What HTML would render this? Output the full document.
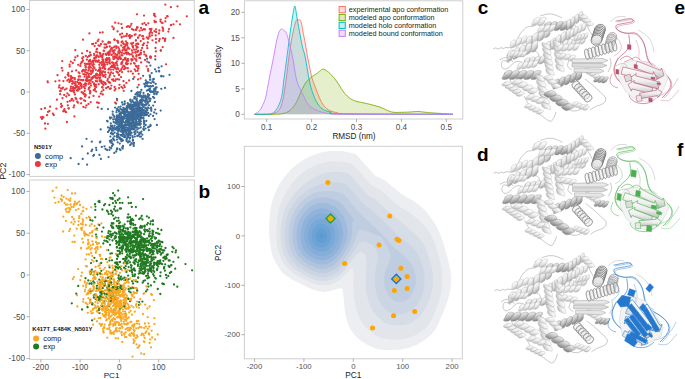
<!DOCTYPE html><html><head><meta charset="utf-8"><style>html,body{margin:0;padding:0;background:#fff;overflow:hidden}svg{display:block}</style></head><body><svg width="685" height="379" viewBox="0 0 685 379" font-family='"Liberation Sans", sans-serif'>
<rect width="685" height="379" fill="#fff"/>
<clipPath id="c1"><rect x="30" y="0.5" width="164" height="175.9"/></clipPath>
<rect x="29.5" y="0.5" width="164.8" height="175.9" fill="#fff" stroke="#cfcfcf" stroke-width="1"/>
<g clip-path="url(#c1)" stroke-linecap="round" stroke-width="2.3" fill="none">
<path stroke="#3c6b98" d="M124.0 127.7h0M141.5 109.8h0M133.8 110.8h0M127.3 134.1h0M117.0 108.8h0M128.5 121.6h0M126.9 111.4h0M132.8 115.1h0M140.7 118.4h0M121.8 117.2h0M136.8 98.5h0M147.1 82.1h0M111.9 128.9h0M153.8 82.4h0M144.3 122.5h0M127.9 137.1h0M119.7 125.1h0M134.7 111.1h0M121.5 118.2h0M122.9 146.5h0M125.0 125.0h0M136.2 116.5h0M131.7 123.5h0M134.8 113.3h0M110.0 128.4h0M113.0 138.4h0M137.8 109.6h0M117.2 124.2h0M146.4 97.7h0M156.5 94.2h0M110.5 142.4h0M122.5 125.5h0M128.2 131.2h0M138.4 107.2h0M121.1 127.4h0M128.7 125.7h0M132.6 108.3h0M129.4 112.7h0M125.0 130.2h0M119.0 130.2h0M116.5 122.2h0M150.3 79.7h0M121.4 139.4h0M151.7 73.1h0M133.0 120.0h0M148.2 90.0h0M131.4 91.0h0M130.0 137.7h0M150.6 86.3h0M116.4 128.0h0M114.6 132.7h0M109.7 147.4h0M126.6 141.0h0M140.3 117.6h0M145.7 125.0h0M134.4 117.6h0M132.5 136.2h0M144.8 105.5h0M134.4 129.4h0M126.5 139.9h0M116.5 112.2h0M126.5 121.2h0M143.6 110.0h0M113.7 139.4h0M136.0 120.2h0M140.8 114.0h0M122.8 120.6h0M136.0 119.2h0M122.5 127.1h0M113.1 144.5h0M119.0 116.0h0M148.1 127.4h0M137.4 92.5h0M131.6 114.7h0M132.2 105.1h0M134.7 112.5h0M130.7 123.9h0M134.5 104.9h0M132.8 125.6h0M153.0 86.0h0M124.7 128.5h0M163.4 76.3h0M126.2 132.9h0M126.8 107.3h0M112.2 128.9h0M123.8 108.6h0M122.8 120.2h0M100.4 141.6h0M153.1 115.9h0M126.1 124.4h0M140.7 127.5h0M127.7 103.1h0M123.9 126.2h0M132.7 112.5h0M134.1 109.0h0M149.9 88.9h0M128.9 118.6h0M113.6 115.6h0M133.4 112.2h0M110.8 125.9h0M134.4 127.1h0M134.8 118.9h0M125.6 127.9h0M139.9 100.7h0M133.3 118.0h0M137.3 110.4h0M99.9 142.4h0M112.2 143.4h0M100.7 129.4h0M126.5 125.6h0M137.2 111.7h0M150.7 92.0h0M145.8 80.4h0M128.5 134.9h0M135.5 94.3h0M140.5 92.2h0M119.4 128.5h0M87.1 164.7h0M141.9 109.9h0M116.9 115.5h0M131.4 102.5h0M124.5 104.3h0M147.2 86.0h0M135.2 108.6h0M124.3 117.0h0M134.4 122.3h0M118.0 136.0h0"/>
<path stroke="#e8383d" d="M137.0 14.3h0M127.9 58.8h0M82.1 53.3h0M99.1 75.0h0M109.5 59.4h0M130.8 63.7h0M127.9 59.9h0M117.2 40.8h0M100.6 70.6h0M106.1 44.5h0M85.6 67.1h0M143.1 38.7h0M88.7 76.0h0M124.7 49.6h0M114.2 58.6h0M113.1 73.3h0M155.7 35.4h0M100.7 93.7h0M102.4 68.1h0M80.5 98.4h0M85.6 80.3h0M110.0 88.9h0M72.2 90.7h0M128.0 48.4h0M116.5 71.6h0M42.3 117.0h0M95.8 69.8h0M159.4 30.5h0M91.6 78.1h0M83.5 93.4h0M87.4 73.0h0M123.7 44.0h0M67.7 74.8h0M114.1 58.7h0M86.8 79.3h0M87.0 63.8h0M93.5 60.8h0M45.0 123.5h0M69.6 64.7h0M149.6 36.4h0M103.6 64.3h0M124.1 69.2h0M79.3 88.8h0M59.0 87.4h0M43.4 117.5h0M114.6 87.0h0M81.5 62.4h0M85.7 85.7h0M113.2 63.0h0M104.9 83.2h0M125.4 50.7h0M102.8 94.5h0M89.5 87.4h0M63.4 81.1h0M122.1 27.9h0M56.4 108.7h0M87.1 72.8h0M156.0 21.8h0M68.9 95.2h0M132.6 46.2h0M102.5 59.5h0M85.3 72.1h0M93.6 66.8h0M85.2 100.9h0M82.9 92.9h0M86.1 80.8h0M128.3 71.4h0M124.9 58.4h0M98.8 60.5h0M155.3 16.4h0M127.1 64.2h0M68.7 75.9h0M132.7 52.7h0M91.4 79.3h0M152.0 35.3h0M86.5 80.3h0M74.6 60.1h0M101.5 83.0h0M134.6 34.8h0M110.8 88.4h0M99.7 67.3h0M107.0 62.4h0M72.2 78.0h0M119.5 84.8h0M169.0 29.1h0M70.0 80.3h0M91.0 74.1h0M71.3 78.9h0M148.0 69.1h0M100.1 73.1h0M109.8 46.5h0"/>
<path stroke="#3c6b98" d="M146.4 104.7h0M151.0 83.1h0M136.9 111.8h0M126.9 106.2h0M120.7 113.9h0M120.6 118.2h0M133.8 124.0h0M136.9 121.9h0M150.0 77.0h0M145.0 104.9h0M112.7 114.3h0M117.6 122.7h0M122.8 120.0h0M129.8 132.7h0M133.9 115.5h0M118.9 126.5h0M137.4 115.5h0M127.6 107.9h0M124.8 125.2h0M130.6 111.7h0M129.3 120.4h0M139.8 121.2h0M133.0 139.9h0M144.0 97.4h0M150.4 65.6h0M122.8 132.8h0M116.5 129.7h0M122.4 131.0h0M110.8 123.4h0M148.1 107.9h0M130.3 114.0h0M133.3 125.6h0M113.0 130.5h0M153.2 79.4h0M139.5 132.7h0M121.2 121.7h0M129.7 133.3h0M118.3 109.8h0M149.6 88.8h0M136.7 104.7h0M130.0 134.2h0M136.0 127.5h0M126.0 120.6h0M141.2 117.5h0M145.6 96.2h0M139.9 115.8h0M145.0 112.5h0M139.3 121.3h0M130.9 106.6h0M130.1 131.5h0M133.5 119.8h0M145.3 110.9h0M130.0 129.4h0M128.4 123.5h0M155.5 87.6h0M132.9 140.8h0M147.6 82.3h0M154.1 97.9h0M133.4 120.9h0M153.7 92.2h0M131.3 114.3h0M131.4 111.9h0M133.2 78.9h0M127.6 115.1h0M124.1 130.1h0M128.3 136.2h0M121.9 122.9h0M132.3 110.3h0M142.6 115.2h0M101.7 108.9h0M153.2 105.6h0M110.4 136.6h0M108.0 109.1h0M142.6 96.8h0M154.1 112.4h0M145.0 113.5h0M117.2 129.3h0M123.5 119.1h0M117.3 133.9h0M133.6 119.2h0M146.6 112.6h0M100.9 158.9h0M145.6 114.2h0M121.2 115.7h0M146.8 103.9h0M138.8 128.3h0M144.1 123.9h0M129.7 117.7h0M131.0 118.4h0M134.0 106.0h0M139.6 120.5h0M141.4 131.6h0M126.3 114.9h0M130.6 115.8h0M131.5 143.4h0M156.4 113.6h0M134.6 113.9h0M82.1 146.4h0M119.0 125.6h0M128.0 142.4h0M134.4 110.1h0M114.3 116.9h0M118.2 116.9h0M136.1 124.1h0M156.6 87.4h0M122.9 146.0h0M122.9 117.2h0M122.8 104.7h0M141.4 110.4h0M125.7 136.0h0M139.4 107.7h0M133.8 122.4h0"/>
<path stroke="#e8383d" d="M138.8 55.1h0M163.1 30.8h0M114.3 76.1h0M121.5 86.9h0M99.5 71.3h0M88.8 77.3h0M110.2 74.1h0M70.0 80.4h0M74.2 105.5h0M115.3 54.1h0M109.8 51.5h0M165.3 38.6h0M136.8 47.5h0M78.8 79.3h0M133.0 47.6h0M139.9 35.1h0M83.0 60.5h0M92.6 78.1h0M82.4 61.6h0M120.4 52.1h0M83.0 39.7h0M130.6 25.6h0M100.7 56.3h0M86.6 78.4h0M102.2 57.4h0M117.5 67.8h0M76.7 85.6h0M88.6 67.5h0M120.1 34.5h0M111.5 54.8h0M75.3 50.1h0M40.9 117.3h0M84.9 74.5h0M139.5 35.4h0M93.3 43.8h0M99.2 69.9h0M127.9 60.9h0M71.0 76.1h0M72.8 77.9h0M88.9 61.2h0M119.1 75.0h0M137.7 47.4h0M115.1 68.0h0M82.1 58.3h0M142.2 36.2h0M60.7 90.9h0M149.5 36.2h0M116.1 63.1h0M129.1 80.4h0M99.3 64.8h0M156.0 42.5h0M92.6 77.1h0M100.4 56.0h0M105.7 53.9h0M176.6 21.3h0M111.6 66.8h0M81.6 98.6h0M108.4 69.6h0M95.9 57.4h0M117.4 72.3h0M69.3 82.1h0M96.8 55.5h0M89.6 63.8h0M100.3 70.2h0M86.5 105.4h0M162.7 47.1h0M92.8 70.9h0M77.5 56.0h0M146.1 55.5h0M159.7 39.0h0M114.3 56.3h0M154.1 15.3h0M80.7 63.8h0M105.0 72.3h0M75.6 98.0h0M61.0 88.4h0M128.5 48.2h0M95.9 60.6h0M133.1 56.7h0M115.2 80.8h0M102.4 83.6h0M116.6 55.7h0M113.2 79.4h0M131.8 35.9h0M103.5 85.0h0M92.4 72.5h0M171.2 24.8h0M66.0 112.2h0M109.2 58.1h0M72.7 88.5h0M126.0 49.4h0M129.4 48.7h0M90.3 92.2h0M105.0 72.2h0M113.8 67.1h0M95.6 77.5h0M97.3 75.4h0M83.2 80.0h0M162.5 27.5h0M137.7 51.8h0M47.1 115.2h0M123.2 43.3h0M128.5 35.9h0M135.6 34.3h0M108.4 72.6h0M136.5 29.1h0"/>
<path stroke="#e8383d" d="M117.8 72.5h0M137.1 27.2h0M104.0 50.9h0M94.9 89.0h0M113.7 28.1h0M112.0 65.6h0M104.9 64.9h0M82.3 71.1h0M95.4 85.4h0M85.1 96.5h0M96.1 91.6h0M116.9 55.8h0M144.0 15.6h0M125.9 41.4h0M100.4 71.5h0M85.4 83.4h0M89.6 55.7h0M104.5 66.6h0M125.7 52.8h0M97.5 55.7h0M73.6 107.4h0M100.2 68.3h0M119.0 88.1h0M64.2 94.9h0M105.5 62.1h0M109.9 42.4h0M135.7 45.3h0M62.1 105.8h0M125.8 59.3h0M88.0 80.7h0M99.8 78.0h0M106.4 58.8h0M117.3 65.4h0M160.6 19.6h0M94.7 58.5h0M114.8 50.1h0M106.1 88.1h0M91.0 63.9h0M97.2 81.4h0M93.8 64.3h0M41.3 109.1h0M105.7 59.5h0M94.5 76.3h0M177.5 6.3h0M84.3 70.8h0M103.6 50.7h0M122.1 62.2h0M114.8 65.3h0M79.7 88.8h0M75.1 88.1h0M148.1 38.7h0M121.9 52.8h0M111.3 48.8h0M122.8 88.1h0M103.4 90.0h0M118.1 69.1h0M131.5 23.8h0M101.0 62.9h0M133.1 42.9h0M77.8 89.4h0M138.2 37.5h0M89.1 87.9h0M90.5 70.9h0M103.0 59.6h0M74.9 94.4h0M125.0 46.5h0M139.3 54.6h0M95.9 75.0h0M173.5 37.9h0M122.5 67.2h0M96.1 51.8h0M88.6 89.3h0M49.4 111.0h0M77.8 90.7h0M80.1 83.0h0M123.5 81.2h0M99.8 45.8h0M45.0 108.2h0M105.6 74.6h0M85.8 67.6h0M92.5 81.9h0M87.1 77.1h0M140.6 54.3h0M88.5 84.0h0"/>
<path stroke="#3c6b98" d="M125.3 128.9h0M165.0 87.9h0M116.5 122.2h0M141.2 109.8h0M128.8 113.2h0M133.4 113.4h0M137.9 123.9h0M144.1 100.3h0M118.3 134.5h0M137.3 106.1h0M148.6 86.4h0M124.8 128.3h0M118.5 119.8h0M149.1 62.6h0M133.9 119.7h0M118.4 131.6h0M140.4 119.0h0M128.9 120.3h0M134.2 128.3h0M137.8 108.5h0M119.3 119.6h0M117.4 121.3h0M113.0 133.8h0M130.2 145.0h0M148.9 82.6h0M140.3 118.2h0M96.4 150.1h0M137.9 124.9h0M146.0 82.8h0M137.3 96.1h0M123.5 127.4h0M119.7 137.3h0M142.0 108.5h0M112.1 126.0h0M128.2 115.7h0M118.5 116.5h0M140.1 94.1h0M119.6 113.7h0M119.7 116.8h0M131.2 115.6h0M118.3 128.8h0M122.2 124.9h0M126.0 118.3h0M131.8 126.4h0M122.3 136.1h0M125.5 124.9h0M155.3 59.4h0M116.6 116.8h0M111.9 130.8h0M137.6 107.0h0M149.7 90.1h0M121.8 124.3h0M132.4 100.5h0M144.7 113.9h0M119.4 138.5h0M146.0 115.2h0M156.9 125.0h0M138.6 115.4h0M120.8 112.4h0M120.6 121.4h0M111.5 132.8h0M125.1 113.3h0M126.5 134.2h0M129.9 124.4h0M127.9 112.5h0M113.4 128.1h0M135.3 102.3h0M155.5 88.8h0M119.9 125.8h0M133.2 104.8h0M131.3 124.2h0M133.7 129.1h0M129.1 130.8h0M135.0 113.1h0M136.4 124.2h0M109.1 130.5h0M136.1 119.1h0M119.4 114.9h0M140.4 107.6h0M137.6 112.6h0M137.6 110.3h0M139.8 110.8h0M143.4 118.3h0M139.5 105.5h0M139.8 110.3h0M128.5 132.9h0M112.0 146.0h0M132.0 111.9h0M126.6 115.2h0M152.3 92.1h0M142.2 105.0h0M135.0 125.9h0M134.0 143.0h0M128.1 119.2h0M143.9 130.1h0M126.8 138.7h0M134.1 119.2h0M133.2 117.5h0M143.5 92.9h0M146.1 100.1h0M123.5 128.0h0M161.3 88.8h0M132.4 113.0h0M132.5 105.9h0M109.5 149.9h0M139.9 124.9h0M144.0 120.6h0M126.5 130.5h0M147.1 58.7h0M154.1 89.2h0M130.1 129.3h0M127.0 119.9h0M120.0 122.3h0M120.6 138.7h0M135.2 111.1h0M121.9 117.3h0M121.7 129.4h0M125.6 112.6h0M132.9 126.3h0M127.7 129.6h0M132.7 101.3h0M127.6 115.0h0M124.6 114.3h0M132.6 104.9h0M128.2 123.1h0M137.1 118.7h0M120.3 125.6h0M150.4 108.4h0M144.5 114.8h0M137.3 129.4h0M121.1 121.3h0M145.5 128.6h0M122.7 122.6h0M133.9 102.7h0"/>
<path stroke="#3c6b98" d="M116.9 98.9h0M117.0 139.6h0M154.2 94.0h0M141.9 113.7h0M131.5 114.1h0M141.7 109.2h0M141.0 99.9h0M158.7 67.7h0M137.9 103.4h0M127.4 111.8h0M150.5 124.9h0M125.2 122.5h0M137.4 102.0h0M129.8 117.0h0M116.1 103.6h0M132.3 111.2h0M141.2 108.2h0M125.5 127.4h0M128.1 115.6h0M121.9 128.6h0M130.3 99.7h0M133.5 144.6h0M119.1 110.9h0M107.1 150.0h0M154.2 90.4h0M82.7 158.9h0M146.3 111.6h0M129.6 127.0h0M143.6 110.0h0M133.6 114.1h0M129.4 121.7h0M93.3 155.8h0M117.3 133.5h0M149.5 98.6h0M117.8 129.6h0M117.7 129.5h0M139.9 101.7h0M143.9 115.7h0M122.9 140.5h0M150.1 86.3h0M156.6 93.4h0M155.2 109.6h0M123.0 130.9h0M147.9 94.2h0M132.4 120.2h0M127.7 121.9h0M161.6 66.3h0M137.0 105.3h0M94.0 155.0h0M139.8 110.0h0M118.6 107.2h0M134.8 125.0h0M132.6 106.2h0M126.3 109.2h0M135.7 114.4h0M145.1 107.8h0M129.5 132.4h0M134.3 132.2h0M114.3 152.9h0M130.1 104.6h0M123.3 107.8h0M150.5 114.3h0M120.7 135.1h0M124.7 103.4h0M136.6 117.7h0M114.6 125.6h0M133.7 105.1h0M134.0 111.7h0M127.7 120.9h0M124.7 111.7h0M141.2 103.3h0M139.1 103.0h0M143.4 118.3h0M142.2 101.5h0M124.0 111.3h0M118.3 127.1h0M134.0 105.8h0M124.3 134.8h0M116.7 136.2h0M125.8 131.7h0M146.8 109.4h0M132.7 137.6h0M140.8 114.2h0M140.8 96.6h0M138.4 114.5h0M149.9 91.1h0M127.5 127.8h0M145.9 98.1h0M131.7 108.8h0M135.7 102.9h0M119.8 124.0h0M121.7 134.8h0M145.8 108.3h0M160.7 110.6h0M113.9 127.7h0M142.8 117.8h0M153.1 97.0h0M130.6 118.8h0M125.8 124.8h0M114.3 140.3h0"/>
<path stroke="#e8383d" d="M117.1 100.2h0M83.2 93.0h0M129.7 54.4h0M138.8 55.1h0M94.3 55.4h0M138.4 68.3h0M116.6 63.7h0M152.1 32.8h0M137.6 27.5h0M115.4 57.6h0M103.3 60.3h0M107.8 79.1h0M130.6 36.8h0M59.4 80.7h0M128.0 26.2h0M121.7 37.5h0M47.6 81.3h0M94.5 68.1h0M99.5 80.1h0M86.9 59.6h0M116.6 46.3h0M140.7 53.5h0M109.6 52.1h0M117.3 54.5h0M121.1 77.1h0M89.4 33.4h0M114.6 39.9h0M132.9 46.4h0M133.6 30.0h0M104.1 65.5h0M122.4 50.5h0M126.4 82.9h0M143.9 43.3h0M99.9 53.0h0M132.6 59.7h0M136.0 30.0h0M135.7 71.0h0M150.2 56.4h0M98.8 57.0h0M102.7 71.8h0M64.0 110.5h0M124.1 85.3h0M126.5 64.0h0M47.8 82.3h0M110.8 69.7h0M95.9 81.0h0M75.3 57.4h0M160.8 50.8h0M59.4 85.4h0M133.0 56.3h0M113.5 80.8h0M127.5 43.3h0M108.7 82.0h0M103.1 67.2h0M111.2 72.4h0M115.4 57.1h0M165.0 39.3h0M166.1 64.3h0M104.8 69.2h0M118.1 42.8h0M75.1 85.3h0M137.6 43.6h0M98.5 45.4h0M104.2 63.7h0M126.6 60.5h0M113.8 47.3h0M119.5 50.7h0M154.5 20.8h0M103.2 76.3h0M99.1 96.6h0M138.1 50.9h0M94.0 76.1h0M102.8 75.0h0M125.6 44.5h0M89.4 76.9h0M113.5 65.4h0M155.9 38.9h0M83.9 94.3h0M136.5 55.2h0M62.5 98.1h0M81.6 92.2h0M140.1 58.0h0M95.9 84.6h0M163.1 28.9h0M66.3 96.5h0M115.4 63.2h0M156.0 29.3h0M102.8 61.2h0M118.4 51.7h0M119.8 71.0h0M112.3 26.6h0M121.7 36.9h0M75.1 88.4h0M83.8 69.8h0M71.2 78.0h0M81.1 103.3h0M80.7 98.7h0M89.7 65.9h0M136.1 59.4h0M90.6 80.7h0M122.4 41.4h0M89.6 66.7h0M64.8 89.6h0M102.1 55.1h0M97.9 61.8h0M107.2 59.9h0M111.6 54.9h0M148.3 23.3h0M85.8 55.9h0M73.9 92.4h0M135.4 52.6h0M147.3 61.7h0M69.8 101.1h0M89.0 69.1h0M74.0 83.1h0M68.6 79.3h0M80.1 76.4h0M131.7 54.4h0"/>
<path stroke="#3c6b98" d="M130.6 108.0h0M147.1 114.7h0M123.5 118.9h0M137.3 136.0h0M138.0 113.9h0M120.0 119.5h0M142.2 104.3h0M144.1 113.1h0M145.0 86.7h0M134.5 116.9h0M131.8 127.4h0M143.2 104.4h0M145.2 95.6h0M139.9 121.9h0M115.1 107.6h0M130.1 131.7h0M128.6 118.0h0M140.7 133.1h0M121.5 120.6h0M139.2 133.9h0M141.5 111.8h0M118.3 122.1h0M129.6 131.6h0M108.6 157.1h0M123.2 127.2h0M108.0 132.0h0M121.4 123.0h0M91.5 151.2h0M147.5 107.6h0M132.4 129.3h0M138.3 115.6h0M140.1 100.9h0M108.0 127.4h0M128.8 107.2h0M133.0 116.7h0M150.9 86.5h0M141.4 90.0h0M122.6 131.6h0M138.0 116.4h0M137.9 108.2h0M142.8 100.6h0M148.9 130.2h0M117.5 128.4h0M117.1 148.4h0M140.9 95.8h0M117.4 118.2h0M130.0 126.4h0M135.6 130.9h0M120.8 139.7h0M117.0 137.1h0M130.4 100.9h0M110.2 118.5h0M133.2 109.2h0M138.8 117.3h0M143.9 121.9h0M130.7 104.6h0M142.0 109.7h0M151.9 91.3h0M112.5 134.3h0M130.3 130.2h0M124.3 110.5h0M122.5 111.5h0M117.8 130.2h0M134.8 136.6h0M122.1 120.2h0M139.4 96.4h0M141.2 115.2h0M122.1 130.6h0M122.0 130.7h0M130.0 108.8h0M122.0 102.5h0M133.8 112.0h0M118.1 127.7h0M142.3 134.7h0M126.8 111.6h0M138.2 111.2h0M99.4 154.9h0M148.3 96.6h0M147.4 85.8h0M124.3 118.3h0M139.5 134.1h0M139.8 120.1h0M136.3 111.6h0M137.8 105.3h0M133.9 114.8h0M131.6 106.9h0M143.7 97.6h0M148.1 94.6h0M161.5 76.0h0M155.7 91.7h0M116.2 151.5h0M91.8 141.7h0M130.2 106.3h0M146.8 100.0h0M127.9 129.4h0M132.1 116.7h0M128.5 123.4h0M138.1 94.6h0M140.9 121.4h0M147.3 96.8h0M136.9 100.4h0M123.5 134.1h0M132.1 113.8h0M144.8 112.9h0M154.9 102.0h0M101.8 146.9h0M146.4 99.1h0M136.4 114.8h0"/>
<path stroke="#e8383d" d="M93.3 64.3h0M86.4 74.8h0M126.6 62.3h0M108.7 51.9h0M146.9 37.5h0M130.0 36.7h0M126.8 54.0h0M147.3 48.2h0M131.2 59.3h0M160.8 50.2h0M116.5 57.3h0M77.3 82.2h0M95.9 61.7h0M115.2 22.7h0M90.0 91.0h0M131.8 60.5h0M65.3 111.6h0M72.2 83.8h0M142.4 23.9h0M108.3 42.9h0M119.3 53.6h0M113.8 66.7h0M89.2 97.4h0M89.1 55.9h0M90.9 55.1h0M124.2 47.8h0M76.2 70.4h0M136.9 46.7h0M96.3 73.8h0M55.4 81.3h0M150.6 57.9h0M96.0 77.7h0M87.1 81.2h0M88.4 63.6h0M94.8 85.0h0M104.5 47.7h0M134.3 77.1h0M71.4 100.1h0M63.2 111.3h0M67.5 101.8h0M105.1 82.9h0M74.0 90.7h0M160.5 21.3h0M154.5 31.2h0M126.7 45.3h0M105.7 47.6h0M74.8 78.1h0M138.0 68.7h0M144.1 51.8h0M93.0 69.1h0M78.9 89.4h0M138.8 84.8h0M98.5 39.6h0M79.0 87.1h0M149.9 32.8h0M88.3 70.6h0M146.0 24.9h0M93.5 95.9h0M97.9 61.2h0M96.8 73.8h0M94.1 53.8h0M102.7 32.3h0M159.0 33.5h0M103.2 71.5h0M48.0 111.9h0M138.5 65.9h0M167.7 16.3h0M77.2 101.7h0M126.1 36.0h0M85.4 65.4h0M102.0 62.1h0M111.4 85.6h0M131.2 43.4h0M84.9 88.4h0M138.0 37.8h0M165.3 21.4h0M113.4 59.0h0M136.2 49.3h0M131.8 59.2h0M71.9 99.2h0M135.7 51.6h0M101.2 80.5h0M118.4 47.3h0M122.2 62.3h0M81.7 86.4h0M121.3 69.8h0M151.3 29.0h0M90.6 73.4h0M134.7 69.3h0M141.1 28.0h0M67.3 80.5h0M78.8 76.5h0M122.3 55.3h0M107.8 53.9h0M63.0 87.6h0M110.6 50.2h0M80.9 79.9h0M101.6 91.6h0M102.6 87.6h0M129.2 54.1h0M83.4 106.9h0M87.6 57.1h0M71.0 86.7h0M155.5 48.0h0M90.1 60.0h0M121.4 24.1h0M132.9 73.7h0M70.9 88.7h0M94.2 58.1h0M72.0 71.3h0"/>
<path stroke="#e8383d" d="M124.4 46.8h0M141.1 50.4h0M68.3 74.5h0M96.3 56.5h0M123.7 90.8h0M42.0 118.9h0M154.2 13.8h0M107.4 80.7h0M91.1 61.8h0M129.9 38.0h0M149.5 34.1h0M106.2 60.2h0M114.8 67.1h0M85.3 94.5h0M93.1 62.5h0M179.9 24.3h0M109.0 68.7h0M72.9 81.8h0M109.0 62.6h0M98.0 70.8h0M123.9 36.4h0M113.5 53.4h0M186.8 16.3h0M119.2 49.1h0M144.4 54.4h0M113.6 29.3h0M78.4 79.9h0M89.4 82.3h0M131.8 44.2h0M117.6 31.4h0M88.5 103.9h0M92.9 60.6h0M92.1 44.1h0M108.4 87.2h0M96.1 87.0h0M162.6 23.1h0M71.2 81.3h0M134.6 58.6h0M96.2 57.4h0M119.0 57.9h0M141.1 62.4h0M126.8 26.9h0M135.9 40.2h0M123.8 59.8h0M84.7 90.9h0M109.6 53.3h0M113.2 50.9h0M73.2 88.1h0M150.3 57.4h0M106.4 54.9h0M109.8 75.7h0M122.9 47.6h0M127.9 47.5h0M94.1 84.5h0M94.8 86.6h0M97.5 52.3h0M122.0 72.1h0M89.0 61.0h0M114.4 39.5h0M121.6 42.2h0M135.9 40.7h0M121.5 62.8h0M119.4 56.4h0M132.0 29.2h0M73.4 100.7h0M120.3 58.8h0M97.1 48.9h0M45.4 128.7h0M125.1 68.1h0M88.7 64.1h0M93.5 77.2h0M121.4 64.1h0M80.3 65.9h0M107.7 87.2h0M142.1 48.0h0M60.1 91.2h0M164.9 41.0h0M84.6 76.7h0M100.2 74.7h0M138.1 79.4h0M75.3 81.9h0M108.6 62.4h0M114.0 52.5h0M104.2 75.3h0M85.4 95.8h0M89.2 80.2h0M82.9 70.1h0M134.1 49.6h0M93.7 90.1h0M75.5 84.0h0M67.8 105.3h0M109.9 42.7h0M145.0 29.5h0M111.8 47.9h0M117.7 79.2h0M95.1 85.2h0M135.9 65.9h0M77.0 86.9h0M83.2 57.2h0M101.9 72.8h0M156.1 32.0h0M151.0 56.9h0M67.4 93.5h0M121.6 68.8h0M110.8 67.2h0M61.1 103.9h0M112.0 79.6h0M115.0 46.3h0M129.8 35.1h0M112.1 62.5h0M84.9 63.6h0"/>
<path stroke="#3c6b98" d="M121.5 131.7h0M159.1 71.0h0M143.1 75.8h0M123.9 112.9h0M155.3 89.8h0M130.7 125.7h0M124.3 109.1h0M139.3 122.0h0M125.9 115.4h0M139.1 123.7h0M139.4 120.5h0M78.6 164.0h0M113.2 119.4h0M131.6 117.7h0M131.9 128.1h0M116.9 149.4h0M129.9 115.8h0M120.6 106.6h0M134.7 104.1h0M133.6 123.2h0M132.3 112.1h0M87.8 153.5h0M114.6 129.4h0M136.3 121.6h0M118.9 125.4h0M125.1 122.7h0M122.7 117.6h0M132.9 105.6h0M123.2 112.9h0M147.1 101.8h0M135.4 133.5h0M127.6 117.2h0M141.0 136.6h0M127.7 117.8h0M117.1 126.9h0M150.5 98.9h0M124.5 113.5h0M148.0 96.6h0M141.9 112.2h0M128.8 104.4h0M120.7 122.4h0M136.7 114.2h0M136.1 122.8h0M128.9 105.4h0M128.9 112.6h0M118.2 116.6h0M70.7 158.2h0M120.7 131.3h0M135.6 124.4h0M144.0 126.4h0M117.9 116.4h0M130.8 124.3h0M117.1 118.7h0M109.9 140.9h0M130.6 123.6h0M120.6 121.1h0M140.1 92.4h0M122.7 110.2h0M109.9 117.4h0M135.6 105.9h0M124.6 131.1h0M128.0 105.7h0M127.0 122.2h0M135.4 114.0h0M112.2 126.0h0M131.5 120.8h0M118.5 134.7h0M133.1 107.6h0M122.2 128.3h0M129.4 117.7h0M107.1 120.8h0M126.4 121.8h0M125.9 114.7h0M110.0 128.3h0M111.2 148.2h0M104.5 146.3h0M155.7 83.9h0M121.7 126.3h0M138.9 115.7h0M131.5 117.6h0M134.8 134.2h0M138.4 135.4h0M121.3 113.2h0M110.1 128.9h0M146.3 120.9h0M116.8 110.3h0M128.3 135.5h0M139.2 114.2h0M146.2 104.2h0M128.4 117.5h0M134.0 112.8h0M139.9 136.6h0M122.4 125.9h0M120.8 119.3h0M133.4 115.0h0M133.2 117.9h0M140.8 103.8h0M119.8 143.6h0M124.5 111.7h0M130.6 135.2h0M122.3 147.7h0M125.1 111.4h0M134.8 117.8h0M117.8 118.2h0M118.1 126.7h0M130.2 122.9h0M136.8 108.9h0"/>
<path stroke="#3c6b98" d="M143.6 128.4h0M149.8 75.4h0M129.1 128.3h0M141.4 104.2h0M96.1 147.8h0M129.8 123.9h0M127.5 130.1h0M117.9 137.2h0M112.7 111.7h0M151.0 107.6h0M126.0 115.9h0M128.0 118.9h0M156.3 71.4h0M127.1 109.8h0M105.5 149.0h0M132.3 118.7h0M119.1 111.6h0M149.9 101.0h0M137.4 114.4h0M112.2 128.1h0M135.1 97.5h0M140.3 112.6h0M154.6 90.4h0M126.3 121.5h0M129.5 117.7h0M150.5 126.1h0M136.7 93.1h0M134.6 127.6h0M130.5 115.4h0M127.4 110.1h0M127.5 137.6h0M136.5 115.8h0M169.5 74.8h0M141.3 101.5h0M134.3 106.2h0M139.9 111.7h0M137.3 108.4h0M143.3 129.1h0M126.4 116.0h0M121.5 109.7h0M142.7 99.8h0M111.5 125.8h0M123.2 113.2h0M131.3 114.0h0M140.6 117.4h0M148.1 112.9h0M137.5 87.3h0M130.4 117.5h0M143.4 95.4h0M132.4 122.1h0M122.2 129.9h0M122.1 120.3h0M151.3 108.9h0M92.2 149.7h0M111.5 117.6h0M132.4 109.5h0M120.5 150.1h0M124.2 115.0h0M140.8 123.8h0M137.8 117.2h0M154.6 119.1h0M121.3 125.8h0M116.0 120.4h0M145.2 101.9h0M125.2 125.1h0M141.2 113.4h0M138.2 92.5h0M133.1 109.8h0M134.4 105.6h0M131.3 129.0h0M134.2 98.6h0M123.8 132.3h0M121.5 141.2h0M130.9 109.0h0M124.9 115.2h0M142.6 138.9h0M122.7 148.6h0M125.1 112.4h0M111.0 133.5h0M153.8 79.0h0M138.0 111.5h0M133.9 114.6h0M133.8 145.9h0M136.4 93.8h0M149.3 95.1h0M130.4 119.3h0M128.7 134.3h0M148.5 101.7h0M128.5 122.6h0M141.5 108.8h0M145.7 85.5h0M86.5 138.8h0M129.8 141.5h0M152.6 81.5h0M134.6 123.0h0M119.2 117.1h0M141.9 97.9h0M111.4 140.1h0M129.6 114.7h0M121.3 130.1h0M138.2 104.1h0M139.4 95.8h0M126.5 109.9h0M131.8 143.5h0M121.9 139.4h0"/>
<path stroke="#e8383d" d="M84.0 100.3h0M62.4 88.7h0M97.0 78.4h0M121.2 45.5h0M79.0 84.0h0M70.1 90.4h0M126.9 52.5h0M155.9 51.4h0M154.8 22.2h0M98.7 84.2h0M115.1 102.6h0M100.5 75.6h0M168.4 31.6h0M87.3 77.4h0M105.8 84.1h0M171.0 25.2h0M114.6 90.4h0M85.5 107.6h0M136.3 60.8h0M76.3 86.0h0M165.3 4.6h0M123.1 60.1h0M79.0 82.9h0M118.8 74.6h0M97.8 107.4h0M62.3 61.1h0M78.2 64.8h0M119.2 79.6h0M118.1 59.4h0M62.5 70.6h0M142.3 30.2h0M68.5 108.3h0M77.0 90.3h0M82.2 71.6h0M91.0 85.6h0M148.3 38.3h0M163.0 38.2h0M99.4 69.3h0M127.8 68.2h0M88.8 73.9h0M109.5 82.5h0M154.5 14.1h0M110.0 82.8h0M84.2 84.7h0M83.3 74.1h0M60.1 94.2h0M81.4 85.4h0M69.7 66.6h0M52.9 113.6h0M109.7 61.0h0M108.9 55.0h0M126.9 34.0h0M108.7 42.0h0M125.7 68.1h0M143.2 45.0h0M167.1 16.2h0M134.7 63.7h0M81.0 85.5h0M131.0 71.3h0M91.0 67.7h0M71.0 91.0h0M102.6 41.5h0M90.7 102.1h0M105.1 68.7h0M115.5 89.0h0M150.7 31.4h0M85.6 95.1h0M127.2 45.0h0M89.9 93.4h0M78.0 102.7h0M117.8 41.2h0M84.0 86.9h0M155.3 56.2h0M107.4 58.5h0M100.0 32.6h0M106.9 46.9h0M102.5 64.5h0M115.9 79.5h0M170.9 7.2h0M97.1 102.5h0M105.4 77.2h0M116.8 61.6h0M106.9 58.2h0M92.8 71.2h0M118.5 23.3h0M123.3 65.6h0M152.5 40.3h0M125.9 45.1h0M101.7 73.3h0M73.6 88.9h0M94.7 46.1h0M125.9 63.5h0M75.8 87.5h0M165.6 18.1h0M78.2 79.9h0M127.0 42.8h0M125.4 57.8h0M64.4 110.4h0M140.8 53.0h0M150.9 30.8h0M134.0 63.1h0M135.7 52.3h0M100.5 71.9h0M77.3 86.6h0M76.4 99.2h0M66.5 88.7h0M102.1 87.2h0M138.7 73.8h0M129.7 27.2h0M64.5 109.1h0M147.0 45.7h0M116.4 48.0h0M100.2 53.9h0"/>
<path stroke="#3c6b98" d="M150.0 79.6h0M147.4 110.1h0M157.7 92.2h0M137.6 117.1h0M145.9 100.8h0M116.8 120.2h0M110.4 128.2h0M132.8 122.9h0M130.4 123.9h0M115.1 119.1h0M133.7 117.1h0M134.8 111.7h0M127.9 106.0h0M147.8 103.2h0M114.3 136.4h0M124.1 125.4h0M128.5 113.0h0M135.8 125.2h0M131.6 132.9h0M141.9 101.7h0M138.7 119.3h0M135.6 108.3h0M137.0 127.3h0M147.1 83.7h0M144.2 113.3h0M137.4 132.1h0M128.4 112.6h0M131.8 126.3h0M161.2 76.3h0M138.2 115.4h0M125.5 108.6h0M121.2 117.9h0M137.4 103.2h0M140.2 95.6h0M115.4 128.8h0M141.1 116.5h0M119.7 122.1h0M117.0 127.5h0M136.2 99.2h0M123.0 130.5h0M123.0 134.7h0M132.8 117.8h0M155.0 69.3h0M119.6 149.1h0M159.1 71.4h0M121.3 126.7h0M116.6 127.4h0M144.3 84.0h0M137.0 108.2h0M107.6 121.4h0M129.6 125.2h0M120.3 108.8h0M137.3 115.9h0M149.0 105.3h0M146.1 82.9h0M123.1 122.1h0M128.6 141.4h0M119.3 123.7h0M148.6 98.6h0M119.7 123.4h0M148.8 115.9h0M128.2 117.2h0M124.7 101.4h0M117.2 128.5h0M118.4 115.8h0M138.6 119.6h0M146.9 90.7h0M151.3 110.8h0M128.1 120.3h0M130.2 119.4h0M123.2 134.2h0M132.4 105.7h0M134.5 96.9h0M127.9 124.9h0M139.9 109.0h0M126.4 116.4h0M138.7 113.8h0M129.9 117.5h0M130.7 132.7h0M142.6 105.8h0M148.6 97.6h0M143.2 106.9h0M131.9 115.5h0M131.5 118.0h0M128.3 104.5h0M143.1 112.2h0M149.1 126.7h0M133.1 129.2h0M111.7 141.4h0M139.0 105.3h0M133.2 105.6h0M115.5 123.0h0M123.0 118.8h0M129.7 138.5h0M117.2 117.0h0M124.9 137.2h0M124.1 137.0h0M127.9 116.4h0M150.2 91.3h0M117.7 142.3h0M113.7 122.0h0M140.0 111.7h0M135.7 104.9h0M129.4 125.1h0M129.8 116.5h0"/>
<path stroke="#e8383d" d="M50.1 106.7h0M57.5 75.2h0M73.1 87.1h0M86.5 64.1h0M143.8 29.1h0M72.9 90.8h0M100.0 77.6h0M108.5 58.9h0M56.9 99.7h0M101.8 65.1h0M121.4 55.2h0M99.9 81.4h0M86.0 69.8h0M161.6 22.6h0M173.5 24.3h0M92.5 65.5h0M87.1 50.9h0M72.4 81.1h0M146.3 56.2h0M71.5 77.5h0M98.3 77.4h0M137.6 70.8h0M78.1 89.7h0M151.2 29.1h0M103.5 81.8h0M111.9 49.0h0M159.1 41.0h0M90.5 83.7h0M109.9 63.5h0M66.9 122.0h0M74.8 79.3h0M131.9 50.5h0M127.8 63.6h0M148.2 71.0h0M113.2 56.9h0M101.0 44.0h0M85.0 84.0h0M143.1 36.1h0M71.9 99.0h0M147.8 42.5h0M102.6 56.0h0M123.7 49.4h0M146.6 66.3h0M95.9 43.1h0M107.6 52.8h0M136.5 43.8h0M61.8 67.9h0M103.3 53.8h0M96.6 49.6h0M53.7 115.0h0M101.4 81.4h0M136.4 56.5h0M90.9 70.7h0M86.0 83.9h0M143.6 38.8h0M109.2 77.3h0M104.5 44.3h0M94.7 90.4h0M142.7 45.1h0M109.0 53.3h0M118.7 52.4h0M112.8 66.9h0M145.1 60.0h0M61.2 107.0h0M121.1 58.8h0M112.5 51.4h0M74.4 116.4h0M99.9 62.6h0M97.7 41.2h0M78.7 72.4h0M82.5 80.4h0M81.6 87.8h0M122.1 33.6h0M70.8 61.6h0M72.8 63.0h0M94.1 83.5h0M68.3 72.9h0M77.5 90.1h0M126.6 50.1h0M103.4 62.6h0M79.5 73.3h0M89.6 61.5h0M124.1 53.6h0M113.3 69.6h0M124.8 87.1h0M68.8 108.4h0M107.3 64.3h0M138.3 44.0h0M81.3 84.2h0M136.9 66.8h0M139.7 30.7h0M121.7 63.8h0M144.4 23.1h0M116.3 69.1h0M80.8 85.5h0M149.7 29.1h0M139.4 57.9h0M103.6 67.5h0M65.3 77.5h0M98.8 103.0h0M94.5 60.4h0M47.9 123.8h0M128.1 53.0h0M108.1 53.9h0M91.9 78.5h0M117.3 58.5h0M113.9 65.0h0M124.6 66.4h0M120.1 57.3h0M140.6 78.3h0M90.0 52.5h0M140.7 41.1h0"/>
</g>
<clipPath id="c2"><rect x="30" y="180" width="164" height="179.4"/></clipPath>
<rect x="29.5" y="180" width="164.8" height="179.4" fill="#fff" stroke="#cfcfcf" stroke-width="1"/>
<g clip-path="url(#c2)" stroke-linecap="round" stroke-width="2.3" fill="none">
<path stroke="#f9a825" d="M102.1 274.3h0M131.9 314.7h0M103.3 307.9h0M80.3 280.1h0M107.5 308.9h0M113.6 311.3h0M145.2 304.7h0M126.4 282.4h0M102.7 314.1h0M99.9 286.6h0M105.5 317.2h0M106.9 319.5h0M111.1 308.4h0M98.8 318.1h0M100.8 290.1h0M119.7 324.8h0M70.5 198.6h0M66.5 211.8h0M106.9 298.0h0M88.4 298.2h0M137.1 335.5h0M137.1 301.6h0M88.7 235.3h0M152.2 337.5h0M104.5 315.9h0M115.6 273.6h0M87.6 293.2h0M108.3 295.6h0M125.8 308.4h0M101.0 258.9h0M89.9 233.2h0M82.1 227.7h0M116.5 330.9h0M85.9 266.1h0M113.3 296.9h0M105.4 308.2h0M127.8 298.3h0M113.1 298.9h0M110.8 303.9h0M126.6 324.3h0M92.4 241.4h0M115.9 289.0h0M124.6 262.0h0M110.2 300.9h0M124.1 295.4h0M104.9 295.1h0M122.2 307.4h0M62.1 199.8h0M102.7 309.1h0M105.1 273.1h0M126.4 277.8h0M140.1 299.2h0M143.1 334.1h0M103.5 286.2h0M108.6 315.1h0M114.4 300.2h0M95.3 270.8h0M81.7 230.0h0M100.4 293.1h0M126.2 308.8h0M112.9 306.2h0M124.2 324.0h0M102.6 291.4h0M112.4 291.7h0M108.8 292.5h0M115.0 302.9h0M111.9 298.5h0M134.5 335.5h0M119.2 323.7h0M99.7 255.0h0M97.8 290.2h0M122.6 287.1h0M124.2 303.9h0M86.8 248.7h0M109.4 294.5h0M113.7 333.9h0M136.9 321.0h0M72.8 279.0h0M93.0 308.9h0M95.6 266.9h0M105.4 310.1h0M100.1 299.0h0M106.7 306.5h0M65.9 220.8h0M127.7 323.2h0M88.8 247.8h0M108.0 289.8h0M120.6 303.8h0M124.5 283.4h0M80.0 205.0h0M132.0 287.2h0M125.8 302.1h0M124.4 297.9h0M122.8 291.5h0M109.1 312.9h0M90.3 270.9h0M114.1 279.4h0M108.2 306.6h0M115.0 266.2h0M124.1 280.4h0M113.8 324.7h0M130.6 328.2h0M116.2 330.0h0M115.2 312.8h0M149.2 334.4h0M102.0 236.5h0M110.7 307.8h0M97.2 310.6h0M123.8 321.8h0M88.5 247.1h0M66.5 208.7h0M132.5 356.6h0M125.1 311.6h0M115.8 287.7h0M134.3 336.0h0"/>
<path stroke="#217a21" d="M144.2 273.0h0M119.0 236.9h0M155.1 277.8h0M119.3 232.5h0M106.1 297.5h0M147.9 223.1h0M102.4 209.5h0M138.0 264.7h0M106.2 280.9h0M103.9 283.8h0M138.6 242.3h0M144.1 234.2h0M92.4 303.4h0M143.3 251.1h0M161.5 246.6h0M103.2 291.9h0M119.1 223.3h0M133.8 242.6h0M138.1 246.5h0M128.8 203.2h0M147.4 269.6h0M144.2 268.3h0M153.4 254.2h0M127.2 237.5h0M139.9 254.2h0M140.8 226.0h0M122.1 229.9h0M120.1 226.2h0M131.3 249.2h0M109.4 205.0h0M140.7 264.8h0M140.1 266.6h0M108.7 231.2h0M119.6 279.6h0M117.3 242.5h0M140.1 235.3h0M134.6 276.0h0M118.9 231.4h0M127.2 233.2h0M102.8 288.1h0M149.8 231.7h0M136.5 228.1h0M117.0 262.5h0M166.0 256.8h0M152.8 220.5h0M157.1 251.1h0M113.4 223.4h0M124.9 231.6h0M92.1 320.3h0M155.9 278.6h0M140.9 227.7h0M139.1 244.8h0M119.9 208.5h0M156.7 243.1h0M158.9 240.6h0M111.8 223.2h0M151.0 269.5h0M119.3 227.9h0M127.4 254.3h0M143.4 239.1h0M115.7 217.6h0M172.3 251.8h0M144.2 246.0h0M140.1 252.9h0M138.4 232.7h0M143.9 263.5h0M120.5 248.1h0M149.5 228.8h0M145.0 241.8h0M94.4 283.0h0M144.9 263.9h0M152.0 240.9h0M145.1 259.2h0M111.2 225.6h0M150.9 238.8h0M85.5 278.2h0M139.1 250.7h0M103.4 227.6h0M144.6 225.6h0M124.3 237.0h0M123.8 227.0h0M96.6 288.3h0M160.4 249.0h0M142.2 241.3h0M101.3 270.8h0M130.4 238.2h0M101.7 294.0h0M104.4 240.7h0M157.7 261.3h0M138.4 254.1h0M131.0 224.5h0M142.8 249.6h0M117.0 242.7h0M144.0 247.6h0M153.0 266.8h0M159.4 234.2h0M117.6 254.7h0M152.1 260.1h0M125.7 249.3h0M130.6 292.4h0M157.4 243.7h0M115.3 236.3h0M122.6 289.1h0M130.8 242.4h0M101.8 282.8h0M133.4 228.6h0M153.0 224.5h0M118.8 228.0h0M102.0 231.6h0M124.6 304.1h0M175.2 268.7h0M122.7 278.6h0M106.9 237.9h0M76.3 293.7h0M150.2 251.9h0M139.0 304.8h0M128.7 236.2h0M163.3 257.7h0M135.3 241.7h0M111.0 210.7h0M154.1 265.0h0M110.0 244.8h0M149.5 270.0h0M115.2 297.7h0M96.8 228.6h0M112.0 260.3h0M158.9 262.1h0M147.6 260.2h0M132.0 237.9h0"/>
<path stroke="#217a21" d="M126.5 246.3h0M111.1 278.1h0M124.9 258.8h0M97.5 300.3h0M122.0 251.1h0M120.6 231.7h0M129.2 291.4h0M143.9 242.2h0M130.8 257.5h0M130.2 301.2h0M136.9 249.6h0M172.5 247.0h0M126.7 244.5h0M129.7 251.0h0M133.9 241.2h0M156.7 250.0h0M153.0 221.1h0M128.3 214.4h0M113.2 287.1h0M113.0 233.7h0M99.0 308.3h0M148.4 241.0h0M159.3 249.5h0M144.6 266.5h0M131.6 243.1h0M137.0 249.4h0M114.2 209.4h0M134.0 268.5h0M143.0 241.6h0M125.3 243.0h0M141.7 215.9h0M156.3 262.9h0M118.2 268.5h0M140.6 244.1h0M115.3 201.1h0M122.1 239.0h0M143.5 266.4h0M114.1 218.9h0M144.9 258.6h0M165.4 259.2h0M149.3 257.0h0M120.1 261.8h0M111.2 237.1h0M99.5 313.1h0M145.4 271.4h0M145.9 241.3h0M147.7 251.0h0M140.4 232.3h0M164.7 256.6h0M107.7 238.1h0M104.3 301.5h0M104.0 205.3h0M145.9 264.7h0M136.4 255.0h0M124.6 224.5h0M147.3 249.0h0M162.4 283.7h0M149.3 235.9h0M122.7 245.5h0M134.7 231.2h0M109.2 305.8h0M126.5 259.0h0M138.8 244.4h0M117.5 210.5h0M118.7 220.6h0M118.8 245.0h0M125.3 233.6h0M139.5 241.7h0M163.9 284.2h0M88.3 280.4h0M142.7 282.7h0M152.2 236.3h0M125.7 228.3h0M99.2 288.0h0M139.4 231.1h0M109.3 295.3h0M142.5 265.2h0M131.0 251.3h0M134.4 269.1h0M105.3 280.7h0M111.3 284.6h0M121.8 242.3h0M164.1 268.4h0M144.8 238.8h0M115.3 262.9h0M136.1 259.2h0M132.8 245.4h0M147.3 289.7h0M136.5 242.5h0M142.7 268.9h0M136.6 247.1h0M153.3 231.6h0M135.0 232.3h0M150.2 262.0h0M126.1 244.8h0M112.7 226.8h0M91.7 283.7h0M157.2 245.7h0M135.5 228.4h0M127.8 238.5h0M133.7 241.0h0M133.5 257.7h0M129.4 256.4h0M113.1 193.2h0M149.9 268.2h0M117.9 264.8h0M135.0 227.9h0M108.3 233.1h0M116.8 233.7h0M96.9 285.8h0M157.0 247.5h0M119.1 226.6h0M175.6 252.4h0M96.0 234.6h0M95.6 299.0h0M146.8 256.1h0M119.4 234.2h0M138.1 235.1h0M118.5 241.5h0M121.0 234.8h0M161.4 253.3h0M124.0 236.8h0M120.3 278.1h0M109.8 288.7h0M114.1 209.1h0M162.4 242.3h0M120.7 238.6h0"/>
<path stroke="#f9a825" d="M105.6 278.1h0M124.3 299.5h0M124.2 306.4h0M116.0 253.9h0M110.8 311.5h0M115.5 292.9h0M82.8 224.6h0M120.2 315.6h0M75.2 193.5h0M103.4 308.5h0M90.4 274.3h0M123.6 292.3h0M103.0 281.2h0M112.3 275.3h0M120.8 308.2h0M103.2 328.7h0M88.0 244.3h0M122.2 285.7h0M134.4 341.0h0M105.9 298.4h0M99.7 323.7h0M71.3 222.4h0M104.5 306.1h0M88.1 240.0h0M109.3 281.3h0M81.0 247.8h0M93.6 261.5h0M102.1 291.2h0M114.1 303.6h0M127.0 324.6h0M116.9 331.4h0M104.8 303.9h0M133.4 326.3h0M102.3 292.1h0M120.1 300.6h0M108.5 288.9h0M123.3 296.6h0M130.0 287.9h0M94.1 277.7h0M104.9 274.0h0M88.4 293.0h0M109.9 299.5h0M126.8 295.6h0M114.3 304.6h0M122.9 286.8h0M118.6 305.9h0M105.9 308.9h0M100.3 298.3h0M116.4 306.0h0M116.3 293.6h0M113.8 331.9h0M111.3 288.9h0M114.5 282.7h0M121.9 335.1h0M86.7 254.3h0M153.9 300.2h0M109.3 316.9h0M111.5 284.6h0M106.1 307.5h0M139.2 324.1h0M120.4 315.9h0M70.1 229.0h0M125.7 329.3h0M126.2 337.1h0M130.6 310.8h0M98.3 224.3h0M128.3 299.2h0M114.3 296.4h0M130.6 299.6h0M120.1 328.4h0M69.3 211.5h0M107.4 262.2h0M108.3 276.9h0M108.5 284.1h0M110.5 292.9h0M151.9 294.9h0M107.9 289.8h0M109.1 318.7h0M93.0 309.8h0M127.7 297.8h0M72.1 217.0h0M82.6 211.4h0M127.2 280.7h0M120.7 300.7h0M81.1 228.5h0M108.2 236.2h0M83.4 299.2h0M104.4 327.8h0M118.2 338.4h0M114.6 285.9h0M133.6 291.9h0M86.0 284.9h0M106.5 306.9h0M125.7 319.7h0M99.6 289.3h0M117.9 295.4h0M74.2 204.5h0M146.4 286.5h0M90.6 293.2h0M107.6 280.8h0M109.4 327.6h0M120.7 295.8h0M106.0 308.8h0M101.3 286.5h0M96.0 298.4h0M115.4 330.6h0M72.0 193.5h0M90.5 245.5h0M107.2 274.8h0M133.5 339.3h0M115.1 282.3h0M109.1 324.6h0M65.7 209.7h0M128.0 327.9h0M120.2 305.9h0M106.2 320.3h0M115.3 308.7h0"/>
<path stroke="#f9a825" d="M104.9 298.6h0M114.8 292.0h0M101.7 282.1h0M116.4 305.3h0M107.3 295.4h0M127.7 270.2h0M114.5 301.5h0M96.5 295.1h0M108.4 291.1h0M89.1 254.4h0M119.3 314.3h0M134.3 340.8h0M115.0 319.5h0M114.0 291.4h0M121.5 304.4h0M120.1 302.2h0M73.8 219.2h0M110.7 298.2h0M101.6 305.3h0M109.9 272.7h0M119.2 331.1h0M130.4 322.0h0M77.3 306.5h0M112.7 299.1h0M97.2 229.9h0M128.4 304.9h0M136.6 306.8h0M128.5 307.7h0M87.1 234.9h0M119.7 295.6h0M96.9 290.7h0M120.7 300.9h0M108.6 301.8h0M81.0 248.4h0M97.5 281.6h0M103.0 300.6h0M136.2 328.3h0M132.4 295.9h0M119.1 307.7h0M84.8 291.4h0M108.3 284.5h0M113.3 312.4h0M100.0 273.0h0M119.0 294.4h0M97.6 247.2h0M88.5 243.4h0M144.2 327.9h0M114.8 309.0h0M66.4 198.6h0M74.8 242.0h0M119.6 289.9h0M95.5 294.7h0M114.9 319.2h0M78.4 225.0h0M133.4 307.3h0M118.6 310.5h0M98.4 283.9h0M87.4 304.5h0M149.6 343.0h0M85.8 303.0h0M134.2 330.4h0M82.8 222.5h0M71.5 206.9h0M132.4 325.6h0M116.6 303.2h0M103.6 310.1h0M117.5 288.4h0M93.1 278.5h0M137.0 323.4h0M121.3 321.1h0M110.4 330.7h0M115.6 304.5h0M119.7 311.0h0M112.3 300.8h0M101.4 284.1h0M101.3 325.9h0M126.1 320.8h0M109.5 290.6h0M109.2 265.5h0M108.3 290.4h0M64.6 203.0h0M99.4 284.8h0M103.6 332.5h0M105.3 301.3h0M113.0 289.1h0M63.1 231.5h0M122.7 296.1h0M118.5 322.5h0M117.5 300.2h0M113.5 301.6h0M119.9 292.2h0M103.7 297.6h0M115.2 324.0h0M93.3 285.9h0M121.2 294.9h0M88.5 290.9h0M100.0 296.4h0M118.3 298.1h0M92.7 291.0h0M90.9 311.1h0M111.0 300.1h0M112.2 312.5h0M118.2 303.9h0M103.1 284.3h0M128.5 286.4h0M121.2 303.9h0M104.1 284.4h0M147.4 308.5h0M110.6 324.1h0M112.1 319.5h0M118.8 276.9h0"/>
<path stroke="#217a21" d="M90.6 273.6h0M142.4 219.5h0M128.2 232.6h0M144.8 263.4h0M117.0 259.0h0M135.2 224.8h0M134.6 242.0h0M130.7 250.6h0M125.3 244.9h0M113.0 288.3h0M131.7 245.3h0M95.3 209.9h0M161.0 263.3h0M108.0 294.1h0M99.3 201.0h0M111.1 198.7h0M126.5 251.9h0M112.3 197.9h0M147.1 259.6h0M119.2 238.1h0M134.7 251.2h0M131.6 265.8h0M140.5 236.4h0M140.0 241.9h0M131.9 269.3h0M123.5 242.8h0M132.6 247.6h0M127.5 217.5h0M146.9 250.9h0M143.6 250.4h0M109.5 260.6h0M138.6 246.7h0M139.2 302.1h0M93.6 271.9h0M122.6 240.4h0M91.0 263.1h0M111.3 225.6h0M160.6 272.4h0M167.7 254.4h0M158.1 262.3h0M117.0 221.1h0M141.5 253.7h0M143.3 262.8h0M146.4 245.4h0M158.0 251.3h0M123.2 236.3h0M137.2 290.7h0M117.5 283.9h0M100.2 273.7h0M165.5 248.0h0M115.7 286.9h0M165.2 264.3h0M140.0 248.8h0M151.6 260.9h0M139.5 271.6h0M119.6 287.9h0M127.9 228.5h0M118.4 281.4h0M106.3 241.0h0M147.3 241.7h0M78.2 285.9h0M89.5 283.7h0M108.2 250.2h0M140.6 260.6h0M137.3 251.3h0M145.4 246.0h0M171.2 271.9h0M130.5 238.0h0M136.5 240.2h0M144.6 249.9h0M126.8 246.7h0M150.3 224.0h0M118.0 256.5h0M166.7 258.4h0M158.6 242.0h0M121.7 233.3h0M100.4 295.4h0M120.0 241.3h0M105.1 204.1h0M176.0 250.5h0M166.0 275.0h0M130.3 249.7h0M107.6 241.9h0M139.7 271.0h0M133.5 236.8h0M125.2 245.0h0M153.2 245.4h0M160.3 294.0h0M120.4 237.6h0M113.3 228.2h0M138.9 246.1h0M114.7 195.5h0M169.9 273.0h0M113.0 215.5h0M146.2 276.0h0M155.3 238.7h0M99.4 225.1h0M115.6 210.9h0M152.3 247.5h0M95.0 204.2h0M120.2 227.5h0M130.6 244.2h0M112.1 212.0h0M147.9 231.2h0M148.1 283.7h0M127.2 255.1h0M149.9 236.2h0M150.6 250.7h0M129.8 250.1h0M145.0 245.8h0M127.7 263.3h0M132.7 231.6h0M112.9 287.3h0M160.8 254.7h0M148.9 242.1h0M137.6 232.4h0M155.5 257.5h0M101.0 299.7h0M119.5 248.4h0M146.3 242.3h0M94.4 257.8h0M107.6 287.7h0M148.1 262.6h0M150.8 221.4h0M152.0 244.1h0M132.1 219.0h0M139.9 227.4h0M151.1 245.4h0M131.4 223.1h0M121.0 208.5h0M127.2 262.1h0M120.0 253.0h0M122.7 225.9h0"/>
<path stroke="#f9a825" d="M106.2 315.0h0M88.4 242.4h0M125.0 290.0h0M117.9 316.6h0M129.2 312.5h0M95.0 279.2h0M103.2 330.9h0M114.7 322.4h0M121.9 326.4h0M78.2 269.1h0M110.5 333.2h0M144.9 323.5h0M101.2 308.9h0M74.3 235.6h0M120.4 305.6h0M101.3 300.0h0M87.6 307.4h0M124.2 313.8h0M124.4 303.9h0M93.1 275.2h0M134.8 288.1h0M108.7 310.7h0M132.1 295.4h0M116.1 288.8h0M114.8 269.6h0M104.3 315.2h0M121.9 295.3h0M89.7 271.9h0M87.8 293.9h0M74.8 201.6h0M110.7 332.1h0M116.3 308.2h0M108.5 282.5h0M97.9 306.5h0M95.5 302.2h0M125.7 316.9h0M109.4 286.2h0M81.9 272.6h0M110.4 321.3h0M90.6 299.3h0M107.0 250.0h0M102.4 277.9h0M131.3 322.0h0M85.0 282.5h0M109.1 329.1h0M143.5 293.8h0M123.5 303.0h0M106.6 271.2h0M121.6 323.9h0M83.0 220.4h0M112.4 265.7h0M67.7 190.1h0M74.2 205.6h0M100.3 282.8h0M120.8 319.3h0M97.9 299.3h0M115.9 328.7h0M84.7 281.5h0M116.0 314.0h0M113.9 305.1h0M122.7 289.6h0M120.4 317.4h0M154.4 323.9h0M102.5 292.3h0M115.8 292.1h0M111.9 302.4h0M112.3 302.7h0M77.0 295.3h0M125.8 332.3h0M128.2 308.7h0M91.2 252.9h0M119.3 328.4h0M117.7 311.9h0M109.5 301.1h0M134.7 323.8h0M130.6 335.8h0M97.0 321.3h0M102.4 284.3h0M93.4 289.9h0M110.8 296.2h0M110.4 291.4h0M83.3 207.4h0M54.4 197.6h0M78.6 221.3h0M108.2 304.4h0M155.1 339.5h0M115.7 289.1h0M85.3 233.5h0M93.1 244.3h0M106.4 310.8h0M109.2 301.0h0M76.7 204.2h0M94.4 308.1h0M107.6 309.2h0M109.2 295.4h0M111.9 315.3h0M136.6 288.0h0M106.3 312.2h0M115.5 299.1h0M95.3 278.0h0M93.0 324.6h0M118.2 313.1h0M125.7 315.5h0M130.9 328.3h0M145.9 326.6h0M129.6 307.4h0M103.4 306.0h0M58.6 202.0h0M136.5 344.4h0M120.4 291.2h0M116.5 271.5h0M107.6 274.2h0M113.3 313.0h0M86.4 208.8h0"/>
<path stroke="#217a21" d="M154.9 245.1h0M140.5 236.6h0M142.4 253.5h0M127.4 228.3h0M133.0 245.7h0M125.9 250.1h0M107.4 236.2h0M106.6 290.1h0M110.5 231.6h0M153.1 248.0h0M141.9 250.2h0M151.4 259.1h0M112.1 227.5h0M142.0 237.9h0M109.0 236.3h0M104.6 284.0h0M130.2 223.7h0M145.1 270.2h0M116.1 241.0h0M141.9 244.1h0M134.1 246.3h0M142.0 227.6h0M148.1 255.6h0M145.2 268.5h0M142.1 239.6h0M119.4 287.1h0M109.8 290.8h0M129.7 234.1h0M144.7 226.6h0M167.1 254.9h0M153.0 253.0h0M131.9 236.7h0M95.2 217.3h0M87.5 307.1h0M156.0 232.8h0M99.0 300.2h0M142.8 253.0h0M143.7 273.8h0M146.4 248.5h0M153.6 246.7h0M132.6 242.3h0M123.1 247.3h0M126.9 244.8h0M120.0 222.3h0M133.1 241.7h0M149.8 253.4h0M130.9 221.7h0M129.2 250.6h0M124.6 242.0h0M159.9 263.1h0M114.9 232.5h0M145.9 246.0h0M101.1 292.1h0M119.2 243.0h0M147.2 230.4h0M159.2 246.1h0M112.4 276.3h0M100.6 282.3h0M144.8 272.0h0M120.6 226.5h0M149.6 243.3h0M134.8 234.5h0M171.4 265.2h0M169.5 267.0h0M118.5 225.8h0M143.6 281.0h0M130.7 258.2h0M139.9 236.7h0M71.8 303.3h0M147.9 249.5h0M157.9 228.8h0M136.8 232.0h0M138.2 277.6h0M112.5 240.5h0M149.0 235.6h0M110.7 279.0h0M150.1 264.1h0M140.2 256.2h0M132.1 236.8h0M129.0 235.0h0M124.4 277.7h0M143.9 262.7h0M141.1 242.3h0M130.4 232.6h0M142.6 237.7h0M128.8 250.0h0M131.0 252.4h0M143.4 240.5h0M134.8 255.7h0M112.9 203.1h0M112.0 253.3h0M140.2 243.1h0M122.5 240.4h0M135.8 245.1h0M128.5 260.6h0M116.7 264.2h0M151.0 249.3h0M135.8 231.9h0M107.1 287.4h0M131.5 270.5h0M127.8 229.6h0M136.2 261.6h0M136.0 227.9h0M118.4 278.1h0M153.1 231.4h0M143.8 247.1h0M138.3 245.0h0M148.4 286.6h0M140.9 244.8h0M112.0 288.2h0M123.7 263.2h0M126.4 272.0h0M174.0 284.5h0M130.2 238.0h0M153.2 266.1h0M132.6 236.5h0M129.8 253.9h0M118.2 280.8h0M123.0 230.0h0M135.7 233.1h0M143.3 255.7h0M115.7 237.3h0M117.5 250.8h0M123.5 240.1h0M130.8 288.4h0M116.8 247.5h0M119.9 267.2h0M97.3 296.9h0M124.0 267.7h0M132.8 255.4h0"/>
<path stroke="#f9a825" d="M113.3 289.6h0M106.5 273.1h0M114.8 288.9h0M101.4 295.8h0M114.8 315.3h0M131.5 333.1h0M107.9 298.5h0M106.7 293.6h0M70.0 208.8h0M110.4 257.5h0M115.0 312.4h0M133.9 335.4h0M96.6 272.6h0M139.8 327.0h0M118.5 280.9h0M117.9 291.2h0M99.8 263.8h0M66.0 204.7h0M111.2 333.7h0M128.4 308.3h0M52.7 191.0h0M91.6 291.1h0M117.2 298.1h0M135.2 292.9h0M97.3 300.0h0M107.4 286.7h0M61.5 195.5h0M83.2 285.9h0M100.7 247.0h0M94.4 318.9h0M104.3 316.1h0M67.7 204.6h0M108.4 295.4h0M106.0 309.9h0M113.3 325.8h0M128.7 282.5h0M108.6 312.7h0M114.6 302.2h0M89.8 225.7h0M126.1 298.5h0M110.7 273.7h0M77.3 203.0h0M113.2 279.4h0M101.1 289.0h0M140.3 304.2h0M108.7 293.8h0M113.8 310.0h0M56.4 187.6h0M103.3 302.7h0M128.1 323.6h0M128.1 330.4h0M136.0 305.0h0M109.5 325.4h0M110.1 322.9h0M104.9 312.0h0M94.6 225.9h0M68.7 207.9h0M125.7 307.1h0M108.7 285.6h0M107.3 337.7h0M90.6 280.9h0M92.5 304.1h0M113.5 293.7h0M115.9 297.6h0M90.5 249.5h0M103.0 277.6h0M97.7 243.2h0M131.6 305.8h0M100.3 318.0h0M130.1 278.5h0M107.3 328.8h0M117.2 291.4h0M91.9 260.1h0M119.2 284.2h0M112.5 287.6h0M138.9 307.7h0M101.4 305.8h0M100.9 324.8h0M141.2 353.5h0M120.6 318.4h0M109.9 298.4h0M121.9 307.0h0M96.0 242.0h0M111.2 298.9h0M92.3 236.0h0M108.8 314.4h0M82.6 219.5h0M120.1 303.4h0M119.5 289.4h0M118.2 292.3h0M109.0 283.9h0M97.6 249.2h0M123.8 300.2h0M113.5 290.4h0M99.6 290.8h0M143.8 335.6h0M119.9 272.8h0M63.6 196.9h0M92.7 313.0h0M96.2 247.4h0M84.7 235.7h0M116.0 295.7h0"/>
<path stroke="#217a21" d="M140.8 239.4h0M127.0 239.6h0M144.7 267.4h0M129.8 241.2h0M140.6 263.8h0M148.5 277.8h0M143.4 263.9h0M151.4 270.3h0M163.9 268.1h0M166.6 277.8h0M130.4 227.3h0M112.9 287.1h0M106.1 259.2h0M125.6 279.9h0M126.7 239.8h0M115.9 233.2h0M123.3 238.3h0M134.6 260.5h0M131.8 206.9h0M128.4 245.7h0M151.0 256.5h0M125.7 266.1h0M117.7 288.4h0M130.3 243.1h0M129.9 270.8h0M128.1 247.8h0M122.0 289.1h0M152.3 250.9h0M123.2 237.4h0M143.9 246.0h0M147.9 275.5h0M153.6 268.0h0M110.4 276.7h0M110.3 198.0h0M122.9 231.3h0M139.5 242.1h0M159.9 251.9h0M144.8 229.4h0M122.4 247.2h0M116.3 243.7h0M130.5 233.3h0M107.9 277.8h0M130.4 238.7h0M123.0 248.4h0M147.4 278.3h0M110.3 282.7h0M163.3 250.6h0M133.6 251.2h0M132.8 276.2h0M156.8 264.9h0M140.9 254.8h0M137.4 250.9h0M185.5 264.1h0M127.5 241.1h0M125.4 244.8h0M127.5 237.2h0M119.6 240.0h0M126.8 241.6h0M145.3 264.6h0M149.5 233.7h0M120.8 229.8h0M153.0 248.4h0M159.9 244.8h0M144.5 255.1h0M90.3 220.1h0M147.4 230.3h0M135.0 274.3h0M117.8 200.0h0M157.7 263.9h0M132.2 281.2h0M142.3 259.1h0M136.2 242.5h0M144.0 257.5h0M133.1 287.9h0M107.0 210.7h0M135.5 255.1h0M130.3 256.7h0M150.5 271.1h0M162.7 252.8h0M135.6 281.0h0M109.9 234.6h0M109.6 267.4h0M115.5 237.8h0M120.0 236.1h0M133.3 269.8h0M130.5 240.6h0M125.8 256.9h0M116.4 289.9h0M102.4 292.1h0M135.3 238.3h0M121.5 247.4h0M157.3 268.7h0M134.7 263.9h0M140.0 248.8h0M143.9 242.0h0M145.2 241.4h0M119.3 232.7h0M142.6 269.0h0M90.1 300.5h0M125.3 233.5h0M113.2 295.6h0M108.9 286.3h0M124.3 238.9h0M134.5 234.6h0M91.8 269.7h0M112.8 223.5h0M96.7 261.0h0M158.2 266.4h0M106.6 294.1h0M90.4 291.4h0M124.7 241.4h0M102.0 306.0h0M140.3 232.1h0M145.2 254.5h0M125.2 237.5h0M135.9 215.7h0M166.8 255.0h0M98.3 288.3h0M150.7 243.3h0M115.1 310.1h0M146.5 248.5h0M130.9 243.3h0M143.8 241.5h0M137.1 289.9h0M151.6 272.0h0M137.9 235.5h0M144.6 243.9h0M115.1 269.7h0M143.2 245.9h0M149.1 277.4h0M141.2 241.6h0M117.8 227.9h0M162.2 264.2h0M128.9 236.2h0M145.0 231.7h0M150.1 243.1h0M119.5 262.2h0M109.5 239.6h0M128.7 256.4h0M110.4 253.6h0M118.7 275.5h0M139.8 250.3h0"/>
<path stroke="#217a21" d="M144.4 230.0h0M153.4 270.3h0M119.6 253.9h0M93.8 295.2h0M147.4 256.0h0M158.0 233.4h0M119.9 202.8h0M131.8 241.4h0M142.2 273.4h0M135.5 242.2h0M146.9 216.3h0M128.1 197.3h0M143.8 240.4h0M137.9 265.9h0M135.5 231.1h0M96.5 237.1h0M122.5 287.4h0M121.9 236.9h0M130.9 219.4h0M151.5 266.4h0M130.8 235.8h0M157.8 261.1h0M126.9 257.6h0M109.1 289.1h0M140.6 257.8h0M126.8 239.0h0M123.3 246.0h0M118.4 217.8h0M137.7 233.3h0M132.5 250.7h0M122.2 253.3h0M137.4 281.9h0M157.5 253.3h0M147.9 273.4h0M152.4 236.3h0M192.1 270.3h0M128.8 243.6h0M111.1 235.0h0M149.5 249.0h0M131.0 248.9h0M132.0 272.2h0M133.2 246.2h0M140.9 247.7h0M130.1 217.2h0M147.9 257.7h0M131.2 223.9h0M93.8 297.5h0M139.0 252.6h0M141.4 268.2h0M135.0 270.7h0M164.9 270.7h0M156.5 246.2h0M147.3 248.2h0M126.9 234.4h0M102.5 297.3h0M162.4 250.3h0M120.4 239.9h0M125.1 260.6h0M95.4 206.6h0M130.2 246.5h0M131.0 265.2h0M133.9 237.0h0M123.7 241.9h0M146.1 291.4h0M118.4 227.2h0M104.7 285.5h0M134.3 246.4h0M143.0 240.0h0M159.4 263.9h0M144.2 257.7h0M149.8 268.6h0M142.9 247.0h0M141.6 258.6h0M107.3 290.1h0M147.0 224.6h0M121.1 269.1h0M151.8 251.8h0M146.7 262.3h0M139.6 268.7h0M126.3 238.8h0M98.5 201.6h0M135.9 240.0h0M117.2 255.6h0M153.9 257.4h0M110.8 298.5h0M101.2 262.9h0M98.9 297.5h0M147.0 241.1h0M91.4 283.4h0M99.2 298.8h0M143.6 261.7h0M111.6 295.4h0M141.4 266.5h0M137.9 237.2h0M126.5 251.6h0M120.4 248.0h0M143.3 249.9h0M135.7 238.5h0M92.2 304.4h0M146.8 258.4h0M142.7 259.0h0M157.0 263.3h0M126.3 248.3h0M126.4 238.2h0M125.4 268.8h0M132.5 235.0h0M115.5 262.7h0M119.9 242.2h0M153.0 243.8h0M136.5 239.1h0M129.2 251.2h0M150.5 265.0h0M116.2 292.0h0M125.6 231.5h0M159.4 250.6h0M112.6 235.3h0M138.0 237.1h0M123.8 243.3h0M151.0 263.5h0M162.0 241.8h0M151.8 238.1h0M137.3 234.8h0M139.5 246.8h0M138.8 260.5h0M173.7 248.3h0M146.2 263.1h0"/>
<path stroke="#f9a825" d="M144.4 342.1h0M96.0 307.8h0M126.2 314.4h0M97.8 303.3h0M79.3 216.2h0M116.0 330.7h0M141.5 327.5h0M110.0 294.1h0M109.1 293.9h0M68.5 199.7h0M116.0 295.1h0M117.9 304.2h0M111.9 291.1h0M104.9 237.2h0M130.2 300.0h0M120.1 325.1h0M105.3 297.7h0M111.8 289.8h0M119.8 303.1h0M96.7 238.2h0M113.9 284.0h0M122.3 327.7h0M131.1 299.9h0M70.1 200.8h0M119.2 313.9h0M124.5 263.3h0M131.6 294.4h0M70.3 209.6h0M120.4 296.6h0M69.2 231.1h0M93.6 283.8h0M94.3 295.0h0M148.6 323.3h0M73.5 224.1h0M91.0 302.3h0M146.5 331.4h0M98.0 283.4h0M97.1 244.2h0M124.0 316.8h0M129.2 330.4h0M109.7 316.5h0M134.8 311.7h0M143.8 341.4h0M132.4 325.7h0M103.5 316.1h0M105.0 267.8h0M100.5 276.6h0M122.2 314.4h0M110.9 277.0h0M102.2 279.7h0M108.4 280.9h0M122.0 270.3h0M126.7 318.8h0M149.4 326.5h0M99.8 301.6h0M110.9 299.7h0M61.7 201.1h0M114.5 305.7h0M116.6 284.8h0M122.9 309.3h0M103.5 269.6h0M95.2 229.5h0M125.9 297.8h0M125.4 324.1h0M117.0 317.4h0M123.2 311.3h0M112.1 290.7h0M99.6 290.2h0M126.7 328.4h0M125.4 270.5h0M63.3 216.7h0M127.6 318.4h0M98.5 312.6h0M118.4 293.4h0M109.2 292.7h0M125.7 315.6h0M78.4 208.9h0M111.2 320.4h0M122.6 293.2h0M121.6 316.9h0M92.5 231.0h0M89.9 292.3h0M120.9 302.0h0M136.7 293.0h0M129.1 307.1h0M113.4 274.7h0M74.8 221.7h0M106.9 308.9h0M85.8 225.0h0M150.2 339.4h0M91.2 207.3h0M91.7 224.1h0M98.4 266.0h0M116.7 300.0h0M109.9 280.8h0M109.7 293.1h0M134.0 297.4h0M116.7 322.6h0M100.5 281.2h0M116.2 286.5h0M116.1 306.2h0M144.1 354.2h0M137.6 347.8h0M85.6 259.4h0M145.4 333.0h0M141.3 335.1h0M86.7 294.4h0M111.0 288.7h0M96.9 311.4h0M116.8 312.5h0M109.2 302.4h0M149.6 306.5h0M91.7 248.1h0M133.8 293.7h0M112.7 320.9h0M101.9 303.4h0M124.4 334.7h0M127.1 303.7h0"/>
<path stroke="#217a21" d="M121.3 237.5h0M138.8 273.6h0M153.2 274.2h0M150.9 285.4h0M136.7 253.6h0M129.4 242.8h0M135.2 251.3h0M98.9 310.1h0M128.6 289.2h0M157.4 252.4h0M157.7 246.2h0M168.6 266.0h0M128.5 232.2h0M134.4 250.5h0M108.7 213.9h0M142.2 226.3h0M134.4 263.1h0M138.2 233.0h0M151.5 257.8h0M141.2 233.5h0M127.8 249.5h0M128.6 267.1h0M82.0 309.5h0M125.0 241.6h0M137.4 249.4h0M132.5 250.2h0M128.6 250.1h0M121.8 240.1h0M133.2 220.2h0M149.7 250.3h0M131.1 220.6h0M153.8 263.0h0M123.6 231.3h0M154.3 281.9h0M124.7 302.6h0M118.2 190.6h0M137.5 247.4h0M169.7 260.5h0M173.4 261.8h0M138.7 254.6h0M148.9 217.7h0M116.1 202.9h0M134.7 247.0h0M131.1 267.6h0M140.2 273.0h0M139.9 250.8h0M100.3 292.3h0M128.9 251.5h0M113.2 288.0h0M141.7 263.0h0M168.7 260.5h0M132.5 274.3h0M120.5 288.2h0M133.3 235.1h0M135.6 251.8h0M141.8 245.8h0M146.1 261.6h0M143.5 254.5h0M108.6 299.3h0M110.8 300.9h0M135.3 237.8h0M144.7 246.4h0M153.8 259.3h0M132.7 252.4h0M119.1 251.1h0M133.3 232.3h0M147.5 262.4h0M143.1 199.1h0M156.4 245.7h0M126.8 233.3h0M137.3 249.1h0M145.1 280.3h0M135.2 260.7h0M135.9 207.1h0M153.0 234.5h0M136.3 243.2h0M139.5 235.5h0M149.3 240.5h0M115.9 267.0h0M145.2 239.7h0M164.7 257.9h0M162.8 283.6h0M136.9 231.0h0M161.4 230.0h0M132.7 252.1h0M135.8 244.3h0M131.0 203.0h0M171.0 265.3h0M92.4 220.7h0M160.3 276.0h0M151.2 268.5h0M119.5 279.3h0M168.3 276.0h0M133.6 235.8h0M137.1 241.3h0M117.0 246.8h0M116.9 267.7h0M128.1 275.6h0M93.3 281.4h0M178.3 257.4h0M138.2 247.2h0M119.5 245.2h0M130.0 262.4h0M95.3 294.6h0M123.6 228.1h0M133.0 283.5h0M102.5 293.1h0M127.7 221.3h0M144.4 259.4h0M157.0 270.0h0M112.4 272.6h0M138.1 243.8h0M148.5 271.3h0M152.4 230.7h0M158.9 263.2h0M134.6 255.4h0M153.8 251.2h0M117.6 287.2h0M128.8 238.8h0M136.4 231.0h0M114.4 238.7h0M147.7 249.7h0M160.0 244.2h0M120.8 285.7h0M149.0 236.5h0M118.0 267.3h0M152.0 267.2h0M111.9 291.7h0M125.3 250.1h0M143.5 246.3h0M122.7 246.0h0M114.6 299.0h0M138.1 277.7h0M133.0 223.6h0M115.8 236.3h0M147.0 262.7h0M120.0 308.7h0M145.3 254.5h0M137.1 239.1h0M110.9 234.2h0M156.9 242.2h0"/>
<path stroke="#f9a825" d="M55.4 202.8h0M110.4 283.9h0M119.0 317.4h0M115.1 291.8h0M92.3 255.9h0M134.7 287.8h0M115.9 274.2h0M99.0 243.3h0M73.9 277.1h0M132.9 333.9h0M112.6 333.2h0M119.9 313.1h0M138.4 328.0h0M154.4 318.2h0M115.3 325.0h0M104.9 290.5h0M76.0 210.1h0M128.0 281.9h0M116.0 293.7h0M108.4 303.0h0M89.8 302.9h0M112.0 295.0h0M110.2 281.7h0M144.7 337.9h0M79.3 218.2h0M147.8 328.7h0M148.9 333.5h0M102.2 259.0h0M133.5 280.2h0M113.2 299.8h0M110.0 279.3h0M100.0 268.4h0M110.7 316.6h0M94.6 276.6h0M113.9 313.6h0M124.4 287.3h0M117.1 300.4h0M93.6 286.7h0M96.1 296.6h0M123.4 290.3h0M122.3 341.9h0M88.9 216.9h0M134.2 325.1h0M83.2 210.9h0M129.9 327.6h0M99.8 265.3h0M116.6 327.9h0M115.7 291.5h0M107.8 305.4h0M95.1 248.8h0M116.2 314.0h0M108.3 299.3h0M118.9 301.8h0M97.7 272.7h0M139.4 345.5h0M104.3 280.3h0M123.1 286.9h0M115.7 338.2h0M136.5 304.1h0M83.2 242.5h0M125.0 307.9h0M121.5 331.8h0M116.6 321.8h0M112.2 275.9h0M95.6 278.5h0M109.8 299.4h0M128.8 317.4h0M122.6 306.1h0M122.6 318.4h0M130.0 329.7h0M108.9 288.3h0M133.6 327.1h0M103.2 292.5h0M114.7 298.6h0M113.2 324.1h0M135.9 280.0h0M96.1 251.2h0M119.2 287.5h0M104.1 327.2h0M85.3 289.6h0M109.5 257.8h0M151.6 330.7h0M126.5 297.5h0M91.5 313.3h0M114.1 309.1h0M115.7 310.0h0M83.2 301.7h0M102.1 324.2h0M81.1 223.9h0M60.9 198.9h0M87.2 283.2h0M114.3 281.6h0M113.7 318.7h0M125.0 305.6h0M99.8 307.3h0M135.9 338.2h0M134.5 331.0h0M125.6 294.2h0M110.6 332.6h0M102.5 296.3h0M81.3 275.9h0M125.7 313.3h0"/>
<path stroke="#217a21" d="M147.9 269.8h0M131.1 239.3h0M158.4 241.1h0M128.4 217.6h0M147.9 260.4h0M157.8 289.0h0M141.5 256.4h0M117.2 263.7h0M144.3 226.6h0M152.4 233.2h0M123.1 259.0h0M125.9 238.1h0M150.5 251.1h0M130.7 257.6h0M119.9 237.5h0M154.2 271.8h0M140.2 249.0h0M164.2 250.4h0M177.3 286.7h0M137.4 237.0h0M113.4 292.5h0M155.1 243.6h0M139.7 260.9h0M114.9 206.7h0M154.2 262.6h0M107.9 211.8h0M121.1 276.6h0M136.3 228.8h0M90.9 272.5h0M122.4 202.9h0M149.2 265.9h0M128.4 250.0h0M151.9 254.6h0M124.6 231.6h0M134.3 250.6h0M116.6 226.0h0M137.5 235.5h0M146.4 262.5h0M140.3 250.5h0M142.1 261.2h0M164.3 266.8h0M152.8 257.7h0M161.1 249.3h0M121.5 279.6h0M104.9 281.7h0M132.7 251.7h0M147.1 238.5h0M146.5 255.5h0M154.1 243.9h0M128.4 232.2h0M135.5 229.9h0M147.6 259.9h0M146.9 266.0h0M140.6 236.3h0M120.3 241.7h0M160.5 241.7h0M154.6 237.4h0M126.3 248.7h0M143.5 245.5h0M104.6 293.7h0M99.3 279.6h0M109.0 285.3h0M146.8 230.2h0M103.3 243.5h0M140.4 240.6h0M119.4 229.2h0M120.4 247.8h0M126.4 244.2h0M160.1 261.3h0M142.7 271.9h0M135.4 234.5h0M125.7 261.4h0M140.6 218.0h0M128.1 235.0h0M123.1 234.7h0M112.8 199.0h0M126.6 263.7h0M129.0 237.4h0M111.3 213.9h0M97.4 274.5h0M128.3 279.3h0M133.4 225.1h0M139.1 248.4h0M142.4 301.6h0M111.3 282.5h0M124.3 306.3h0M153.9 275.8h0M140.4 259.0h0M139.2 245.7h0M160.3 260.3h0M156.0 237.9h0M126.7 240.5h0M140.7 241.7h0M155.3 263.7h0M155.0 248.5h0M140.4 257.0h0M136.6 232.7h0M133.6 248.8h0M152.6 234.4h0M140.8 245.0h0M159.1 261.1h0M133.4 262.3h0M122.0 249.7h0M140.6 240.3h0M100.8 296.5h0M139.2 219.1h0M129.7 221.5h0M119.5 198.5h0M119.8 251.6h0M138.1 262.6h0M129.8 234.7h0M135.8 254.9h0M144.4 246.8h0M139.7 255.2h0M99.5 202.2h0M128.4 298.8h0M141.0 270.2h0M120.4 286.9h0M138.1 245.3h0M143.7 262.3h0M163.4 260.8h0M148.3 245.1h0"/>
<path stroke="#f9a825" d="M131.2 298.6h0M101.4 223.3h0M74.9 203.3h0M119.1 325.2h0M133.7 333.2h0M122.7 287.7h0M73.4 207.1h0M94.4 274.2h0M111.8 294.2h0M86.1 287.1h0M119.2 303.8h0M81.3 213.9h0M111.1 272.9h0M101.3 282.6h0M157.7 334.5h0M103.0 303.0h0M119.4 316.2h0M95.9 294.5h0M72.5 241.9h0M124.2 292.0h0M126.0 300.1h0M84.1 233.5h0M113.1 291.6h0M123.2 294.8h0M108.0 292.7h0M84.2 231.6h0M108.6 271.6h0M94.0 287.1h0M112.4 293.7h0M111.8 309.8h0M117.0 306.3h0M133.3 325.2h0M70.5 204.5h0M117.2 292.9h0M109.1 298.7h0M79.1 201.7h0M113.7 318.4h0M121.0 312.8h0M108.5 310.2h0M110.2 310.3h0M123.9 285.1h0M109.8 305.1h0M86.5 217.8h0M106.8 290.0h0M100.0 256.1h0M89.4 290.1h0M124.3 319.7h0M93.7 272.3h0M114.0 280.3h0M92.9 244.7h0M125.0 337.1h0M125.7 316.7h0M147.7 317.2h0M92.0 232.5h0M93.3 290.2h0M113.0 271.2h0M129.1 335.1h0M114.8 313.3h0M142.0 333.6h0M105.9 313.8h0M123.6 300.4h0M116.9 302.2h0M133.6 329.5h0M137.0 288.8h0M86.9 266.5h0M138.5 321.1h0M114.3 292.5h0M104.5 306.1h0M101.5 305.3h0M76.7 228.7h0M95.7 306.1h0M130.4 328.4h0M125.8 288.4h0M98.3 307.3h0M116.6 291.3h0M87.8 312.8h0M68.4 211.9h0M90.3 289.0h0M151.1 294.1h0M118.9 317.2h0M105.9 301.1h0M119.8 307.7h0M98.8 287.8h0M110.9 292.2h0M124.8 302.9h0M133.7 343.0h0M121.5 333.0h0M121.3 301.0h0M127.1 280.4h0M96.1 291.1h0M113.0 289.3h0M100.1 255.0h0M144.3 293.1h0M104.1 283.9h0M112.5 312.6h0M121.4 266.2h0M142.9 314.2h0M151.0 347.3h0M99.6 284.9h0M113.5 310.3h0M90.0 218.0h0M94.7 305.3h0M115.6 307.2h0M90.0 300.4h0M112.8 268.0h0M82.2 238.7h0M137.5 336.9h0M138.8 346.8h0M120.3 306.2h0M114.2 295.9h0M93.7 288.9h0M103.7 280.5h0M95.8 252.8h0M113.7 314.0h0M117.1 282.2h0M104.7 324.6h0M102.4 310.6h0M85.9 234.2h0M124.3 333.3h0M90.5 273.0h0M129.9 334.1h0"/>
</g>
<line x1="26.5" y1="9.45" x2="29.5" y2="9.45" stroke="#9a9a9a" stroke-width="0.8"/>
<text x="25" y="12.35" font-size="8.2" text-anchor="end" font-weight="normal" fill="#4d4d4d" >100</text>
<line x1="26.5" y1="50.73" x2="29.5" y2="50.73" stroke="#9a9a9a" stroke-width="0.8"/>
<text x="25" y="53.62" font-size="8.2" text-anchor="end" font-weight="normal" fill="#4d4d4d" >50</text>
<line x1="26.5" y1="92" x2="29.5" y2="92" stroke="#9a9a9a" stroke-width="0.8"/>
<text x="25" y="94.9" font-size="8.2" text-anchor="end" font-weight="normal" fill="#4d4d4d" >0</text>
<line x1="26.5" y1="133.28" x2="29.5" y2="133.28" stroke="#9a9a9a" stroke-width="0.8"/>
<text x="25" y="136.18" font-size="8.2" text-anchor="end" font-weight="normal" fill="#4d4d4d" >-50</text>
<line x1="26.5" y1="174.55" x2="29.5" y2="174.55" stroke="#9a9a9a" stroke-width="0.8"/>
<text x="25" y="177.45" font-size="8.2" text-anchor="end" font-weight="normal" fill="#4d4d4d" >-100</text>
<line x1="26.5" y1="191.45" x2="29.5" y2="191.45" stroke="#9a9a9a" stroke-width="0.8"/>
<text x="25" y="194.35" font-size="8.2" text-anchor="end" font-weight="normal" fill="#4d4d4d" >100</text>
<line x1="26.5" y1="233.22" x2="29.5" y2="233.22" stroke="#9a9a9a" stroke-width="0.8"/>
<text x="25" y="236.12" font-size="8.2" text-anchor="end" font-weight="normal" fill="#4d4d4d" >50</text>
<line x1="26.5" y1="275" x2="29.5" y2="275" stroke="#9a9a9a" stroke-width="0.8"/>
<text x="25" y="277.9" font-size="8.2" text-anchor="end" font-weight="normal" fill="#4d4d4d" >0</text>
<line x1="26.5" y1="316.77" x2="29.5" y2="316.77" stroke="#9a9a9a" stroke-width="0.8"/>
<text x="25" y="319.67" font-size="8.2" text-anchor="end" font-weight="normal" fill="#4d4d4d" >-50</text>
<line x1="26.5" y1="358.55" x2="29.5" y2="358.55" stroke="#9a9a9a" stroke-width="0.8"/>
<text x="25" y="361.45" font-size="8.2" text-anchor="end" font-weight="normal" fill="#4d4d4d" >-100</text>
<line x1="40.8" y1="359.4" x2="40.8" y2="362.4" stroke="#9a9a9a" stroke-width="0.8"/>
<text x="40.8" y="369.6" font-size="8.2" text-anchor="middle" font-weight="normal" fill="#4d4d4d" >-200</text>
<line x1="80.1" y1="359.4" x2="80.1" y2="362.4" stroke="#9a9a9a" stroke-width="0.8"/>
<text x="80.1" y="369.6" font-size="8.2" text-anchor="middle" font-weight="normal" fill="#4d4d4d" >-100</text>
<line x1="119.4" y1="359.4" x2="119.4" y2="362.4" stroke="#9a9a9a" stroke-width="0.8"/>
<text x="119.4" y="369.6" font-size="8.2" text-anchor="middle" font-weight="normal" fill="#4d4d4d" >0</text>
<line x1="158.7" y1="359.4" x2="158.7" y2="362.4" stroke="#9a9a9a" stroke-width="0.8"/>
<text x="158.7" y="369.6" font-size="8.2" text-anchor="middle" font-weight="normal" fill="#4d4d4d" >100</text>
<text x="111.6" y="378.4" font-size="8.1" text-anchor="middle" font-weight="normal" fill="#222" >PC1</text>
<text x="6" y="171.2" font-size="8.8" text-anchor="middle" font-weight="normal" fill="#222" transform="rotate(-90 6.0 171.2)">PC2</text>
<text x="34.1" y="148.8" font-size="5.9" text-anchor="start" font-weight="bold" fill="#111" >N501Y</text>
<circle cx="37.9" cy="156" r="3" fill="#3c6b98"/>
<text x="45.1" y="158.6" font-size="7.4" text-anchor="start" font-weight="normal" fill="#222" >comp</text>
<circle cx="37.9" cy="164.1" r="3" fill="#e8383d"/>
<text x="45.1" y="166.7" font-size="7.4" text-anchor="start" font-weight="normal" fill="#222" >exp</text>
<text x="32.3" y="331.2" font-size="5.9" text-anchor="start" font-weight="bold" fill="#111" >K417T_E484K_N501Y</text>
<circle cx="36.1" cy="338.4" r="3" fill="#f9a825"/>
<text x="43.3" y="341" font-size="7.4" text-anchor="start" font-weight="normal" fill="#222" >comp</text>
<circle cx="36.1" cy="346.5" r="3" fill="#217a21"/>
<text x="43.3" y="349.1" font-size="7.4" text-anchor="start" font-weight="normal" fill="#222" >exp</text>
<rect x="244.4" y="0.8" width="218.4" height="118.2" fill="#fff" stroke="#cfcfcf" stroke-width="1"/>
<path d="M254.4 114.3 L256.18 114.33 L258.71 114.4 L261.67 114.47 L264.75 114.49 L267.63 114.41 L270 114.2 L271.88 113.88 L273.53 113.51 L274.98 113.04 L276.26 112.44 L277.43 111.67 L278.5 110.7 L279.44 109.56 L280.2 108.27 L280.84 106.83 L281.4 105.18 L281.94 103.32 L282.5 101.2 L283.07 98.82 L283.6 96.19 L284.11 93.34 L284.61 90.29 L285.1 87.07 L285.6 83.7 L286.11 80.03 L286.63 76.01 L287.14 71.82 L287.65 67.63 L288.14 63.63 L288.6 60 L289.04 56.71 L289.45 53.63 L289.85 50.73 L290.24 48 L290.62 45.43 L291 43 L291.38 40.75 L291.76 38.68 L292.14 36.77 L292.5 34.99 L292.86 33.31 L293.2 31.7 L293.52 30.17 L293.83 28.74 L294.13 27.41 L294.42 26.17 L294.71 25.04 L295 24 L295.29 23.05 L295.57 22.18 L295.85 21.41 L296.13 20.75 L296.41 20.21 L296.7 19.8 L296.99 19.56 L297.29 19.5 L297.59 19.56 L297.89 19.69 L298.19 19.82 L298.5 19.9 L298.82 19.9 L299.14 19.85 L299.47 19.81 L299.8 19.84 L300.11 19.98 L300.4 20.3 L300.66 20.81 L300.91 21.47 L301.14 22.26 L301.37 23.13 L301.58 24.05 L301.8 25 L302 25.92 L302.17 26.84 L302.33 27.81 L302.51 28.9 L302.73 30.18 L303 31.7 L303.35 33.55 L303.75 35.69 L304.19 38.02 L304.65 40.42 L305.09 42.78 L305.5 45 L305.87 47.08 L306.22 49.1 L306.56 51.08 L306.89 53.05 L307.24 55.02 L307.6 57 L307.98 59.03 L308.39 61.09 L308.79 63.14 L309.2 65.17 L309.61 67.13 L310 69 L310.35 70.72 L310.66 72.29 L310.96 73.81 L311.29 75.33 L311.69 76.94 L312.2 78.7 L312.84 80.66 L313.58 82.77 L314.39 84.96 L315.23 87.17 L316.08 89.34 L316.9 91.4 L317.68 93.39 L318.44 95.37 L319.2 97.3 L319.99 99.16 L320.81 100.9 L321.7 102.5 L322.63 103.96 L323.57 105.31 L324.56 106.54 L325.61 107.67 L326.75 108.69 L328 109.6 L329.36 110.38 L330.82 111.03 L332.36 111.57 L333.99 112.03 L335.71 112.43 L337.5 112.8 L338.36 113.13 L338.09 113.38 L337.91 113.58 L339.02 113.74 L342.64 113.88 L350 114 L363.12 114.11 L381.44 114.18 L402.28 114.22 L422.94 114.26 L440.75 114.28 L453 114.3 L453 114.3 L254.4 114.3Z" fill="#F8766D" fill-opacity="0.2" stroke="none"/>
<path d="M254.4 114.3 L256.18 114.33 L258.71 114.4 L261.67 114.47 L264.75 114.49 L267.63 114.41 L270 114.2 L271.88 113.88 L273.53 113.51 L274.98 113.04 L276.26 112.44 L277.43 111.67 L278.5 110.7 L279.44 109.56 L280.2 108.27 L280.84 106.83 L281.4 105.18 L281.94 103.32 L282.5 101.2 L283.07 98.82 L283.6 96.19 L284.11 93.34 L284.61 90.29 L285.1 87.07 L285.6 83.7 L286.11 80.03 L286.63 76.01 L287.14 71.82 L287.65 67.63 L288.14 63.63 L288.6 60 L289.04 56.71 L289.45 53.63 L289.85 50.73 L290.24 48 L290.62 45.43 L291 43 L291.38 40.75 L291.76 38.68 L292.14 36.77 L292.5 34.99 L292.86 33.31 L293.2 31.7 L293.52 30.17 L293.83 28.74 L294.13 27.41 L294.42 26.17 L294.71 25.04 L295 24 L295.29 23.05 L295.57 22.18 L295.85 21.41 L296.13 20.75 L296.41 20.21 L296.7 19.8 L296.99 19.56 L297.29 19.5 L297.59 19.56 L297.89 19.69 L298.19 19.82 L298.5 19.9 L298.82 19.9 L299.14 19.85 L299.47 19.81 L299.8 19.84 L300.11 19.98 L300.4 20.3 L300.66 20.81 L300.91 21.47 L301.14 22.26 L301.37 23.13 L301.58 24.05 L301.8 25 L302 25.92 L302.17 26.84 L302.33 27.81 L302.51 28.9 L302.73 30.18 L303 31.7 L303.35 33.55 L303.75 35.69 L304.19 38.02 L304.65 40.42 L305.09 42.78 L305.5 45 L305.87 47.08 L306.22 49.1 L306.56 51.08 L306.89 53.05 L307.24 55.02 L307.6 57 L307.98 59.03 L308.39 61.09 L308.79 63.14 L309.2 65.17 L309.61 67.13 L310 69 L310.35 70.72 L310.66 72.29 L310.96 73.81 L311.29 75.33 L311.69 76.94 L312.2 78.7 L312.84 80.66 L313.58 82.77 L314.39 84.96 L315.23 87.17 L316.08 89.34 L316.9 91.4 L317.68 93.39 L318.44 95.37 L319.2 97.3 L319.99 99.16 L320.81 100.9 L321.7 102.5 L322.63 103.96 L323.57 105.31 L324.56 106.54 L325.61 107.67 L326.75 108.69 L328 109.6 L329.36 110.38 L330.82 111.03 L332.36 111.57 L333.99 112.03 L335.71 112.43 L337.5 112.8 L338.36 113.13 L338.09 113.38 L337.91 113.58 L339.02 113.74 L342.64 113.88 L350 114 L363.12 114.11 L381.44 114.18 L402.28 114.22 L422.94 114.26 L440.75 114.28 L453 114.3" fill="none" stroke="#F8766D" stroke-width="0.9"/>
<path d="M254.4 114.3 L256.62 114.3 L259.77 114.3 L263.47 114.29 L267.29 114.28 L270.84 114.25 L273.7 114.2 L275.86 114.15 L277.63 114.1 L279.12 114.04 L280.44 113.93 L281.7 113.76 L283 113.5 L284.31 113.18 L285.53 112.82 L286.69 112.4 L287.8 111.88 L288.9 111.22 L290 110.4 L291.1 109.42 L292.18 108.3 L293.24 107.05 L294.28 105.67 L295.3 104.15 L296.3 102.5 L297.29 100.6 L298.28 98.41 L299.25 96.1 L300.19 93.8 L301.07 91.65 L301.9 89.8 L302.64 88.26 L303.31 86.92 L303.94 85.74 L304.54 84.67 L305.15 83.67 L305.8 82.7 L306.51 81.77 L307.25 80.91 L308.01 80.12 L308.74 79.4 L309.41 78.76 L310 78.2 L310.46 77.75 L310.82 77.42 L311.12 77.17 L311.41 76.94 L311.76 76.7 L312.2 76.4 L312.75 76.04 L313.37 75.67 L314.04 75.28 L314.74 74.87 L315.43 74.44 L316.1 74 L316.76 73.52 L317.43 73 L318.09 72.46 L318.75 71.93 L319.39 71.44 L320 71 L320.55 70.57 L321.03 70.13 L321.49 69.71 L321.98 69.39 L322.54 69.2 L323.2 69.2 L323.98 69.39 L324.83 69.72 L325.76 70.19 L326.73 70.8 L327.75 71.54 L328.8 72.4 L329.89 73.4 L331.03 74.54 L332.21 75.81 L333.42 77.2 L334.65 78.7 L335.9 80.3 L337.19 82.12 L338.52 84.17 L339.88 86.34 L341.23 88.49 L342.55 90.49 L343.8 92.2 L344.98 93.63 L346.1 94.87 L347.18 95.96 L348.25 96.93 L349.32 97.8 L350.4 98.6 L351.49 99.3 L352.56 99.87 L353.63 100.35 L354.72 100.76 L355.84 101.13 L357 101.5 L358.14 101.82 L359.24 102.05 L360.37 102.25 L361.6 102.46 L363.02 102.73 L364.7 103.1 L366.72 103.58 L369.05 104.13 L371.56 104.73 L374.14 105.39 L376.66 106.08 L379 106.8 L381.19 107.62 L383.33 108.57 L385.41 109.56 L387.43 110.5 L389.39 111.31 L391.3 111.9 L393.14 112.25 L394.92 112.41 L396.64 112.44 L398.3 112.39 L399.92 112.33 L401.5 112.3 L403.02 112.29 L404.48 112.26 L405.89 112.21 L407.27 112.14 L408.64 112.07 L410 112 L411.36 111.91 L412.71 111.8 L414.04 111.69 L415.35 111.59 L416.64 111.52 L417.9 111.5 L419.13 111.55 L420.32 111.64 L421.49 111.77 L422.66 111.92 L423.82 112.07 L425 112.2 L426.14 112.32 L427.2 112.43 L428.27 112.54 L429.42 112.66 L430.7 112.78 L432.2 112.9 L434 113.03 L436.06 113.17 L438.27 113.31 L440.49 113.44 L442.61 113.58 L444.5 113.7 L446.23 113.82 L447.93 113.94 L449.52 114.05 L450.94 114.15 L452.12 114.24 L453 114.3 L453 114.3 L254.4 114.3Z" fill="#7CAE00" fill-opacity="0.2" stroke="none"/>
<path d="M254.4 114.3 L256.62 114.3 L259.77 114.3 L263.47 114.29 L267.29 114.28 L270.84 114.25 L273.7 114.2 L275.86 114.15 L277.63 114.1 L279.12 114.04 L280.44 113.93 L281.7 113.76 L283 113.5 L284.31 113.18 L285.53 112.82 L286.69 112.4 L287.8 111.88 L288.9 111.22 L290 110.4 L291.1 109.42 L292.18 108.3 L293.24 107.05 L294.28 105.67 L295.3 104.15 L296.3 102.5 L297.29 100.6 L298.28 98.41 L299.25 96.1 L300.19 93.8 L301.07 91.65 L301.9 89.8 L302.64 88.26 L303.31 86.92 L303.94 85.74 L304.54 84.67 L305.15 83.67 L305.8 82.7 L306.51 81.77 L307.25 80.91 L308.01 80.12 L308.74 79.4 L309.41 78.76 L310 78.2 L310.46 77.75 L310.82 77.42 L311.12 77.17 L311.41 76.94 L311.76 76.7 L312.2 76.4 L312.75 76.04 L313.37 75.67 L314.04 75.28 L314.74 74.87 L315.43 74.44 L316.1 74 L316.76 73.52 L317.43 73 L318.09 72.46 L318.75 71.93 L319.39 71.44 L320 71 L320.55 70.57 L321.03 70.13 L321.49 69.71 L321.98 69.39 L322.54 69.2 L323.2 69.2 L323.98 69.39 L324.83 69.72 L325.76 70.19 L326.73 70.8 L327.75 71.54 L328.8 72.4 L329.89 73.4 L331.03 74.54 L332.21 75.81 L333.42 77.2 L334.65 78.7 L335.9 80.3 L337.19 82.12 L338.52 84.17 L339.88 86.34 L341.23 88.49 L342.55 90.49 L343.8 92.2 L344.98 93.63 L346.1 94.87 L347.18 95.96 L348.25 96.93 L349.32 97.8 L350.4 98.6 L351.49 99.3 L352.56 99.87 L353.63 100.35 L354.72 100.76 L355.84 101.13 L357 101.5 L358.14 101.82 L359.24 102.05 L360.37 102.25 L361.6 102.46 L363.02 102.73 L364.7 103.1 L366.72 103.58 L369.05 104.13 L371.56 104.73 L374.14 105.39 L376.66 106.08 L379 106.8 L381.19 107.62 L383.33 108.57 L385.41 109.56 L387.43 110.5 L389.39 111.31 L391.3 111.9 L393.14 112.25 L394.92 112.41 L396.64 112.44 L398.3 112.39 L399.92 112.33 L401.5 112.3 L403.02 112.29 L404.48 112.26 L405.89 112.21 L407.27 112.14 L408.64 112.07 L410 112 L411.36 111.91 L412.71 111.8 L414.04 111.69 L415.35 111.59 L416.64 111.52 L417.9 111.5 L419.13 111.55 L420.32 111.64 L421.49 111.77 L422.66 111.92 L423.82 112.07 L425 112.2 L426.14 112.32 L427.2 112.43 L428.27 112.54 L429.42 112.66 L430.7 112.78 L432.2 112.9 L434 113.03 L436.06 113.17 L438.27 113.31 L440.49 113.44 L442.61 113.58 L444.5 113.7 L446.23 113.82 L447.93 113.94 L449.52 114.05 L450.94 114.15 L452.12 114.24 L453 114.3" fill="none" stroke="#7CAE00" stroke-width="0.9"/>
<path d="M254.4 114.3 L255.59 114.3 L257.27 114.3 L259.25 114.29 L261.33 114.28 L263.31 114.25 L265 114.2 L266.42 114.18 L267.71 114.21 L268.92 114.22 L270.05 114.15 L271.14 113.93 L272.2 113.5 L273.23 112.87 L274.21 112.08 L275.15 111.15 L276.04 110.07 L276.89 108.86 L277.7 107.5 L278.47 106.02 L279.21 104.41 L279.9 102.66 L280.55 100.76 L281.15 98.67 L281.7 96.4 L282.18 93.88 L282.59 91.13 L282.94 88.19 L283.28 85.15 L283.62 82.07 L284 79 L284.41 75.88 L284.84 72.64 L285.27 69.35 L285.7 66.1 L286.11 62.95 L286.5 60 L286.86 57.25 L287.21 54.64 L287.54 52.14 L287.87 49.73 L288.18 47.36 L288.5 45 L288.8 42.72 L289.09 40.54 L289.38 38.41 L289.66 36.26 L289.97 34.05 L290.3 31.7 L290.67 29.13 L291.07 26.37 L291.48 23.53 L291.9 20.74 L292.31 18.13 L292.7 15.8 L293.07 13.59 L293.43 11.36 L293.78 9.29 L294.13 7.59 L294.47 6.43 L294.8 6 L295.12 6.43 L295.41 7.59 L295.71 9.29 L296.01 11.36 L296.33 13.59 L296.7 15.8 L297.11 18.1 L297.56 20.67 L298.03 23.41 L298.52 26.22 L299.01 29.01 L299.5 31.7 L299.99 34.35 L300.5 37.04 L301.01 39.72 L301.51 42.31 L302.02 44.76 L302.5 47 L302.95 48.84 L303.38 50.29 L303.8 51.6 L304.23 53 L304.69 54.72 L305.2 57 L305.78 60.04 L306.41 63.7 L307.07 67.68 L307.74 71.7 L308.39 75.47 L309 78.7 L309.55 81.36 L310.06 83.66 L310.54 85.71 L311.04 87.62 L311.59 89.48 L312.2 91.4 L312.88 93.39 L313.6 95.37 L314.36 97.3 L315.16 99.16 L316.01 100.9 L316.9 102.5 L317.84 103.97 L318.82 105.34 L319.84 106.59 L320.91 107.73 L322.03 108.73 L323.2 109.6 L324.43 110.28 L325.71 110.77 L327.04 111.13 L328.41 111.42 L329.8 111.69 L331.2 112 L331.41 112.35 L330.21 112.69 L329.04 113.02 L329.32 113.32 L332.49 113.58 L340 113.8 L354.11 113.96 L374.13 114.08 L397.05 114.16 L419.84 114.22 L439.5 114.26 L453 114.3 L453 114.3 L254.4 114.3Z" fill="#00BFC4" fill-opacity="0.2" stroke="none"/>
<path d="M254.4 114.3 L255.59 114.3 L257.27 114.3 L259.25 114.29 L261.33 114.28 L263.31 114.25 L265 114.2 L266.42 114.18 L267.71 114.21 L268.92 114.22 L270.05 114.15 L271.14 113.93 L272.2 113.5 L273.23 112.87 L274.21 112.08 L275.15 111.15 L276.04 110.07 L276.89 108.86 L277.7 107.5 L278.47 106.02 L279.21 104.41 L279.9 102.66 L280.55 100.76 L281.15 98.67 L281.7 96.4 L282.18 93.88 L282.59 91.13 L282.94 88.19 L283.28 85.15 L283.62 82.07 L284 79 L284.41 75.88 L284.84 72.64 L285.27 69.35 L285.7 66.1 L286.11 62.95 L286.5 60 L286.86 57.25 L287.21 54.64 L287.54 52.14 L287.87 49.73 L288.18 47.36 L288.5 45 L288.8 42.72 L289.09 40.54 L289.38 38.41 L289.66 36.26 L289.97 34.05 L290.3 31.7 L290.67 29.13 L291.07 26.37 L291.48 23.53 L291.9 20.74 L292.31 18.13 L292.7 15.8 L293.07 13.59 L293.43 11.36 L293.78 9.29 L294.13 7.59 L294.47 6.43 L294.8 6 L295.12 6.43 L295.41 7.59 L295.71 9.29 L296.01 11.36 L296.33 13.59 L296.7 15.8 L297.11 18.1 L297.56 20.67 L298.03 23.41 L298.52 26.22 L299.01 29.01 L299.5 31.7 L299.99 34.35 L300.5 37.04 L301.01 39.72 L301.51 42.31 L302.02 44.76 L302.5 47 L302.95 48.84 L303.38 50.29 L303.8 51.6 L304.23 53 L304.69 54.72 L305.2 57 L305.78 60.04 L306.41 63.7 L307.07 67.68 L307.74 71.7 L308.39 75.47 L309 78.7 L309.55 81.36 L310.06 83.66 L310.54 85.71 L311.04 87.62 L311.59 89.48 L312.2 91.4 L312.88 93.39 L313.6 95.37 L314.36 97.3 L315.16 99.16 L316.01 100.9 L316.9 102.5 L317.84 103.97 L318.82 105.34 L319.84 106.59 L320.91 107.73 L322.03 108.73 L323.2 109.6 L324.43 110.28 L325.71 110.77 L327.04 111.13 L328.41 111.42 L329.8 111.69 L331.2 112 L331.41 112.35 L330.21 112.69 L329.04 113.02 L329.32 113.32 L332.49 113.58 L340 113.8 L354.11 113.96 L374.13 114.08 L397.05 114.16 L419.84 114.22 L439.5 114.26 L453 114.3" fill="none" stroke="#00BFC4" stroke-width="0.9"/>
<path d="M254.4 114.3 L254.8 114.07 L255.35 113.76 L256.01 113.38 L256.7 112.96 L257.39 112.49 L258 112 L258.54 111.52 L259.04 111.06 L259.53 110.55 L260.03 109.96 L260.54 109.22 L261.1 108.3 L261.72 107.17 L262.4 105.86 L263.09 104.41 L263.78 102.86 L264.43 101.25 L265 99.6 L265.49 97.91 L265.91 96.14 L266.29 94.3 L266.66 92.41 L267.02 90.47 L267.4 88.5 L267.79 86.51 L268.17 84.5 L268.55 82.44 L268.94 80.32 L269.35 78.11 L269.8 75.8 L270.28 73.4 L270.78 70.93 L271.31 68.38 L271.85 65.72 L272.42 62.94 L273 60 L273.63 56.72 L274.3 53.09 L275 49.32 L275.69 45.66 L276.33 42.34 L276.9 39.6 L277.39 37.48 L277.81 35.79 L278.2 34.44 L278.56 33.34 L278.92 32.4 L279.3 31.5 L279.69 30.69 L280.08 30.04 L280.46 29.54 L280.84 29.17 L281.22 28.93 L281.6 28.8 L281.98 28.83 L282.36 29.06 L282.73 29.41 L283.1 29.81 L283.46 30.19 L283.8 30.5 L284.12 30.69 L284.43 30.81 L284.72 30.91 L285.01 31.06 L285.3 31.3 L285.6 31.7 L285.9 32.22 L286.2 32.83 L286.51 33.52 L286.82 34.34 L287.15 35.29 L287.5 36.4 L287.88 37.7 L288.29 39.19 L288.71 40.81 L289.14 42.51 L289.57 44.26 L290 46 L290.41 47.63 L290.82 49.17 L291.22 50.74 L291.65 52.49 L292.1 54.53 L292.6 57 L293.15 60.14 L293.76 63.88 L294.39 67.93 L295.03 71.95 L295.68 75.65 L296.3 78.7 L296.93 81.09 L297.58 83.08 L298.23 84.74 L298.85 86.14 L299.42 87.37 L299.9 88.5 L300.27 89.42 L300.53 90.04 L300.73 90.49 L300.93 90.88 L301.17 91.34 L301.5 92 L301.95 92.89 L302.49 93.93 L303.06 95.03 L303.64 96.13 L304.16 97.14 L304.6 98 L304.91 98.66 L305.13 99.17 L305.31 99.59 L305.48 100 L305.69 100.45 L306 101 L306.39 101.68 L306.82 102.43 L307.29 103.23 L307.81 104.03 L308.38 104.8 L309 105.5 L309.65 106.12 L310.32 106.69 L311.04 107.23 L311.83 107.75 L312.71 108.27 L313.7 108.8 L314.84 109.36 L316.11 109.93 L317.48 110.49 L318.89 111.04 L320.31 111.55 L321.7 112 L322.99 112.4 L324.2 112.75 L325.41 113.07 L326.73 113.35 L328.23 113.59 L330 113.8 L331.04 113.96 L331.06 114.08 L331.27 114.16 L332.86 114.22 L337.04 114.26 L345 114.3 L358.87 114.33 L378.11 114.34 L399.94 114.33 L421.56 114.32 L440.17 114.31 L453 114.3 L453 114.3 L254.4 114.3Z" fill="#C77CFF" fill-opacity="0.2" stroke="none"/>
<path d="M254.4 114.3 L254.8 114.07 L255.35 113.76 L256.01 113.38 L256.7 112.96 L257.39 112.49 L258 112 L258.54 111.52 L259.04 111.06 L259.53 110.55 L260.03 109.96 L260.54 109.22 L261.1 108.3 L261.72 107.17 L262.4 105.86 L263.09 104.41 L263.78 102.86 L264.43 101.25 L265 99.6 L265.49 97.91 L265.91 96.14 L266.29 94.3 L266.66 92.41 L267.02 90.47 L267.4 88.5 L267.79 86.51 L268.17 84.5 L268.55 82.44 L268.94 80.32 L269.35 78.11 L269.8 75.8 L270.28 73.4 L270.78 70.93 L271.31 68.38 L271.85 65.72 L272.42 62.94 L273 60 L273.63 56.72 L274.3 53.09 L275 49.32 L275.69 45.66 L276.33 42.34 L276.9 39.6 L277.39 37.48 L277.81 35.79 L278.2 34.44 L278.56 33.34 L278.92 32.4 L279.3 31.5 L279.69 30.69 L280.08 30.04 L280.46 29.54 L280.84 29.17 L281.22 28.93 L281.6 28.8 L281.98 28.83 L282.36 29.06 L282.73 29.41 L283.1 29.81 L283.46 30.19 L283.8 30.5 L284.12 30.69 L284.43 30.81 L284.72 30.91 L285.01 31.06 L285.3 31.3 L285.6 31.7 L285.9 32.22 L286.2 32.83 L286.51 33.52 L286.82 34.34 L287.15 35.29 L287.5 36.4 L287.88 37.7 L288.29 39.19 L288.71 40.81 L289.14 42.51 L289.57 44.26 L290 46 L290.41 47.63 L290.82 49.17 L291.22 50.74 L291.65 52.49 L292.1 54.53 L292.6 57 L293.15 60.14 L293.76 63.88 L294.39 67.93 L295.03 71.95 L295.68 75.65 L296.3 78.7 L296.93 81.09 L297.58 83.08 L298.23 84.74 L298.85 86.14 L299.42 87.37 L299.9 88.5 L300.27 89.42 L300.53 90.04 L300.73 90.49 L300.93 90.88 L301.17 91.34 L301.5 92 L301.95 92.89 L302.49 93.93 L303.06 95.03 L303.64 96.13 L304.16 97.14 L304.6 98 L304.91 98.66 L305.13 99.17 L305.31 99.59 L305.48 100 L305.69 100.45 L306 101 L306.39 101.68 L306.82 102.43 L307.29 103.23 L307.81 104.03 L308.38 104.8 L309 105.5 L309.65 106.12 L310.32 106.69 L311.04 107.23 L311.83 107.75 L312.71 108.27 L313.7 108.8 L314.84 109.36 L316.11 109.93 L317.48 110.49 L318.89 111.04 L320.31 111.55 L321.7 112 L322.99 112.4 L324.2 112.75 L325.41 113.07 L326.73 113.35 L328.23 113.59 L330 113.8 L331.04 113.96 L331.06 114.08 L331.27 114.16 L332.86 114.22 L337.04 114.26 L345 114.3 L358.87 114.33 L378.11 114.34 L399.94 114.33 L421.56 114.32 L440.17 114.31 L453 114.3" fill="none" stroke="#C77CFF" stroke-width="0.9"/>
<line x1="241.4" y1="114.3" x2="244.4" y2="114.3" stroke="#9a9a9a" stroke-width="0.8"/>
<text x="239.9" y="117.2" font-size="8.2" text-anchor="end" font-weight="normal" fill="#4d4d4d" >0</text>
<line x1="241.4" y1="88.8" x2="244.4" y2="88.8" stroke="#9a9a9a" stroke-width="0.8"/>
<text x="239.9" y="91.7" font-size="8.2" text-anchor="end" font-weight="normal" fill="#4d4d4d" >5</text>
<line x1="241.4" y1="63.3" x2="244.4" y2="63.3" stroke="#9a9a9a" stroke-width="0.8"/>
<text x="239.9" y="66.2" font-size="8.2" text-anchor="end" font-weight="normal" fill="#4d4d4d" >10</text>
<line x1="241.4" y1="37.8" x2="244.4" y2="37.8" stroke="#9a9a9a" stroke-width="0.8"/>
<text x="239.9" y="40.7" font-size="8.2" text-anchor="end" font-weight="normal" fill="#4d4d4d" >15</text>
<line x1="241.4" y1="12.3" x2="244.4" y2="12.3" stroke="#9a9a9a" stroke-width="0.8"/>
<text x="239.9" y="15.2" font-size="8.2" text-anchor="end" font-weight="normal" fill="#4d4d4d" >20</text>
<line x1="266.7" y1="119.0" x2="266.7" y2="122.0" stroke="#9a9a9a" stroke-width="0.8"/>
<text x="266.7" y="130.2" font-size="8.2" text-anchor="middle" font-weight="normal" fill="#4d4d4d" >0.1</text>
<line x1="311.6" y1="119.0" x2="311.6" y2="122.0" stroke="#9a9a9a" stroke-width="0.8"/>
<text x="311.6" y="130.2" font-size="8.2" text-anchor="middle" font-weight="normal" fill="#4d4d4d" >0.2</text>
<line x1="356.5" y1="119.0" x2="356.5" y2="122.0" stroke="#9a9a9a" stroke-width="0.8"/>
<text x="356.5" y="130.2" font-size="8.2" text-anchor="middle" font-weight="normal" fill="#4d4d4d" >0.3</text>
<line x1="401.4" y1="119.0" x2="401.4" y2="122.0" stroke="#9a9a9a" stroke-width="0.8"/>
<text x="401.4" y="130.2" font-size="8.2" text-anchor="middle" font-weight="normal" fill="#4d4d4d" >0.4</text>
<line x1="446.3" y1="119.0" x2="446.3" y2="122.0" stroke="#9a9a9a" stroke-width="0.8"/>
<text x="446.3" y="130.2" font-size="8.2" text-anchor="middle" font-weight="normal" fill="#4d4d4d" >0.5</text>
<text x="354" y="139.2" font-size="8.2" text-anchor="middle" font-weight="normal" fill="#222" >RMSD (nm)</text>
<text x="221.4" y="59.5" font-size="8.4" text-anchor="middle" font-weight="normal" fill="#222" transform="rotate(-90 221.4 59.5)">Density</text>
<rect x="339.1" y="6.5" width="6.2" height="6.2" fill="#F8766D" fill-opacity="0.25" stroke="#F8766D" stroke-width="1"/>
<text x="348.8" y="12.2" font-size="7.25" text-anchor="start" font-weight="normal" fill="#222" >experimental apo conformation</text>
<rect x="339.1" y="14.4" width="6.2" height="6.2" fill="#7CAE00" fill-opacity="0.25" stroke="#7CAE00" stroke-width="1"/>
<text x="348.8" y="20.1" font-size="7.25" text-anchor="start" font-weight="normal" fill="#222" >modeled apo conformation</text>
<rect x="339.1" y="22.3" width="6.2" height="6.2" fill="#00BFC4" fill-opacity="0.25" stroke="#00BFC4" stroke-width="1"/>
<text x="348.8" y="28" font-size="7.25" text-anchor="start" font-weight="normal" fill="#222" >modeled holo conformation</text>
<rect x="339.1" y="30.2" width="6.2" height="6.2" fill="#C77CFF" fill-opacity="0.25" stroke="#C77CFF" stroke-width="1"/>
<text x="348.8" y="35.9" font-size="7.25" text-anchor="start" font-weight="normal" fill="#222" >modeled bound conformation</text>
<text x="198.4" y="14.2" font-size="19" text-anchor="start" font-weight="bold" fill="#000" >a</text>
<rect x="244.4" y="146.3" width="217.9" height="212.5" fill="#fff" stroke="#cfcfcf" stroke-width="1"/>
<path d="M400.4 349.4L387.4 350.2L378.7 349.3L375.0 348.3L370.0 346.3L361.6 341.3L356.8 337.3L353.4 333.6L350.5 329.3L348.4 324.9L346.4 318.7L345.4 314.0L344.3 306.3L343.0 291.3L342.4 289.2L341.4 288.3L339.4 288.3L330.4 291.1L324.4 291.9L317.4 291.1L311.4 289.0L292.4 279.7L285.5 275.3L282.4 272.4L279.8 269.3L274.4 260.3L272.4 255.3L270.9 249.3L269.6 240.3L269.0 232.3L269.2 223.3L270.0 212.3L271.2 205.3L272.8 199.3L275.4 192.4L278.4 186.3L282.1 180.3L286.6 174.3L291.4 169.1L296.9 164.3L302.4 160.4L308.4 157.1L313.4 155.0L319.4 153.0L325.4 151.7L331.4 151.0L337.4 150.9L343.4 151.3L349.4 152.4L355.4 154.0L356.4 154.7L375.4 176.0L380.4 178.1L385.4 180.7L399.4 192.4L406.4 197.1L414.4 201.5L420.6 206.3L425.7 211.3L430.4 216.9L434.4 222.8L438.0 229.3L441.0 236.3L443.7 244.3L447.7 258.3L450.6 271.3L451.2 278.3L450.9 285.3L449.8 292.3L447.8 300.3L444.9 308.3L438.1 324.3L434.7 330.3L431.4 334.5L424.5 340.3L416.4 345.1L409.4 347.7L400.4 349.4Z" fill="#edeef1"/>
<path d="M401.4 339.4L394.4 339.7L387.4 339.3L382.5 338.3L379.8 337.3L375.8 335.3L371.3 332.3L366.4 327.9L362.4 323.1L358.4 315.6L355.4 305.3L354.2 298.3L353.4 288.3L353.6 271.3L353.3 269.3L352.4 268.4L350.4 269.5L342.4 277.7L336.4 281.9L332.4 283.7L328.4 284.9L324.4 285.3L319.4 285.0L314.4 283.7L309.4 281.7L294.4 273.9L290.4 271.0L287.6 268.3L283.8 263.3L282.1 260.3L279.7 255.3L277.8 249.3L276.7 242.3L276.3 236.3L276.4 229.3L277.1 220.3L278.1 213.3L279.5 207.3L281.7 201.3L284.5 195.3L288.0 189.3L292.3 183.3L296.4 178.5L300.8 174.3L305.4 170.8L310.4 167.7L315.4 165.3L320.4 163.6L325.4 162.3L331.4 161.5L337.4 161.4L342.4 161.8L347.4 162.6L352.4 164.0L371.4 185.3L380.4 190.0L397.4 204.9L400.4 207.2L409.4 212.6L419.4 220.3L426.4 227.9L431.2 235.3L434.7 243.3L438.8 256.3L440.6 263.3L442.1 272.3L442.4 279.3L442.1 285.3L440.9 293.3L439.3 300.3L436.4 308.8L432.4 318.3L429.5 323.3L426.4 327.0L421.4 331.4L415.1 335.3L407.5 338.3L401.4 339.4Z" fill="#e2e5ea"/>
<path d="M401.4 325.3L397.4 325.5L392.4 325.1L388.4 324.1L385.4 322.8L382.4 321.0L377.9 317.3L374.4 313.3L371.8 309.3L368.7 302.3L366.3 292.3L365.5 281.3L366.5 267.3L366.5 260.3L365.4 254.7L363.3 253.3L360.4 252.3L359.4 252.4L357.4 253.6L353.4 258.1L344.4 270.3L341.4 273.6L338.4 276.1L332.4 279.4L325.4 281.1L321.4 281.2L316.4 280.3L310.4 278.0L303.4 274.6L297.4 271.1L293.4 268.3L290.4 265.3L287.4 261.2L284.7 256.3L282.7 251.3L281.6 246.3L280.8 240.3L280.5 234.3L280.9 228.3L282.1 219.3L283.5 213.3L285.3 208.3L287.2 204.3L292.6 196.3L297.4 190.7L302.4 185.7L307.4 181.6L311.4 178.9L320.4 174.6L325.4 173.1L330.4 172.2L335.4 171.8L340.4 172.1L345.4 173.0L349.4 174.2L368.4 195.7L375.2 199.3L393.4 216.2L397.7 219.3L414.4 233.6L419.4 238.7L422.9 243.3L425.5 248.3L428.8 257.3L431.2 265.3L432.6 272.3L433.1 277.3L433.0 282.3L432.4 288.3L431.1 294.3L428.7 301.3L425.5 308.3L423.1 312.3L419.8 316.3L415.4 320.0L410.4 322.9L405.4 324.7L401.4 325.3Z" fill="#d6dde7"/>
<path d="M399.4 314.3L396.4 314.1L392.4 313.2L389.4 311.9L386.4 309.9L383.6 307.3L381.2 304.3L379.3 301.3L377.4 297.0L375.4 289.3L374.7 280.3L375.2 272.3L377.4 261.3L377.8 256.3L377.3 253.3L376.3 250.3L373.4 244.9L364.4 241.6L362.4 241.4L360.4 242.2L357.4 245.8L345.4 263.6L340.7 269.3L337.4 272.2L334.4 274.1L331.4 275.5L327.4 276.7L323.4 277.2L319.4 276.9L315.4 275.9L311.4 274.4L305.1 271.3L299.4 267.9L295.4 264.8L292.4 261.4L289.8 257.3L287.8 253.3L286.4 249.3L285.3 244.3L284.7 238.3L284.6 233.3L286.0 221.3L288.4 212.9L292.3 205.3L298.0 198.3L305.4 191.7L309.4 189.0L314.4 186.4L319.4 184.5L325.4 183.0L331.4 182.2L336.4 182.2L341.4 182.8L345.4 183.8L346.4 184.5L365.4 205.9L369.4 208.1L390.4 227.8L397.6 235.3L410.4 245.3L415.2 250.3L417.4 253.8L420.1 259.3L422.3 265.3L423.6 270.3L424.4 275.3L424.6 280.3L424.3 285.3L423.4 290.3L421.8 295.3L419.4 300.9L417.4 304.3L414.4 307.8L411.4 310.3L407.4 312.6L403.4 313.9L399.4 314.3Z" fill="#cbd5e3"/>
<path d="M403.4 301.4L398.4 301.8L395.9 301.3L393.7 300.3L389.4 296.6L387.2 293.3L385.4 289.1L384.4 284.7L384.2 277.3L385.2 271.3L386.1 268.3L389.5 261.3L390.5 258.3L390.7 256.3L390.1 253.3L387.4 247.3L381.4 237.1L367.4 231.5L361.4 229.7L359.4 229.9L358.4 230.9L353.5 244.3L350.2 250.3L345.7 257.3L341.4 263.2L338.4 266.5L335.4 268.9L331.4 271.1L328.1 272.3L324.4 273.0L321.4 273.0L317.4 272.4L312.4 270.7L307.4 268.2L302.4 265.3L298.4 262.1L295.9 259.3L293.8 256.3L290.6 249.3L289.0 242.3L288.6 234.3L289.7 224.3L291.8 216.3L295.4 209.1L300.4 202.8L304.4 199.1L309.4 195.5L314.4 193.1L319.4 191.7L325.4 191.0L333.4 191.3L340.4 192.8L342.4 193.5L343.4 194.3L361.6 215.3L363.4 216.6L382.8 235.3L394.4 248.0L404.4 255.7L408.8 260.3L411.7 264.3L413.9 269.3L415.4 274.7L415.9 280.3L415.4 285.3L413.5 291.3L410.6 296.3L407.4 299.4L403.4 301.4Z" fill="#bfcde0"/>
<path d="M326.4 268.5L321.4 268.9L315.4 267.6L308.4 264.4L302.3 260.3L298.6 256.3L295.3 250.3L293.6 245.3L292.6 238.3L292.9 230.3L294.3 222.3L296.5 216.3L299.4 211.2L304.4 205.5L309.7 201.3L315.4 198.6L321.4 197.3L325.4 197.4L330.4 198.2L335.4 199.8L339.4 201.8L342.4 204.7L347.0 210.3L353.7 219.3L353.9 220.3L352.9 221.3L352.2 223.3L352.2 232.3L351.4 238.3L349.7 243.3L346.7 249.3L341.4 257.5L336.4 263.3L331.4 266.7L326.4 268.5Z" fill="#b0c4de"/>
<path d="M325.4 264.4L320.4 264.6L315.4 263.4L309.4 260.5L304.9 257.3L302.1 254.3L299.2 249.3L297.4 244.3L296.6 239.3L296.5 233.3L297.5 226.3L299.4 220.3L302.0 215.3L305.4 211.0L310.4 206.7L315.4 204.1L320.4 203.0L324.4 203.0L329.4 204.1L334.2 206.3L338.1 209.3L343.6 216.3L346.4 224.1L347.5 230.3L347.4 236.3L346.3 241.3L344.2 246.3L340.7 252.3L337.0 257.3L333.4 260.8L329.4 263.1L325.4 264.4Z" fill="#a0bcdd"/>
<path d="M323.4 260.4L319.4 260.3L315.4 259.1L310.4 256.5L306.5 253.3L304.2 250.3L302.2 246.3L301.0 242.3L300.4 237.3L300.6 232.3L301.7 226.3L303.6 221.3L306.0 217.3L309.4 213.5L313.4 210.6L317.4 208.9L321.4 208.2L325.4 208.6L328.4 209.5L332.4 211.7L335.4 214.3L338.4 218.3L341.1 223.3L342.7 228.3L343.3 233.3L342.9 238.3L341.9 242.3L339.6 247.3L336.4 252.2L333.4 255.7L330.4 258.0L327.4 259.5L323.4 260.4Z" fill="#91b3db"/>
<path d="M326.4 255.4L323.4 256.1L319.4 256.0L315.4 254.7L312.4 253.0L309.4 250.5L307.4 247.9L305.6 244.3L304.5 240.3L304.2 236.3L304.6 231.3L305.6 227.3L307.4 223.1L309.4 220.1L312.4 217.1L315.4 215.1L319.4 213.7L322.4 213.5L325.4 214.0L328.4 215.2L331.4 217.3L334.2 220.3L336.4 223.8L337.9 227.3L338.9 231.3L339.1 235.3L338.9 238.3L338.2 241.3L336.5 245.3L334.0 249.3L331.4 252.2L329.4 253.8L326.4 255.4Z" fill="#85aed9"/>
<path d="M324.4 251.5L322.4 251.9L319.4 251.7L316.4 250.6L313.4 248.7L311.4 246.6L309.9 244.3L308.7 241.3L308.2 238.3L308.1 235.3L308.6 231.3L309.5 228.3L311.0 225.3L313.4 222.3L315.4 220.7L317.4 219.6L320.4 218.7L323.4 218.8L325.4 219.4L327.4 220.3L329.8 222.3L333.3 227.3L334.4 230.3L335.0 233.3L335.1 236.3L334.7 239.3L332.8 244.3L329.4 248.7L327.3 250.3L324.4 251.5Z" fill="#78a8d8"/>
<path d="M323.4 247.3L321.4 247.6L319.4 247.3L315.7 245.3L313.3 242.3L312.0 238.3L312.2 233.3L313.6 229.3L316.4 225.7L318.4 224.5L320.4 223.9L322.4 223.8L324.4 224.3L327.4 226.4L330.0 230.3L331.1 234.3L331.0 238.3L329.4 242.5L326.4 246.0L323.4 247.3Z" fill="#6ca3d6"/>
<path d="M323.4 242.8L321.4 243.2L318.6 242.3L316.7 240.3L315.9 238.3L315.8 235.3L316.7 232.3L318.4 230.0L320.4 229.0L322.4 228.9L324.4 229.8L326.4 232.3L327.1 234.3L327.3 237.3L326.7 239.3L325.4 241.4L323.4 242.8Z" fill="#629dd4"/>
<path d="M322.4 238.6L321.4 238.8L320.4 238.4L319.6 237.3L319.7 235.3L320.4 234.3L321.4 233.9L322.6 234.3L323.4 235.8L323.4 237.3L322.4 238.6Z" fill="#5898d3"/>
<circle cx="327.9" cy="182.4" r="2.5" fill="#ffa500"/>
<circle cx="389.8" cy="215.9" r="2.5" fill="#ffa500"/>
<circle cx="397.1" cy="239.2" r="2.5" fill="#ffa500"/>
<circle cx="398.9" cy="240.6" r="2.5" fill="#ffa500"/>
<circle cx="379.1" cy="245" r="2.5" fill="#ffa500"/>
<circle cx="344.6" cy="263.6" r="2.5" fill="#ffa500"/>
<circle cx="400.8" cy="268.3" r="2.5" fill="#ffa500"/>
<circle cx="407.1" cy="276.4" r="2.5" fill="#ffa500"/>
<circle cx="394.3" cy="290.5" r="2.5" fill="#ffa500"/>
<circle cx="407.2" cy="288.4" r="2.5" fill="#ffa500"/>
<circle cx="414.7" cy="311.5" r="2.5" fill="#ffa500"/>
<circle cx="393.6" cy="315.7" r="2.5" fill="#ffa500"/>
<circle cx="372.5" cy="328" r="2.5" fill="#ffa500"/>
<path d="M330.5 214L335 218.5L330.5 223L326 218.5Z" fill="none" stroke="#22aa22" stroke-width="1.5"/>
<circle cx="330.5" cy="218.5" r="2.5" fill="#ffa500"/>
<path d="M396.3 274.4L400.8 278.9L396.3 283.4L391.8 278.9Z" fill="none" stroke="#1a78c8" stroke-width="1.5"/>
<circle cx="396.3" cy="278.9" r="2.5" fill="#ffa500"/>
<line x1="241.4" y1="186.5" x2="244.4" y2="186.5" stroke="#9a9a9a" stroke-width="0.8"/>
<text x="240.1" y="189.2" font-size="7.8" text-anchor="end" font-weight="normal" fill="#555" >100</text>
<line x1="241.4" y1="235.9" x2="244.4" y2="235.9" stroke="#9a9a9a" stroke-width="0.8"/>
<text x="240.1" y="238.6" font-size="7.8" text-anchor="end" font-weight="normal" fill="#555" >0</text>
<line x1="241.4" y1="285.3" x2="244.4" y2="285.3" stroke="#9a9a9a" stroke-width="0.8"/>
<text x="240.1" y="288" font-size="7.8" text-anchor="end" font-weight="normal" fill="#555" >-100</text>
<line x1="241.4" y1="334.7" x2="244.4" y2="334.7" stroke="#9a9a9a" stroke-width="0.8"/>
<text x="240.1" y="337.4" font-size="7.8" text-anchor="end" font-weight="normal" fill="#555" >-200</text>
<line x1="254.5" y1="358.8" x2="254.5" y2="361.8" stroke="#9a9a9a" stroke-width="0.8"/>
<text x="254.5" y="369.3" font-size="7.8" text-anchor="middle" font-weight="normal" fill="#555" >-200</text>
<line x1="303.9" y1="358.8" x2="303.9" y2="361.8" stroke="#9a9a9a" stroke-width="0.8"/>
<text x="303.9" y="369.3" font-size="7.8" text-anchor="middle" font-weight="normal" fill="#555" >-100</text>
<line x1="353.3" y1="358.8" x2="353.3" y2="361.8" stroke="#9a9a9a" stroke-width="0.8"/>
<text x="353.3" y="369.3" font-size="7.8" text-anchor="middle" font-weight="normal" fill="#555" >0</text>
<line x1="402.7" y1="358.8" x2="402.7" y2="361.8" stroke="#9a9a9a" stroke-width="0.8"/>
<text x="402.7" y="369.3" font-size="7.8" text-anchor="middle" font-weight="normal" fill="#555" >100</text>
<line x1="452.1" y1="358.8" x2="452.1" y2="361.8" stroke="#9a9a9a" stroke-width="0.8"/>
<text x="452.1" y="369.3" font-size="7.8" text-anchor="middle" font-weight="normal" fill="#555" >200</text>
<text x="353.3" y="378.3" font-size="8.3" text-anchor="middle" font-weight="normal" fill="#222" >PC1</text>
<text x="220.6" y="252.9" font-size="8.3" text-anchor="middle" font-weight="normal" fill="#222" transform="rotate(-90 220.6 252.9)">PC2</text>
<text x="198.4" y="197.8" font-size="19" text-anchor="start" font-weight="bold" fill="#000" >b</text>
<defs><linearGradient id="hg0" x1="0" y1="0" x2="0.25" y2="1"><stop offset="0" stop-color="#ffffff"/><stop offset="0.45" stop-color="#f3f3f3"/><stop offset="0.8" stop-color="#dadada"/><stop offset="1" stop-color="#bcbcbc"/></linearGradient>
<linearGradient id="hg1" x1="0" y1="0" x2="0.25" y2="1"><stop offset="0" stop-color="#fdfdfd"/><stop offset="0.4" stop-color="#eeeeee"/><stop offset="0.78" stop-color="#cdcdcd"/><stop offset="1" stop-color="#a8a8a8"/></linearGradient>
<linearGradient id="sg" x1="0" y1="0" x2="0" y2="1"><stop offset="0" stop-color="#ffffff"/><stop offset="0.5" stop-color="#eeeeee"/><stop offset="1" stop-color="#bdbdbd"/></linearGradient>
<linearGradient id="hg2" x1="0" y1="0" x2="0.25" y2="1"><stop offset="0" stop-color="#f0f0f0"/><stop offset="0.35" stop-color="#d8d8d8"/><stop offset="0.75" stop-color="#aaaaaa"/><stop offset="1" stop-color="#8a8a8a"/></linearGradient><g id="ace2"><path d="M493 49Q496 47 497 48.5Q498 50 499.5 48.5Q501 47 502 48Q503 49 504.5 48Q506 47 507 47.5Q508 48 510 47.5Q512 47 514.5 46.9L517 46.7" fill="none" stroke="#a0a0a0" stroke-width="0.6"/><path d="M516 46Q517 38 520 34Q523 30 525.5 28Q528 26 531 26.5Q534 27 535.5 24L537 21" fill="none" stroke="#a6a6a6" stroke-width="0.6"/><path d="M509 63Q504 59 502.3 61.5Q500.6 64 501.8 67Q503 70 506 69Q509 68 512 64.5Q515 61 518.4 61.3Q521.7 61.6 523.9 63.8L526 66" fill="none" stroke="#a6a6a6" stroke-width="0.6"/><path d="M499.5 60Q504 57 507 57.5Q510 58 511.4 60L512.8 62" fill="none" stroke="#a6a6a6" stroke-width="0.6"/><path d="M510 80Q512 86 514.2 86Q516.4 86 519.2 85L522 84" fill="none" stroke="#a6a6a6" stroke-width="0.6"/><path d="M524 96Q528 104 531 107Q534 110 538 113Q542 116 546.4 119.3Q550.7 122.6 552.4 120.3Q554 118 555 115L556 112" fill="none" stroke="#a6a6a6" stroke-width="0.6"/><path d="M584.7 21Q588 28 590 31.5L592 35" fill="none" stroke="#a6a6a6" stroke-width="0.6"/><path d="M585 79Q594 86 597 89Q600 92 603.5 95Q607 98 605.5 101Q604 104 600 105Q596 106 593 108L590 110" fill="none" stroke="#a6a6a6" stroke-width="0.6"/><path d="M540 16Q548 13 552 14Q556 15 559 16.5L562 18" fill="none" stroke="#a6a6a6" stroke-width="0.6"/><path d="M566 108Q572 112 576 111Q580 110 584 107L588 104" fill="none" stroke="#a6a6a6" stroke-width="0.6"/><path d="M528 52Q536 50 538 53Q540 56 538 59L536 62" fill="none" stroke="#a6a6a6" stroke-width="0.6"/><path d="M560 60Q566 56 568 58Q570 60 568 63Q566 66 569 68L572 70" fill="none" stroke="#a6a6a6" stroke-width="0.6"/><path d="M608 72Q612 66 611 62L610 58" fill="none" stroke="#a6a6a6" stroke-width="0.6"/><path d="M536 21.5L542 21.5" stroke="#cfcfcf" stroke-width="5.9" stroke-linecap="round"/><g stroke="#b8b8b8" stroke-width="0.35" fill="url(#hg0)"><rect x="-2.8" y="-4.2" width="5.5" height="8.4" rx="2.2" ry="1.9" transform="translate(536 21.5) rotate(0) skewX(-30)"/><rect x="-2.8" y="-4.2" width="5.5" height="8.4" rx="2.2" ry="1.9" transform="translate(542 21.5) rotate(0) skewX(-30)"/></g><path d="M547 26.5L570 25.5" stroke="#a9a9a9" stroke-width="6.3" stroke-linecap="round"/><g stroke="#8f8f8f" stroke-width="0.35" fill="url(#hg2)"><rect x="-2.6" y="-4.5" width="5.3" height="9" rx="2.1" ry="2" transform="translate(547 26.5) rotate(-2.5) skewX(-30)"/><rect x="-2.6" y="-4.5" width="5.3" height="9" rx="2.1" ry="2" transform="translate(552.8 26.2) rotate(-2.5) skewX(-30)"/><rect x="-2.6" y="-4.5" width="5.3" height="9" rx="2.1" ry="2" transform="translate(558.5 26) rotate(-2.5) skewX(-30)"/><rect x="-2.6" y="-4.5" width="5.3" height="9" rx="2.1" ry="2" transform="translate(564.2 25.8) rotate(-2.5) skewX(-30)"/><rect x="-2.6" y="-4.5" width="5.3" height="9" rx="2.1" ry="2" transform="translate(570 25.5) rotate(-2.5) skewX(-30)"/></g><path d="M569 24L581 16" stroke="#bdbdbd" stroke-width="5.1" stroke-linecap="round"/><g stroke="#a3a3a3" stroke-width="0.35" fill="url(#hg1)"><rect x="-2.2" y="-3.6" width="4.4" height="7.3" rx="1.8" ry="1.6" transform="translate(569 24) rotate(-33.7) skewX(-30)"/><rect x="-2.2" y="-3.6" width="4.4" height="7.3" rx="1.8" ry="1.6" transform="translate(573 21.3) rotate(-33.7) skewX(-30)"/><rect x="-2.2" y="-3.6" width="4.4" height="7.3" rx="1.8" ry="1.6" transform="translate(577 18.7) rotate(-33.7) skewX(-30)"/><rect x="-2.2" y="-3.6" width="4.4" height="7.3" rx="1.8" ry="1.6" transform="translate(581 16) rotate(-33.7) skewX(-30)"/></g><path d="M583 17L589 24" stroke="#cfcfcf" stroke-width="4.7" stroke-linecap="round"/><g stroke="#b8b8b8" stroke-width="0.35" fill="url(#hg0)"><rect x="-2.1" y="-3.4" width="4.2" height="6.7" rx="1.7" ry="1.5" transform="translate(583 17) rotate(49.4) skewX(-30)"/><rect x="-2.1" y="-3.4" width="4.2" height="6.7" rx="1.7" ry="1.5" transform="translate(586 20.5) rotate(49.4) skewX(-30)"/><rect x="-2.1" y="-3.4" width="4.2" height="6.7" rx="1.7" ry="1.5" transform="translate(589 24) rotate(49.4) skewX(-30)"/></g><path d="M529 41.6L547.2 32.1" stroke="#bdbdbd" stroke-width="6.3" stroke-linecap="round"/><g stroke="#a3a3a3" stroke-width="0.35" fill="url(#hg1)"><rect x="-3.1" y="-4.5" width="6.3" height="9" rx="2.5" ry="2" transform="translate(529 41.6) rotate(-27.6) skewX(-30)"/><rect x="-3.1" y="-4.5" width="6.3" height="9" rx="2.5" ry="2" transform="translate(535.1 38.4) rotate(-27.6) skewX(-30)"/><rect x="-3.1" y="-4.5" width="6.3" height="9" rx="2.5" ry="2" transform="translate(541.1 35.3) rotate(-27.6) skewX(-30)"/><rect x="-3.1" y="-4.5" width="6.3" height="9" rx="2.5" ry="2" transform="translate(547.2 32.1) rotate(-27.6) skewX(-30)"/></g><path d="M510 55.9L534.5 46.4" stroke="#bdbdbd" stroke-width="6.8" stroke-linecap="round"/><g stroke="#a3a3a3" stroke-width="0.35" fill="url(#hg1)"><rect x="-3" y="-4.9" width="6" height="9.7" rx="2.4" ry="2.2" transform="translate(510 55.9) rotate(-21.2) skewX(-30)"/><rect x="-3" y="-4.9" width="6" height="9.7" rx="2.4" ry="2.2" transform="translate(516.1 53.5) rotate(-21.2) skewX(-30)"/><rect x="-3" y="-4.9" width="6" height="9.7" rx="2.4" ry="2.2" transform="translate(522.2 51.1) rotate(-21.2) skewX(-30)"/><rect x="-3" y="-4.9" width="6" height="9.7" rx="2.4" ry="2.2" transform="translate(528.4 48.8) rotate(-21.2) skewX(-30)"/><rect x="-3" y="-4.9" width="6" height="9.7" rx="2.4" ry="2.2" transform="translate(534.5 46.4) rotate(-21.2) skewX(-30)"/></g><path d="M548 47L574 31" stroke="#bdbdbd" stroke-width="6.3" stroke-linecap="round"/><g stroke="#a3a3a3" stroke-width="0.35" fill="url(#hg1)"><rect x="-2.8" y="-4.5" width="5.6" height="9" rx="2.2" ry="2" transform="translate(548 47) rotate(-31.6) skewX(-30)"/><rect x="-2.8" y="-4.5" width="5.6" height="9" rx="2.2" ry="2" transform="translate(553.2 43.8) rotate(-31.6) skewX(-30)"/><rect x="-2.8" y="-4.5" width="5.6" height="9" rx="2.2" ry="2" transform="translate(558.4 40.6) rotate(-31.6) skewX(-30)"/><rect x="-2.8" y="-4.5" width="5.6" height="9" rx="2.2" ry="2" transform="translate(563.6 37.4) rotate(-31.6) skewX(-30)"/><rect x="-2.8" y="-4.5" width="5.6" height="9" rx="2.2" ry="2" transform="translate(568.8 34.2) rotate(-31.6) skewX(-30)"/><rect x="-2.8" y="-4.5" width="5.6" height="9" rx="2.2" ry="2" transform="translate(574 31) rotate(-31.6) skewX(-30)"/></g><path d="M541 29L552 28" stroke="#cfcfcf" stroke-width="4.7" stroke-linecap="round"/><g stroke="#b8b8b8" stroke-width="0.35" fill="url(#hg0)"><rect x="-2.5" y="-3.4" width="5.1" height="6.7" rx="2" ry="1.5" transform="translate(541 29) rotate(-5.2) skewX(-30)"/><rect x="-2.5" y="-3.4" width="5.1" height="6.7" rx="2" ry="1.5" transform="translate(546.5 28.5) rotate(-5.2) skewX(-30)"/><rect x="-2.5" y="-3.4" width="5.1" height="6.7" rx="2" ry="1.5" transform="translate(552 28) rotate(-5.2) skewX(-30)"/></g><path d="M512 54L524 54" stroke="#cfcfcf" stroke-width="4.3" stroke-linecap="round"/><g stroke="#b8b8b8" stroke-width="0.35" fill="url(#hg0)"><rect x="-1.8" y="-3.1" width="3.7" height="6.2" rx="1.5" ry="1.4" transform="translate(512 54) rotate(0) skewX(-30)"/><rect x="-1.8" y="-3.1" width="3.7" height="6.2" rx="1.5" ry="1.4" transform="translate(516 54) rotate(0) skewX(-30)"/><rect x="-1.8" y="-3.1" width="3.7" height="6.2" rx="1.5" ry="1.4" transform="translate(520 54) rotate(0) skewX(-30)"/><rect x="-1.8" y="-3.1" width="3.7" height="6.2" rx="1.5" ry="1.4" transform="translate(524 54) rotate(0) skewX(-30)"/></g><path d="M526.6 62L547.2 59" stroke="#bdbdbd" stroke-width="5.5" stroke-linecap="round"/><g stroke="#a3a3a3" stroke-width="0.35" fill="url(#hg1)"><rect x="-2.4" y="-3.9" width="4.8" height="7.8" rx="1.9" ry="1.8" transform="translate(526.6 62) rotate(-8.3) skewX(-30)"/><rect x="-2.4" y="-3.9" width="4.8" height="7.8" rx="1.9" ry="1.8" transform="translate(531.8 61.2) rotate(-8.3) skewX(-30)"/><rect x="-2.4" y="-3.9" width="4.8" height="7.8" rx="1.9" ry="1.8" transform="translate(536.9 60.5) rotate(-8.3) skewX(-30)"/><rect x="-2.4" y="-3.9" width="4.8" height="7.8" rx="1.9" ry="1.8" transform="translate(542.1 59.8) rotate(-8.3) skewX(-30)"/><rect x="-2.4" y="-3.9" width="4.8" height="7.8" rx="1.9" ry="1.8" transform="translate(547.2 59) rotate(-8.3) skewX(-30)"/></g><path d="M557 44L560 68" stroke="#cfcfcf" stroke-width="5.5" stroke-linecap="round"/><g stroke="#b8b8b8" stroke-width="0.35" fill="url(#hg0)"><rect x="-2.8" y="-3.9" width="5.6" height="7.8" rx="2.2" ry="1.8" transform="translate(557 44) rotate(82.9) skewX(-30)"/><rect x="-2.8" y="-3.9" width="5.6" height="7.8" rx="2.2" ry="1.8" transform="translate(557.8 50) rotate(82.9) skewX(-30)"/><rect x="-2.8" y="-3.9" width="5.6" height="7.8" rx="2.2" ry="1.8" transform="translate(558.5 56) rotate(82.9) skewX(-30)"/><rect x="-2.8" y="-3.9" width="5.6" height="7.8" rx="2.2" ry="1.8" transform="translate(559.2 62) rotate(82.9) skewX(-30)"/><rect x="-2.8" y="-3.9" width="5.6" height="7.8" rx="2.2" ry="1.8" transform="translate(560 68) rotate(82.9) skewX(-30)"/></g><path d="M565 44L583 40" stroke="#cfcfcf" stroke-width="5.1" stroke-linecap="round"/><g stroke="#b8b8b8" stroke-width="0.35" fill="url(#hg0)"><rect x="-2.1" y="-3.6" width="4.2" height="7.3" rx="1.7" ry="1.6" transform="translate(565 44) rotate(-12.5) skewX(-30)"/><rect x="-2.1" y="-3.6" width="4.2" height="7.3" rx="1.7" ry="1.6" transform="translate(569.5 43) rotate(-12.5) skewX(-30)"/><rect x="-2.1" y="-3.6" width="4.2" height="7.3" rx="1.7" ry="1.6" transform="translate(574 42) rotate(-12.5) skewX(-30)"/><rect x="-2.1" y="-3.6" width="4.2" height="7.3" rx="1.7" ry="1.6" transform="translate(578.5 41) rotate(-12.5) skewX(-30)"/><rect x="-2.1" y="-3.6" width="4.2" height="7.3" rx="1.7" ry="1.6" transform="translate(583 40) rotate(-12.5) skewX(-30)"/></g><path d="M572 33L584 27" stroke="#cfcfcf" stroke-width="4.7" stroke-linecap="round"/><g stroke="#b8b8b8" stroke-width="0.35" fill="url(#hg0)"><rect x="-2.1" y="-3.4" width="4.1" height="6.7" rx="1.6" ry="1.5" transform="translate(572 33) rotate(-26.6) skewX(-30)"/><rect x="-2.1" y="-3.4" width="4.1" height="6.7" rx="1.6" ry="1.5" transform="translate(576 31) rotate(-26.6) skewX(-30)"/><rect x="-2.1" y="-3.4" width="4.1" height="6.7" rx="1.6" ry="1.5" transform="translate(580 29) rotate(-26.6) skewX(-30)"/><rect x="-2.1" y="-3.4" width="4.1" height="6.7" rx="1.6" ry="1.5" transform="translate(584 27) rotate(-26.6) skewX(-30)"/></g><path d="M507 75L536 75" stroke="#a9a9a9" stroke-width="6.3" stroke-linecap="round"/><g stroke="#8f8f8f" stroke-width="0.35" fill="url(#hg2)"><rect x="-3.3" y="-4.5" width="6.7" height="9" rx="2.7" ry="2" transform="translate(507 75) rotate(0) skewX(-30)"/><rect x="-3.3" y="-4.5" width="6.7" height="9" rx="2.7" ry="2" transform="translate(514.2 75) rotate(0) skewX(-30)"/><rect x="-3.3" y="-4.5" width="6.7" height="9" rx="2.7" ry="2" transform="translate(521.5 75) rotate(0) skewX(-30)"/><rect x="-3.3" y="-4.5" width="6.7" height="9" rx="2.7" ry="2" transform="translate(528.8 75) rotate(0) skewX(-30)"/><rect x="-3.3" y="-4.5" width="6.7" height="9" rx="2.7" ry="2" transform="translate(536 75) rotate(0) skewX(-30)"/></g><path d="M517 82L533 91" stroke="#cfcfcf" stroke-width="5.5" stroke-linecap="round"/><g stroke="#b8b8b8" stroke-width="0.35" fill="url(#hg0)"><rect x="-2.8" y="-3.9" width="5.6" height="7.8" rx="2.3" ry="1.8" transform="translate(517 82) rotate(29.4) skewX(-30)"/><rect x="-2.8" y="-3.9" width="5.6" height="7.8" rx="2.3" ry="1.8" transform="translate(522.3 85) rotate(29.4) skewX(-30)"/><rect x="-2.8" y="-3.9" width="5.6" height="7.8" rx="2.3" ry="1.8" transform="translate(527.7 88) rotate(29.4) skewX(-30)"/><rect x="-2.8" y="-3.9" width="5.6" height="7.8" rx="2.3" ry="1.8" transform="translate(533 91) rotate(29.4) skewX(-30)"/></g><path d="M540 78L546 106" stroke="#cfcfcf" stroke-width="5.9" stroke-linecap="round"/><g stroke="#b8b8b8" stroke-width="0.35" fill="url(#hg0)"><rect x="-2.6" y="-4.2" width="5.3" height="8.4" rx="2.1" ry="1.9" transform="translate(540 78) rotate(77.9) skewX(-30)"/><rect x="-2.6" y="-4.2" width="5.3" height="8.4" rx="2.1" ry="1.9" transform="translate(541.2 83.6) rotate(77.9) skewX(-30)"/><rect x="-2.6" y="-4.2" width="5.3" height="8.4" rx="2.1" ry="1.9" transform="translate(542.4 89.2) rotate(77.9) skewX(-30)"/><rect x="-2.6" y="-4.2" width="5.3" height="8.4" rx="2.1" ry="1.9" transform="translate(543.6 94.8) rotate(77.9) skewX(-30)"/><rect x="-2.6" y="-4.2" width="5.3" height="8.4" rx="2.1" ry="1.9" transform="translate(544.8 100.4) rotate(77.9) skewX(-30)"/><rect x="-2.6" y="-4.2" width="5.3" height="8.4" rx="2.1" ry="1.9" transform="translate(546 106) rotate(77.9) skewX(-30)"/></g><path d="M550 94L568 107" stroke="#a9a9a9" stroke-width="6.3" stroke-linecap="round"/><g stroke="#8f8f8f" stroke-width="0.35" fill="url(#hg2)"><rect x="-3.4" y="-4.5" width="6.8" height="9" rx="2.7" ry="2" transform="translate(550 94) rotate(35.8) skewX(-30)"/><rect x="-3.4" y="-4.5" width="6.8" height="9" rx="2.7" ry="2" transform="translate(556 98.3) rotate(35.8) skewX(-30)"/><rect x="-3.4" y="-4.5" width="6.8" height="9" rx="2.7" ry="2" transform="translate(562 102.7) rotate(35.8) skewX(-30)"/><rect x="-3.4" y="-4.5" width="6.8" height="9" rx="2.7" ry="2" transform="translate(568 107) rotate(35.8) skewX(-30)"/></g><path d="M556 84L579 75.5" stroke="#a9a9a9" stroke-width="5.9" stroke-linecap="round"/><g stroke="#8f8f8f" stroke-width="0.35" fill="url(#hg2)"><rect x="-2.8" y="-4.2" width="5.6" height="8.4" rx="2.3" ry="1.9" transform="translate(556 84) rotate(-20.3) skewX(-30)"/><rect x="-2.8" y="-4.2" width="5.6" height="8.4" rx="2.3" ry="1.9" transform="translate(561.8 81.9) rotate(-20.3) skewX(-30)"/><rect x="-2.8" y="-4.2" width="5.6" height="8.4" rx="2.3" ry="1.9" transform="translate(567.5 79.8) rotate(-20.3) skewX(-30)"/><rect x="-2.8" y="-4.2" width="5.6" height="8.4" rx="2.3" ry="1.9" transform="translate(573.2 77.6) rotate(-20.3) skewX(-30)"/><rect x="-2.8" y="-4.2" width="5.6" height="8.4" rx="2.3" ry="1.9" transform="translate(579 75.5) rotate(-20.3) skewX(-30)"/></g><path d="M597 79L605 80" stroke="#a9a9a9" stroke-width="4.7" stroke-linecap="round"/><g stroke="#8f8f8f" stroke-width="0.35" fill="url(#hg2)"><rect x="-1.9" y="-3.4" width="3.7" height="6.7" rx="1.5" ry="1.5" transform="translate(597 79) rotate(7.1) skewX(-30)"/><rect x="-1.9" y="-3.4" width="3.7" height="6.7" rx="1.5" ry="1.5" transform="translate(601 79.5) rotate(7.1) skewX(-30)"/><rect x="-1.9" y="-3.4" width="3.7" height="6.7" rx="1.5" ry="1.5" transform="translate(605 80) rotate(7.1) skewX(-30)"/></g><path d="M520 66L535 64" stroke="#cfcfcf" stroke-width="4.7" stroke-linecap="round"/><g stroke="#b8b8b8" stroke-width="0.35" fill="url(#hg0)"><rect x="-2.3" y="-3.4" width="4.6" height="6.7" rx="1.9" ry="1.5" transform="translate(520 66) rotate(-7.6) skewX(-30)"/><rect x="-2.3" y="-3.4" width="4.6" height="6.7" rx="1.9" ry="1.5" transform="translate(525 65.3) rotate(-7.6) skewX(-30)"/><rect x="-2.3" y="-3.4" width="4.6" height="6.7" rx="1.9" ry="1.5" transform="translate(530 64.7) rotate(-7.6) skewX(-30)"/><rect x="-2.3" y="-3.4" width="4.6" height="6.7" rx="1.9" ry="1.5" transform="translate(535 64) rotate(-7.6) skewX(-30)"/></g><path d="M546 46L550 72" stroke="#cfcfcf" stroke-width="5.5" stroke-linecap="round"/><g stroke="#b8b8b8" stroke-width="0.35" fill="url(#hg0)"><rect x="-2.4" y="-3.9" width="4.8" height="7.8" rx="1.9" ry="1.8" transform="translate(546 46) rotate(81.3) skewX(-30)"/><rect x="-2.4" y="-3.9" width="4.8" height="7.8" rx="1.9" ry="1.8" transform="translate(546.8 51.2) rotate(81.3) skewX(-30)"/><rect x="-2.4" y="-3.9" width="4.8" height="7.8" rx="1.9" ry="1.8" transform="translate(547.6 56.4) rotate(81.3) skewX(-30)"/><rect x="-2.4" y="-3.9" width="4.8" height="7.8" rx="1.9" ry="1.8" transform="translate(548.4 61.6) rotate(81.3) skewX(-30)"/><rect x="-2.4" y="-3.9" width="4.8" height="7.8" rx="1.9" ry="1.8" transform="translate(549.2 66.8) rotate(81.3) skewX(-30)"/><rect x="-2.4" y="-3.9" width="4.8" height="7.8" rx="1.9" ry="1.8" transform="translate(550 72) rotate(81.3) skewX(-30)"/></g><path d="M530 97L540 101" stroke="#cfcfcf" stroke-width="4.7" stroke-linecap="round"/><g stroke="#b8b8b8" stroke-width="0.35" fill="url(#hg0)"><rect x="-2.5" y="-3.4" width="5" height="6.7" rx="2" ry="1.5" transform="translate(530 97) rotate(21.8) skewX(-30)"/><rect x="-2.5" y="-3.4" width="5" height="6.7" rx="2" ry="1.5" transform="translate(535 99) rotate(21.8) skewX(-30)"/><rect x="-2.5" y="-3.4" width="5" height="6.7" rx="2" ry="1.5" transform="translate(540 101) rotate(21.8) skewX(-30)"/></g><path d="M576 38L586 36" stroke="#cfcfcf" stroke-width="3.9" stroke-linecap="round"/><g stroke="#b8b8b8" stroke-width="0.35" fill="url(#hg0)"><rect x="-1.6" y="-2.8" width="3.1" height="5.6" rx="1.3" ry="1.3" transform="translate(576 38) rotate(-11.3) skewX(-30)"/><rect x="-1.6" y="-2.8" width="3.1" height="5.6" rx="1.3" ry="1.3" transform="translate(579.3 37.3) rotate(-11.3) skewX(-30)"/><rect x="-1.6" y="-2.8" width="3.1" height="5.6" rx="1.3" ry="1.3" transform="translate(582.7 36.7) rotate(-11.3) skewX(-30)"/><rect x="-1.6" y="-2.8" width="3.1" height="5.6" rx="1.3" ry="1.3" transform="translate(586 36) rotate(-11.3) skewX(-30)"/></g><path d="M548 78L556 86" stroke="#cfcfcf" stroke-width="4.7" stroke-linecap="round"/><g stroke="#b8b8b8" stroke-width="0.35" fill="url(#hg0)"><rect x="-2.6" y="-3.4" width="5.2" height="6.7" rx="2.1" ry="1.5" transform="translate(548 78) rotate(45) skewX(-30)"/><rect x="-2.6" y="-3.4" width="5.2" height="6.7" rx="2.1" ry="1.5" transform="translate(552 82) rotate(45) skewX(-30)"/><rect x="-2.6" y="-3.4" width="5.2" height="6.7" rx="2.1" ry="1.5" transform="translate(556 86) rotate(45) skewX(-30)"/></g><path d="M560 48L576 47" stroke="#cfcfcf" stroke-width="4.7" stroke-linecap="round"/><g stroke="#b8b8b8" stroke-width="0.35" fill="url(#hg0)"><rect x="-2.5" y="-3.4" width="4.9" height="6.7" rx="2" ry="1.5" transform="translate(560 48) rotate(-3.6) skewX(-30)"/><rect x="-2.5" y="-3.4" width="4.9" height="6.7" rx="2" ry="1.5" transform="translate(565.3 47.7) rotate(-3.6) skewX(-30)"/><rect x="-2.5" y="-3.4" width="4.9" height="6.7" rx="2" ry="1.5" transform="translate(570.7 47.3) rotate(-3.6) skewX(-30)"/><rect x="-2.5" y="-3.4" width="4.9" height="6.7" rx="2" ry="1.5" transform="translate(576 47) rotate(-3.6) skewX(-30)"/></g><path d="M562 56L572 58" stroke="#cfcfcf" stroke-width="4.3" stroke-linecap="round"/><g stroke="#b8b8b8" stroke-width="0.35" fill="url(#hg0)"><rect x="-2.3" y="-3.1" width="4.7" height="6.2" rx="1.9" ry="1.4" transform="translate(562 56) rotate(11.3) skewX(-30)"/><rect x="-2.3" y="-3.1" width="4.7" height="6.2" rx="1.9" ry="1.4" transform="translate(567 57) rotate(11.3) skewX(-30)"/><rect x="-2.3" y="-3.1" width="4.7" height="6.2" rx="1.9" ry="1.4" transform="translate(572 58) rotate(11.3) skewX(-30)"/></g><path d="M506 84L520 94" stroke="#cfcfcf" stroke-width="4.7" stroke-linecap="round"/><g stroke="#b8b8b8" stroke-width="0.35" fill="url(#hg0)"><rect x="-2" y="-3.4" width="4" height="6.7" rx="1.6" ry="1.5" transform="translate(506 84) rotate(35.5) skewX(-30)"/><rect x="-2" y="-3.4" width="4" height="6.7" rx="1.6" ry="1.5" transform="translate(509.5 86.5) rotate(35.5) skewX(-30)"/><rect x="-2" y="-3.4" width="4" height="6.7" rx="1.6" ry="1.5" transform="translate(513 89) rotate(35.5) skewX(-30)"/><rect x="-2" y="-3.4" width="4" height="6.7" rx="1.6" ry="1.5" transform="translate(516.5 91.5) rotate(35.5) skewX(-30)"/><rect x="-2" y="-3.4" width="4" height="6.7" rx="1.6" ry="1.5" transform="translate(520 94) rotate(35.5) skewX(-30)"/></g><path d="M513 44L524 40" stroke="#cfcfcf" stroke-width="4.7" stroke-linecap="round"/><g stroke="#b8b8b8" stroke-width="0.35" fill="url(#hg0)"><rect x="-2.7" y="-3.4" width="5.4" height="6.7" rx="2.2" ry="1.5" transform="translate(513 44) rotate(-20) skewX(-30)"/><rect x="-2.7" y="-3.4" width="5.4" height="6.7" rx="2.2" ry="1.5" transform="translate(518.5 42) rotate(-20) skewX(-30)"/><rect x="-2.7" y="-3.4" width="5.4" height="6.7" rx="2.2" ry="1.5" transform="translate(524 40) rotate(-20) skewX(-30)"/></g><path d="M586 70L596 76" stroke="#cfcfcf" stroke-width="3.9" stroke-linecap="round"/><g stroke="#b8b8b8" stroke-width="0.35" fill="url(#hg0)"><rect x="-1.8" y="-2.8" width="3.6" height="5.6" rx="1.4" ry="1.3" transform="translate(586 70) rotate(31) skewX(-30)"/><rect x="-1.8" y="-2.8" width="3.6" height="5.6" rx="1.4" ry="1.3" transform="translate(589.3 72) rotate(31) skewX(-30)"/><rect x="-1.8" y="-2.8" width="3.6" height="5.6" rx="1.4" ry="1.3" transform="translate(592.7 74) rotate(31) skewX(-30)"/><rect x="-1.8" y="-2.8" width="3.6" height="5.6" rx="1.4" ry="1.3" transform="translate(596 76) rotate(31) skewX(-30)"/></g><path d="M528 106L540 112" stroke="#cfcfcf" stroke-width="3.9" stroke-linecap="round"/><g stroke="#b8b8b8" stroke-width="0.35" fill="url(#hg0)"><rect x="-2.1" y="-2.8" width="4.1" height="5.6" rx="1.6" ry="1.3" transform="translate(528 106) rotate(26.6) skewX(-30)"/><rect x="-2.1" y="-2.8" width="4.1" height="5.6" rx="1.6" ry="1.3" transform="translate(532 108) rotate(26.6) skewX(-30)"/><rect x="-2.1" y="-2.8" width="4.1" height="5.6" rx="1.6" ry="1.3" transform="translate(536 110) rotate(26.6) skewX(-30)"/><rect x="-2.1" y="-2.8" width="4.1" height="5.6" rx="1.6" ry="1.3" transform="translate(540 112) rotate(26.6) skewX(-30)"/></g><path d="M575 104L586 108" stroke="#cfcfcf" stroke-width="3.9" stroke-linecap="round"/><g stroke="#b8b8b8" stroke-width="0.35" fill="url(#hg0)"><rect x="-1.8" y="-2.8" width="3.6" height="5.6" rx="1.4" ry="1.3" transform="translate(575 104) rotate(20) skewX(-30)"/><rect x="-1.8" y="-2.8" width="3.6" height="5.6" rx="1.4" ry="1.3" transform="translate(578.7 105.3) rotate(20) skewX(-30)"/><rect x="-1.8" y="-2.8" width="3.6" height="5.6" rx="1.4" ry="1.3" transform="translate(582.3 106.7) rotate(20) skewX(-30)"/><rect x="-1.8" y="-2.8" width="3.6" height="5.6" rx="1.4" ry="1.3" transform="translate(586 108) rotate(20) skewX(-30)"/></g><path d="M572 59L603 58.5L608 60.5L603 62.5L572 62.5Z" fill="#e9e9e9" stroke="#9a9a9a" stroke-width="0.5"/><path d="M572 63.5L602 63.5L607 65.5L602 67.5L572 67Z" fill="#dcdcdc" stroke="#9a9a9a" stroke-width="0.5"/><path d="M574 68.5L600 69L604 71L600 73L574 72Z" fill="#e6e6e6" stroke="#a0a0a0" stroke-width="0.5"/><ellipse cx="600" cy="29.5" rx="5.6" ry="5" transform="rotate(-30 600 29.5)" fill="#ececec" fill-opacity="0.5" stroke="#7c7c7c" stroke-width="0.8"/><ellipse cx="599.5" cy="31" rx="5.6" ry="5" transform="rotate(-30 599.5 31)" fill="#ececec" fill-opacity="0.5" stroke="#7c7c7c" stroke-width="0.8"/><ellipse cx="599" cy="32.5" rx="5.6" ry="5" transform="rotate(-30 599 32.5)" fill="#ececec" fill-opacity="0.5" stroke="#7c7c7c" stroke-width="0.8"/><ellipse cx="598.5" cy="34" rx="5.6" ry="5" transform="rotate(-30 598.5 34)" fill="#ececec" fill-opacity="0.5" stroke="#7c7c7c" stroke-width="0.8"/><ellipse cx="598" cy="35.5" rx="5.6" ry="5" transform="rotate(-30 598 35.5)" fill="#ececec" fill-opacity="0.5" stroke="#7c7c7c" stroke-width="0.8"/><ellipse cx="597.5" cy="37" rx="5.6" ry="5" transform="rotate(-30 597.5 37)" fill="#ececec" fill-opacity="0.5" stroke="#7c7c7c" stroke-width="0.8"/><ellipse cx="597" cy="38.5" rx="5.6" ry="5" transform="rotate(-30 597 38.5)" fill="#ececec" fill-opacity="0.5" stroke="#7c7c7c" stroke-width="0.8"/><ellipse cx="596.5" cy="40" rx="5.6" ry="5" transform="rotate(-30 596.5 40)" fill="#ececec" fill-opacity="0.5" stroke="#7c7c7c" stroke-width="0.8"/><ellipse cx="612" cy="37" rx="4.8" ry="4.4" transform="rotate(-30 612 37)" fill="#ececec" fill-opacity="0.5" stroke="#a5a5a5" stroke-width="0.8"/><ellipse cx="611.5" cy="38.7" rx="4.8" ry="4.4" transform="rotate(-30 611.5 38.7)" fill="#ececec" fill-opacity="0.5" stroke="#a5a5a5" stroke-width="0.8"/><ellipse cx="611" cy="40.3" rx="4.8" ry="4.4" transform="rotate(-30 611 40.3)" fill="#ececec" fill-opacity="0.5" stroke="#a5a5a5" stroke-width="0.8"/><ellipse cx="610.5" cy="42" rx="4.8" ry="4.4" transform="rotate(-30 610.5 42)" fill="#ececec" fill-opacity="0.5" stroke="#a5a5a5" stroke-width="0.8"/><ellipse cx="610" cy="43.7" rx="4.8" ry="4.4" transform="rotate(-30 610 43.7)" fill="#ececec" fill-opacity="0.5" stroke="#a5a5a5" stroke-width="0.8"/><ellipse cx="609.5" cy="45.3" rx="4.8" ry="4.4" transform="rotate(-30 609.5 45.3)" fill="#ececec" fill-opacity="0.5" stroke="#a5a5a5" stroke-width="0.8"/><ellipse cx="609" cy="47" rx="4.8" ry="4.4" transform="rotate(-30 609 47)" fill="#ececec" fill-opacity="0.5" stroke="#a5a5a5" stroke-width="0.8"/><ellipse cx="587" cy="54.2" rx="2.2" ry="5.3" transform="rotate(-10 587 54.2)" fill="#ececec" fill-opacity="0.5" stroke="#8d8d8d" stroke-width="0.8"/><ellipse cx="590.4" cy="53.2" rx="2.2" ry="5.3" transform="rotate(-10 590.4 53.2)" fill="#ececec" fill-opacity="0.5" stroke="#8d8d8d" stroke-width="0.8"/><ellipse cx="593.9" cy="52.1" rx="2.2" ry="5.3" transform="rotate(-10 593.9 52.1)" fill="#ececec" fill-opacity="0.5" stroke="#8d8d8d" stroke-width="0.8"/><ellipse cx="597.3" cy="51.1" rx="2.2" ry="5.3" transform="rotate(-10 597.3 51.1)" fill="#ececec" fill-opacity="0.5" stroke="#8d8d8d" stroke-width="0.8"/><ellipse cx="600.7" cy="50" rx="2.2" ry="5.3" transform="rotate(-10 600.7 50)" fill="#ececec" fill-opacity="0.5" stroke="#8d8d8d" stroke-width="0.8"/><ellipse cx="604.1" cy="49" rx="2.2" ry="5.3" transform="rotate(-10 604.1 49)" fill="#ececec" fill-opacity="0.5" stroke="#8d8d8d" stroke-width="0.8"/><ellipse cx="607.5" cy="48" rx="2.2" ry="5.3" transform="rotate(-10 607.5 48)" fill="#ececec" fill-opacity="0.5" stroke="#8d8d8d" stroke-width="0.8"/><ellipse cx="611" cy="46.9" rx="2.2" ry="5.3" transform="rotate(-10 611 46.9)" fill="#ececec" fill-opacity="0.5" stroke="#8d8d8d" stroke-width="0.8"/><ellipse cx="614.4" cy="45.9" rx="2.2" ry="5.3" transform="rotate(-10 614.4 45.9)" fill="#ececec" fill-opacity="0.5" stroke="#8d8d8d" stroke-width="0.8"/><ellipse cx="576" cy="85" rx="4.2" ry="3.6" transform="rotate(-40 576 85)" fill="#ececec" fill-opacity="0.5" stroke="#8a8a8a" stroke-width="0.8"/><ellipse cx="578.4" cy="87.6" rx="4.2" ry="3.6" transform="rotate(-40 578.4 87.6)" fill="#ececec" fill-opacity="0.5" stroke="#8a8a8a" stroke-width="0.8"/><ellipse cx="580.8" cy="90.2" rx="4.2" ry="3.6" transform="rotate(-40 580.8 90.2)" fill="#ececec" fill-opacity="0.5" stroke="#8a8a8a" stroke-width="0.8"/><ellipse cx="583.2" cy="92.8" rx="4.2" ry="3.6" transform="rotate(-40 583.2 92.8)" fill="#ececec" fill-opacity="0.5" stroke="#8a8a8a" stroke-width="0.8"/><ellipse cx="585.6" cy="95.4" rx="4.2" ry="3.6" transform="rotate(-40 585.6 95.4)" fill="#ececec" fill-opacity="0.5" stroke="#8a8a8a" stroke-width="0.8"/><ellipse cx="588" cy="98" rx="4.2" ry="3.6" transform="rotate(-40 588 98)" fill="#ececec" fill-opacity="0.5" stroke="#8a8a8a" stroke-width="0.8"/></g></defs>
<use href="#ace2" transform="translate(0 0)"/>
<use href="#ace2" transform="translate(0.5 124.3)"/>
<use href="#ace2" transform="translate(1.6 241.7)"/>
<g><path d="M617 22Q624 21 628 20Q632 19 634 20.5Q636 22 633 23Q630 24 626 24.5Q622 25 619 26Q616 27 617 29Q618 31 622 32.5Q626 34 630 33.5Q634 33 637.5 35.5Q641 38 643 42Q645 46 646 51Q647 56 648.5 60Q650 64 654 66.5Q658 69 662.5 72Q667 75 670 79Q673 83 671.5 87.5Q670 92 667 95L664 98" fill="none" stroke="#d48aa0" stroke-width="0.6"/><path d="M618 58Q614 66 614.5 71Q615 76 618 79.5Q621 83 624.5 85.5Q628 88 632 89.5L636 91" fill="none" stroke="#d48aa0" stroke-width="0.6"/><path d="M642 92Q650 97 655 96.5Q660 96 664 94Q668 92 671 89Q674 86 676 82L678 78" fill="none" stroke="#d48aa0" stroke-width="0.5"/><path d="M636 40Q640 50 639 54Q638 58 640 60Q642 62 646 62Q650 62 653 64L656 66" fill="none" stroke="#d48aa0" stroke-width="0.5"/><path d="M612 34Q618 38 620 42Q622 46 621 49Q620 52 617 54L614 56" fill="none" stroke="#d48aa0" stroke-width="0.5"/><path d="M660 100Q668 102 671 99Q674 96 676.5 93L679 90" fill="none" stroke="#d48aa0" stroke-width="0.5"/><path d="M610 22Q614 18 617 17Q620 16 623 16.5L626 17" fill="none" stroke="#b5b5b5" stroke-width="0.5"/><path d="M638 30Q646 34 649 38Q652 42 653 47L654 52" fill="none" stroke="#b5b5b5" stroke-width="0.5"/><path d="M615.5 21.2Q622.1 19.9 626.8 18.9Q631.4 17.9 633 19.5Q634.7 21.2 631.7 21.9Q628.7 22.5 624.8 23.2Q620.8 23.9 617.8 24.5Q614.9 25.2 615.9 27.9Q616.9 30.5 620.8 31.8Q624.8 33.1 626.8 33.1L628.7 33.1" fill="none" stroke="#b8506e" stroke-width="0.65"/><path d="M628.7 33.1Q635.3 31.8 638 34.4Q640.6 37 642.5 40.3Q644.5 43.6 645.2 47.5Q645.9 51.5 646.5 55.5Q647.2 59.5 649.6 62.8Q652 66 656 68Q660 70 664 73Q668 76 670 80Q672 84 670 88Q668 92 665 95L662 98" fill="none" stroke="#b8506e" stroke-width="0.65"/><path d="M628.7 34.4Q630 42.3 629.7 44.3Q629.4 46.3 627.7 49.1Q626 52 623 54Q620 56 618 59Q616 62 614.5 66Q613 70 614.5 74Q616 78 619 81Q622 84 626 86Q630 88 634 89L638 90" fill="none" stroke="#b8506e" stroke-width="0.65"/><path d="M620 60Q625 55 628.5 56.5Q632 58 634 61L636 64" fill="none" stroke="#b8506e" stroke-width="0.6"/><path d="M630 90Q628 96 631 99Q634 102 638 103Q642 104 646 103.5Q650 103 653 100.5L656 98" fill="none" stroke="#b8506e" stroke-width="0.6"/><path d="M612 74Q609 80 610.5 83Q612 86 615 87L618 88" fill="none" stroke="#b8506e" stroke-width="0.5"/><path d="M624 62Q630 60 633 58Q636 56 638 58L640 60" fill="none" stroke="#b8506e" stroke-width="0.5"/><g transform="rotate(0.0 645 78)"><path d="M622 64L634 60L648 64L664 70L668 78L664 88L660 96L650 102L636 100L626 92L620 82L618 72Z" fill="#f3f3f3" stroke="#d0d0d0" stroke-width="0.5" stroke-linejoin="round"/><path d="M616 66Q622 62 625 64Q628 66 627 69L626 72" fill="none" stroke="#a8a8a8" stroke-width="0.5"/><path d="M634.7 67.8L658.1 76.9L657.2 79.2L664 75.5L661.5 68.1L660.6 70.4L637.3 61.2Z" fill="url(#sg)" stroke="#b8506e" stroke-width="0.6" stroke-linejoin="round"/><path d="M621.1 74.1L651.3 81.5L650.6 84L657 79L653.6 71.6L653 74.2L622.9 66.9Z" fill="url(#sg)" stroke="#b8506e" stroke-width="0.6" stroke-linejoin="round"/><path d="M659.9 82.1L635.7 75.9L636.3 73.5L630 78L633.4 85L634 82.6L658.1 88.9Z" fill="url(#sg)" stroke="#b8506e" stroke-width="0.6" stroke-linejoin="round"/><path d="M652.8 87.9L633.7 82.7L634.3 80.5L628 84.5L631.4 91.1L632 88.9L651.2 94.1Z" fill="url(#sg)" stroke="#b8506e" stroke-width="0.6" stroke-linejoin="round"/><path d="M640.5 98.7L657.6 95.6L657.9 97.5L662 92L656.2 88.3L656.6 90.2L639.5 93.3Z" fill="url(#sg)" stroke="#b8506e" stroke-width="0.6" stroke-linejoin="round"/><path d="M634.1 64.4L637.3 64.9L637.3 68.6L634.1 68.1Z" fill="#b8506e" stroke="#b8506e" stroke-width="0.5" stroke-linejoin="round"/><path d="M651.2 77.1L654.8 77.6L654.8 79.5L651.2 79Z" fill="#b8506e" stroke="#b8506e" stroke-width="0.5" stroke-linejoin="round"/><path d="M657 82.8L660.5 83.3L660.5 84.8L657 84.3Z" fill="#b8506e" stroke="#b8506e" stroke-width="0.5" stroke-linejoin="round"/><path d="M615.9 69.3L618.7 69.8L618.7 74.2L615.9 73.8Z" fill="#b8506e" stroke="#b8506e" stroke-width="0.5" stroke-linejoin="round"/><path d="M648.8 97.9L652.2 98.4L652.2 102.1L648.8 101.6Z" fill="#b8506e" stroke="#b8506e" stroke-width="0.5" stroke-linejoin="round"/><path d="M627.5 44.5L631 45L631 49.5L627.5 49Z" fill="#b8506e" stroke="#b8506e" stroke-width="0.5" stroke-linejoin="round"/><path d="M636 96L641 95L642 101L637 101.5Z" fill="#e8e8e8" stroke="#b8506e" stroke-width="0.5" stroke-linejoin="round"/><path d="M624 76L630 74L632 80L626 82Z" fill="#dcdcdc" stroke="#b8506e" stroke-width="0.5" stroke-linejoin="round"/></g></g>
<g transform="translate(1 128)"><path d="M617 22Q624 21 628 20Q632 19 634 20.5Q636 22 633 23Q630 24 626 24.5Q622 25 619 26Q616 27 617 29Q618 31 622 32.5Q626 34 630 33.5Q634 33 637.5 35.5Q641 38 643 42Q645 46 646 51Q647 56 648.5 60Q650 64 654 66.5Q658 69 662.5 72Q667 75 670 79Q673 83 671.5 87.5Q670 92 667 95L664 98" fill="none" stroke="#86c98a" stroke-width="0.6"/><path d="M618 58Q614 66 614.5 71Q615 76 618 79.5Q621 83 624.5 85.5Q628 88 632 89.5L636 91" fill="none" stroke="#86c98a" stroke-width="0.6"/><path d="M642 92Q650 97 655 96.5Q660 96 664 94Q668 92 671 89Q674 86 676 82L678 78" fill="none" stroke="#86c98a" stroke-width="0.5"/><path d="M636 40Q640 50 639 54Q638 58 640 60Q642 62 646 62Q650 62 653 64L656 66" fill="none" stroke="#86c98a" stroke-width="0.5"/><path d="M612 34Q618 38 620 42Q622 46 621 49Q620 52 617 54L614 56" fill="none" stroke="#86c98a" stroke-width="0.5"/><path d="M660 100Q668 102 671 99Q674 96 676.5 93L679 90" fill="none" stroke="#86c98a" stroke-width="0.5"/><path d="M610 22Q614 18 617 17Q620 16 623 16.5L626 17" fill="none" stroke="#b5b5b5" stroke-width="0.5"/><path d="M638 30Q646 34 649 38Q652 42 653 47L654 52" fill="none" stroke="#b5b5b5" stroke-width="0.5"/><path d="M615.5 21.2Q622.1 19.9 626.8 18.9Q631.4 17.9 633 19.5Q634.7 21.2 631.7 21.9Q628.7 22.5 624.8 23.2Q620.8 23.9 617.8 24.5Q614.9 25.2 615.9 27.9Q616.9 30.5 620.8 31.8Q624.8 33.1 626.8 33.1L628.7 33.1" fill="none" stroke="#4caf50" stroke-width="0.65"/><path d="M628.7 33.1Q635.3 31.8 638 34.4Q640.6 37 642.5 40.3Q644.5 43.6 645.2 47.5Q645.9 51.5 646.5 55.5Q647.2 59.5 649.6 62.8Q652 66 656 68Q660 70 664 73Q668 76 670 80Q672 84 670 88Q668 92 665 95L662 98" fill="none" stroke="#4caf50" stroke-width="0.65"/><path d="M628.7 34.4Q630 42.3 629.7 44.3Q629.4 46.3 627.7 49.1Q626 52 623 54Q620 56 618 59Q616 62 614.5 66Q613 70 614.5 74Q616 78 619 81Q622 84 626 86Q630 88 634 89L638 90" fill="none" stroke="#4caf50" stroke-width="0.65"/><path d="M620 60Q625 55 628.5 56.5Q632 58 634 61L636 64" fill="none" stroke="#4caf50" stroke-width="0.6"/><path d="M630 90Q628 96 631 99Q634 102 638 103Q642 104 646 103.5Q650 103 653 100.5L656 98" fill="none" stroke="#4caf50" stroke-width="0.6"/><path d="M612 74Q609 80 610.5 83Q612 86 615 87L618 88" fill="none" stroke="#4caf50" stroke-width="0.5"/><path d="M624 62Q630 60 633 58Q636 56 638 58L640 60" fill="none" stroke="#4caf50" stroke-width="0.5"/><g transform="rotate(6 645 78)"><path d="M622 64L634 60L648 64L664 70L668 78L664 88L660 96L650 102L636 100L626 92L620 82L618 72Z" fill="#f3f3f3" stroke="#d0d0d0" stroke-width="0.5" stroke-linejoin="round"/><path d="M616 66Q622 62 625 64Q628 66 627 69L626 72" fill="none" stroke="#a8a8a8" stroke-width="0.5"/><path d="M634.7 67.8L658.1 76.9L657.2 79.2L664 75.5L661.5 68.1L660.6 70.4L637.3 61.2Z" fill="url(#sg)" stroke="#4caf50" stroke-width="0.6" stroke-linejoin="round"/><path d="M621.1 74.1L651.3 81.5L650.6 84L657 79L653.6 71.6L653 74.2L622.9 66.9Z" fill="url(#sg)" stroke="#4caf50" stroke-width="0.6" stroke-linejoin="round"/><path d="M659.9 82.1L635.7 75.9L636.3 73.5L630 78L633.4 85L634 82.6L658.1 88.9Z" fill="url(#sg)" stroke="#4caf50" stroke-width="0.6" stroke-linejoin="round"/><path d="M652.8 87.9L633.7 82.7L634.3 80.5L628 84.5L631.4 91.1L632 88.9L651.2 94.1Z" fill="url(#sg)" stroke="#4caf50" stroke-width="0.6" stroke-linejoin="round"/><path d="M640.5 98.7L657.6 95.6L657.9 97.5L662 92L656.2 88.3L656.6 90.2L639.5 93.3Z" fill="url(#sg)" stroke="#4caf50" stroke-width="0.6" stroke-linejoin="round"/><path d="M633.5 63.5L638 64L638 69.5L633.5 69Z" fill="#4caf50" stroke="#4caf50" stroke-width="0.5" stroke-linejoin="round"/><path d="M650.5 76.5L655.5 77L655.5 80L650.5 79.5Z" fill="#4caf50" stroke="#4caf50" stroke-width="0.5" stroke-linejoin="round"/><path d="M656.3 82.4L661.3 82.9L661.3 85.2L656.3 84.7Z" fill="#4caf50" stroke="#4caf50" stroke-width="0.5" stroke-linejoin="round"/><path d="M615.3 68.3L619.3 68.8L619.3 75.3L615.3 74.8Z" fill="#4caf50" stroke="#4caf50" stroke-width="0.5" stroke-linejoin="round"/><path d="M648 97L653 97.5L653 103L648 102.5Z" fill="#4caf50" stroke="#4caf50" stroke-width="0.5" stroke-linejoin="round"/><path d="M626.8 43.5L631.8 44L631.8 50.5L626.8 50Z" fill="#4caf50" stroke="#4caf50" stroke-width="0.5" stroke-linejoin="round"/><path d="M636 96L641 95L642 101L637 101.5Z" fill="#e8e8e8" stroke="#4caf50" stroke-width="0.5" stroke-linejoin="round"/><path d="M624 76L630 74L632 80L626 82Z" fill="#dcdcdc" stroke="#4caf50" stroke-width="0.5" stroke-linejoin="round"/></g></g>
<g transform="translate(-2 244)"><path d="M617 22Q624 21 628 20Q632 19 634 20.5Q636 22 633 23Q630 24 626 24.5Q622 25 619 26Q616 27 617 29Q618 31 622 32.5Q626 34 630 33.5Q634 33 637.5 35.5Q641 38 643 42Q645 46 646 51Q647 56 648.5 60Q650 64 654 66.5Q658 69 662.5 72Q667 75 670 79Q673 83 671.5 87.5Q670 92 667 95L664 98" fill="none" stroke="#6aa6e0" stroke-width="0.6"/><path d="M618 58Q614 66 614.5 71Q615 76 618 79.5Q621 83 624.5 85.5Q628 88 632 89.5L636 91" fill="none" stroke="#6aa6e0" stroke-width="0.6"/><path d="M642 92Q650 97 655 96.5Q660 96 664 94Q668 92 671 89Q674 86 676 82L678 78" fill="none" stroke="#6aa6e0" stroke-width="0.5"/><path d="M636 40Q640 50 639 54Q638 58 640 60Q642 62 646 62Q650 62 653 64L656 66" fill="none" stroke="#6aa6e0" stroke-width="0.5"/><path d="M612 34Q618 38 620 42Q622 46 621 49Q620 52 617 54L614 56" fill="none" stroke="#6aa6e0" stroke-width="0.5"/><path d="M660 100Q668 102 671 99Q674 96 676.5 93L679 90" fill="none" stroke="#6aa6e0" stroke-width="0.5"/><path d="M610 22Q614 18 617 17Q620 16 623 16.5L626 17" fill="none" stroke="#b5b5b5" stroke-width="0.5"/><path d="M638 30Q646 34 649 38Q652 42 653 47L654 52" fill="none" stroke="#b5b5b5" stroke-width="0.5"/><path d="M615.5 21.2Q622.1 19.9 626.8 18.9Q631.4 17.9 633 19.5Q634.7 21.2 631.7 21.9Q628.7 22.5 624.8 23.2Q620.8 23.9 617.8 24.5Q614.9 25.2 615.9 27.9Q616.9 30.5 620.8 31.8Q624.8 33.1 626.8 33.1L628.7 33.1" fill="none" stroke="#2479cf" stroke-width="0.65"/><path d="M628.7 33.1Q635.3 31.8 638 34.4Q640.6 37 642.5 40.3Q644.5 43.6 645.2 47.5Q645.9 51.5 646.5 55.5Q647.2 59.5 649.6 62.8Q652 66 656 68Q660 70 664 73Q668 76 670 80Q672 84 670 88Q668 92 665 95L662 98" fill="none" stroke="#2479cf" stroke-width="0.65"/><path d="M628.7 34.4Q630 42.3 629.7 44.3Q629.4 46.3 627.7 49.1Q626 52 623 54Q620 56 618 59Q616 62 614.5 66Q613 70 614.5 74Q616 78 619 81Q622 84 626 86Q630 88 634 89L638 90" fill="none" stroke="#2479cf" stroke-width="0.65"/><path d="M620 60Q625 55 628.5 56.5Q632 58 634 61L636 64" fill="none" stroke="#2479cf" stroke-width="0.6"/><path d="M630 90Q628 96 631 99Q634 102 638 103Q642 104 646 103.5Q650 103 653 100.5L656 98" fill="none" stroke="#2479cf" stroke-width="0.6"/><path d="M612 74Q609 80 610.5 83Q612 86 615 87L618 88" fill="none" stroke="#2479cf" stroke-width="0.5"/><path d="M624 62Q630 60 633 58Q636 56 638 58L640 60" fill="none" stroke="#2479cf" stroke-width="0.5"/><g transform="rotate(38 645 78)"><path d="M622 64L634 60L648 64L664 70L668 78L664 88L660 96L650 102L636 100L626 92L620 82L618 72Z" fill="#f3f3f3" stroke="#d0d0d0" stroke-width="0.5" stroke-linejoin="round"/><path d="M616 66Q622 62 625 64Q628 66 627 69L626 72" fill="none" stroke="#a8a8a8" stroke-width="0.5"/><path d="M634.7 67.8L658.1 76.9L657.2 79.2L664 75.5L661.5 68.1L660.6 70.4L637.3 61.2Z" fill="url(#sg)" stroke="#2479cf" stroke-width="0.6" stroke-linejoin="round"/><path d="M621.1 74.1L651.3 81.5L650.6 84L657 79L653.6 71.6L653 74.2L622.9 66.9Z" fill="url(#sg)" stroke="#2479cf" stroke-width="0.6" stroke-linejoin="round"/><path d="M659.9 82.1L635.7 75.9L636.3 73.5L630 78L633.4 85L634 82.6L658.1 88.9Z" fill="url(#sg)" stroke="#2479cf" stroke-width="0.6" stroke-linejoin="round"/><path d="M652.8 87.9L633.7 82.7L634.3 80.5L628 84.5L631.4 91.1L632 88.9L651.2 94.1Z" fill="url(#sg)" stroke="#2479cf" stroke-width="0.6" stroke-linejoin="round"/><path d="M640.5 98.7L657.6 95.6L657.9 97.5L662 92L656.2 88.3L656.6 90.2L639.5 93.3Z" fill="url(#sg)" stroke="#2479cf" stroke-width="0.6" stroke-linejoin="round"/><path d="M633.5 63.5L638 64L638 69.5L633.5 69Z" fill="#2479cf" stroke="#2479cf" stroke-width="0.5" stroke-linejoin="round"/><path d="M650.5 76.5L655.5 77L655.5 80L650.5 79.5Z" fill="#2479cf" stroke="#2479cf" stroke-width="0.5" stroke-linejoin="round"/><path d="M656.3 82.4L661.3 82.9L661.3 85.2L656.3 84.7Z" fill="#2479cf" stroke="#2479cf" stroke-width="0.5" stroke-linejoin="round"/><path d="M615.3 68.3L619.3 68.8L619.3 75.3L615.3 74.8Z" fill="#2479cf" stroke="#2479cf" stroke-width="0.5" stroke-linejoin="round"/><path d="M648 97L653 97.5L653 103L648 102.5Z" fill="#2479cf" stroke="#2479cf" stroke-width="0.5" stroke-linejoin="round"/><path d="M626.8 43.5L631.8 44L631.8 50.5L626.8 50Z" fill="#2479cf" stroke="#2479cf" stroke-width="0.5" stroke-linejoin="round"/><path d="M636 96L641 95L642 101L637 101.5Z" fill="#e8e8e8" stroke="#2479cf" stroke-width="0.5" stroke-linejoin="round"/><path d="M624 76L630 74L632 80L626 82Z" fill="#dcdcdc" stroke="#2479cf" stroke-width="0.5" stroke-linejoin="round"/><path d="M637.2 68.6L661.2 78.1L662.8 73.9L638.8 64.4Z" fill="#2479cf" stroke="#2479cf" stroke-width="0.6" stroke-linejoin="round"/><path d="M623.4 75.3L653.4 82.8L654.6 78.2L624.6 70.7Z" fill="#2479cf" stroke="#2479cf" stroke-width="0.6" stroke-linejoin="round"/><path d="M631.4 82.8L655.4 89.3L656.6 84.7L632.6 78.2Z" fill="#2479cf" stroke="#2479cf" stroke-width="0.6" stroke-linejoin="round"/><path d="M629.5 88L649.5 93L650.5 89L630.5 84Z" fill="#2479cf" stroke="#2479cf" stroke-width="0.6" stroke-linejoin="round"/><path d="M642.3 96.7L660.3 93.2L659.7 89.8L641.7 93.3Z" fill="#2479cf" stroke="#2479cf" stroke-width="0.6" stroke-linejoin="round"/><path d="M612 70L620 66L624 74L618 80L612 78Z" fill="#2479cf" stroke="#2479cf" stroke-width="0.5" stroke-linejoin="round"/><path d="M640 97L650 95L652 103L642 104Z" fill="#2479cf" stroke="#2479cf" stroke-width="0.5" stroke-linejoin="round"/><path d="M614 60L620 58L622 64L616 66Z" fill="#2479cf" stroke="#2479cf" stroke-width="0.5" stroke-linejoin="round"/></g></g>
<text x="477.7" y="14.3" font-size="19" text-anchor="start" font-weight="bold" fill="#000" >c</text>
<text x="674.6" y="14.2" font-size="19" text-anchor="start" font-weight="bold" fill="#000" >e</text>
<text x="477.1" y="160.8" font-size="19" text-anchor="start" font-weight="bold" fill="#000" >d</text>
<text x="677" y="155.8" font-size="19" text-anchor="start" font-weight="bold" fill="#000" >f</text>
</svg></body></html>
